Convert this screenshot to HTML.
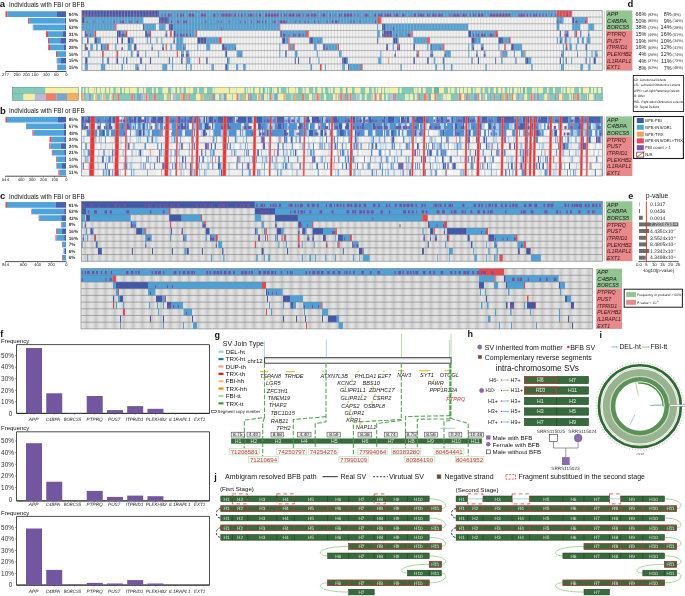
<!DOCTYPE html>
<html><head><meta charset="utf-8"><title>Figure</title>
<style>
html,body{margin:0;padding:0;background:#fff;}
body{width:685px;height:596px;overflow:hidden;}
svg{display:block;font-family:"Liberation Sans",sans-serif;will-change:transform;}
text{font-family:"Liberation Sans",sans-serif;}
.b{font-weight:bold;}
.i{font-style:italic;}
.t{stroke:currentColor;stroke-width:0.1;}
.g{text-rendering:geometricPrecision;}
</style></head><body>
<svg width="685" height="596" viewBox="0 0 685 596"><text x="-0.3" y="7.32" font-size="9.5" class="b" fill="#141414">a</text><text x="9" y="7.27" font-size="6.3" fill="#141414">Individuals with FBI or BFB</text><rect x="5.5" y="11.27" width="2.1" height="5.72" fill="#e84a50"/><rect x="7.6" y="11.27" width="49.4" height="5.72" fill="#50a3da"/><rect x="57" y="11.27" width="9" height="5.72" fill="#4662b0"/><text x="68.8" y="15.78" font-size="4.6" class="b g" fill="#3a3a3a">94%</text><rect x="28" y="17.92" width="1.2" height="5.72" fill="#e84a50"/><rect x="29.2" y="17.92" width="35.5" height="5.72" fill="#50a3da"/><rect x="64.7" y="17.92" width="1.3" height="5.72" fill="#4662b0"/><text x="68.8" y="22.43" font-size="4.6" class="b g" fill="#3a3a3a">59%</text><rect x="32.8" y="24.57" width="0.6" height="5.72" fill="#e84a50"/><rect x="33.4" y="24.57" width="31.5" height="5.72" fill="#50a3da"/><rect x="64.9" y="24.57" width="1.1" height="5.72" fill="#4662b0"/><text x="68.8" y="29.08" font-size="4.6" class="b g" fill="#3a3a3a">52%</text><rect x="46" y="31.22" width="2" height="5.72" fill="#e84a50"/><rect x="48" y="31.22" width="15" height="5.72" fill="#50a3da"/><rect x="63" y="31.22" width="3" height="5.72" fill="#4662b0"/><text x="68.8" y="35.73" font-size="4.6" class="b g" fill="#3a3a3a">31%</text><rect x="48" y="37.87" width="1" height="5.72" fill="#e84a50"/><rect x="49" y="37.87" width="11.3" height="5.72" fill="#50a3da"/><rect x="60.3" y="37.87" width="5.7" height="5.72" fill="#4662b0"/><text x="68.8" y="42.38" font-size="4.6" class="b g" fill="#3a3a3a">29%</text><rect x="48.2" y="44.52" width="1.8" height="5.72" fill="#e84a50"/><rect x="50" y="44.52" width="13.5" height="5.72" fill="#50a3da"/><rect x="63.5" y="44.52" width="2.5" height="5.72" fill="#4662b0"/><text x="68.8" y="49.03" font-size="4.6" class="b g" fill="#3a3a3a">28%</text><rect x="56" y="51.17" width="1" height="5.72" fill="#e84a50"/><rect x="57" y="51.17" width="9" height="5.72" fill="#50a3da"/><text x="68.8" y="55.68" font-size="4.6" class="b g" fill="#3a3a3a">16%</text><rect x="56.7" y="57.82" width="0.5" height="5.72" fill="#e84a50"/><rect x="57.2" y="57.82" width="3.8" height="5.72" fill="#50a3da"/><rect x="61" y="57.82" width="5" height="5.72" fill="#4662b0"/><text x="68.8" y="62.33" font-size="4.6" class="b g" fill="#3a3a3a">15%</text><rect x="57.2" y="64.47" width="0.6" height="5.72" fill="#e84a50"/><rect x="57.8" y="64.47" width="8.2" height="5.72" fill="#50a3da"/><text x="68.8" y="68.98" font-size="4.6" class="b g" fill="#3a3a3a">15%</text><line x1="5.5" y1="71.5" x2="66.2" y2="71.5" stroke="#222" stroke-width="0.8"/><line x1="5.5" y1="71.5" x2="5.5" y2="72.8" stroke="#222" stroke-width="0.5"/><text x="5.5" y="76.38" font-size="4.1" text-anchor="middle" class="g" fill="#141414">277</text><line x1="17.2" y1="71.5" x2="17.2" y2="72.8" stroke="#222" stroke-width="0.5"/><text x="17.2" y="76.38" font-size="4.1" text-anchor="middle" class="g" fill="#141414">250</text><line x1="26.3" y1="71.5" x2="26.3" y2="72.8" stroke="#222" stroke-width="0.5"/><text x="26.3" y="76.38" font-size="4.1" text-anchor="middle" class="g" fill="#141414">200</text><line x1="35" y1="71.5" x2="35" y2="72.8" stroke="#222" stroke-width="0.5"/><text x="35" y="76.38" font-size="4.1" text-anchor="middle" class="g" fill="#141414">150</text><line x1="46.4" y1="71.5" x2="46.4" y2="72.8" stroke="#222" stroke-width="0.5"/><text x="46.4" y="76.38" font-size="4.1" text-anchor="middle" class="g" fill="#141414">100</text><line x1="56.2" y1="71.5" x2="56.2" y2="72.8" stroke="#222" stroke-width="0.5"/><text x="56.2" y="76.38" font-size="4.1" text-anchor="middle" class="g" fill="#141414">50</text><line x1="66.4" y1="71.5" x2="66.4" y2="72.8" stroke="#222" stroke-width="0.5"/><text x="66.4" y="76.38" font-size="4.1" text-anchor="middle" class="g" fill="#141414">0</text><rect x="81.9" y="10.4" width="520.3" height="60.21" fill="#f1f1f1"/><path fill="#4259a9" d="M81.9 10.4h77.2v6.69h-77.2zM81.9 17.09h2.9v6.69h-2.9zM159.1 17.09h9.7v6.69h-9.7zM572.2 17.09h2.1v6.69h-2.1zM143 23.78h1.6v6.69h-1.6zM168.8 23.78h4.2v6.69h-4.2zM382 23.78h3.7v6.69h-3.7zM84.8 30.47h1.6v6.69h-1.6zM117 30.47h3.8v6.69h-3.8zM145 30.47h2.3v6.69h-2.3zM173.6 30.47h2.2v6.69h-2.2zM280.3 30.47h1.6v6.69h-1.6zM383.6 30.47h8.6v6.69h-8.6zM468.2 30.47h3.2v6.69h-3.2zM559.8 30.47h1.1v6.69h-1.1zM564.7 30.47h1v6.69h-1zM567.2 30.47h1.2v6.69h-1.2zM580.2 30.47h1.1v6.69h-1.1zM87 37.16h1.6v6.69h-1.6zM94.5 37.16h3.2v6.69h-3.2zM117 37.16h1v6.69h-1zM121.4 37.16h1.6v6.69h-1.6zM127.8 37.16h2.7v6.69h-2.7zM173.6 37.16h1.1v6.69h-1.1zM197.2 37.16h8.8v6.69h-8.8zM281.9 37.16h3.2v6.69h-3.2zM309.3 37.16h4.3v6.69h-4.3zM377.1 37.16h1.1v6.69h-1.1zM393.2 37.16h3.9v6.69h-3.9zM471.4 37.16h4.3v6.69h-4.3zM498.3 37.16h4.8v6.69h-4.8zM564.7 37.16h1.6v6.69h-1.6zM586.7 37.16h1v6.69h-1zM84.8 43.85h1.6v6.69h-1.6zM101 43.85h1v6.69h-1zM134.2 43.85h2.2v6.69h-2.2zM183.3 43.85h1.1v6.69h-1.1zM222.1 43.85h2.7v6.69h-2.7zM323.2 43.85h1.7v6.69h-1.7zM386.2 43.85h1.7v6.69h-1.7zM398.8 43.85h1v6.69h-1zM413.3 43.85h1.6v6.69h-1.6zM430.4 43.85h1.7v6.69h-1.7zM511.2 43.85h2.7v6.69h-2.7zM585.6 43.85h1.6v6.69h-1.6zM225.3 50.54h1.7v6.69h-1.7zM285.1 50.54h1.6v6.69h-1.6zM85.2 57.23h2.3v6.69h-2.3zM107.4 57.23h1.4v6.69h-1.4zM116.5 57.23h1.5v6.69h-1.5zM126.2 57.23h1.1v6.69h-1.1zM140.2 57.23h1.6v6.69h-1.6zM150 57.23h1v6.69h-1zM168.8 57.23h1.1v6.69h-1.1zM181.1 57.23h1.6v6.69h-1.6zM186.5 57.23h1.1v6.69h-1.1zM206 57.23h1.6v6.69h-1.6zM227 57.23h1.2v6.69h-1.2zM294.8 57.23h1.1v6.69h-1.1zM298 57.23h1.1v6.69h-1.1zM309.3 57.23h1.1v6.69h-1.1zM342.2 57.23h4.8v6.69h-4.8zM413.3 57.23h1.6v6.69h-1.6zM427.2 57.23h1.6v6.69h-1.6zM442.8 57.23h1.6v6.69h-1.6zM471.4 57.23h1.1v6.69h-1.1zM477.9 57.23h1.1v6.69h-1.1zM495 57.23h1.1v6.69h-1.1zM515.5 57.23h1v6.69h-1zM525.3 57.23h2.7v6.69h-2.7zM559.8 57.23h1.1v6.69h-1.1zM565.7 57.23h1.1v6.69h-1.1zM585.6 57.23h1.1v6.69h-1.1zM593.6 57.23h2.2v6.69h-2.2zM225.3 63.92h1.7v6.69h-1.7zM348.1 63.92h1.6v6.69h-1.6z"/><path fill="#4ea1d7" d="M159.1 10.4h397.5v6.69h-397.5zM84.8 17.09h58.6v6.69h-58.6zM168.8 17.09h208.3v6.69h-208.3zM556.6 17.09h7v6.69h-7zM574.3 17.09h11.8v6.69h-11.8zM81.9 23.78h33v6.69h-33zM144.6 23.78h11.3v6.69h-11.3zM159.1 23.78h6.5v6.69h-6.5zM173 23.78h106.2v6.69h-106.2zM377.1 23.78h1.1v6.69h-1.1zM385.7 23.78h82.5v6.69h-82.5zM556.6 23.78h2.7v6.69h-2.7zM572.2 23.78h8v6.69h-8zM588.3 23.78h5.9v6.69h-5.9zM86.4 30.47h8.1v6.69h-8.1zM120.8 30.47h4.8v6.69h-4.8zM147.3 30.47h2.7v6.69h-2.7zM165.6 30.47h1.6v6.69h-1.6zM175.8 30.47h19.8v6.69h-19.8zM281.9 30.47h24.1v6.69h-24.1zM377.1 30.47h2.7v6.69h-2.7zM382 30.47h1.6v6.69h-1.6zM392.2 30.47h19.4v6.69h-19.4zM471.4 30.47h23.6v6.69h-23.6zM565.7 30.47h1.5v6.69h-1.5zM574.2 30.47h1.2v6.69h-1.2zM588.3 30.47h1v6.69h-1zM81.9 37.16h0.8v6.69h-0.8zM97.7 37.16h3.3v6.69h-3.3zM130.5 37.16h3.2v6.69h-3.2zM146.8 37.16h1v6.69h-1zM150 37.16h1v6.69h-1zM156.4 37.16h1.1v6.69h-1.1zM161.3 37.16h1v6.69h-1zM176.3 37.16h7v6.69h-7zM206 37.16h12.9v6.69h-12.9zM285.1 37.16h3.2v6.69h-3.2zM313.6 37.16h9.1v6.69h-9.1zM397.1 37.16h1.7v6.69h-1.7zM413.3 37.16h13.9v6.69h-13.9zM475.7 37.16h4.9v6.69h-4.9zM503.1 37.16h5.9v6.69h-5.9zM557 37.16h1v6.69h-1zM559.8 37.16h2.7v6.69h-2.7zM566.3 37.16h1v6.69h-1zM569.5 37.16h1v6.69h-1zM577 37.16h2.1v6.69h-2.1zM581.8 37.16h2.2v6.69h-2.2zM587.7 37.16h2.7v6.69h-2.7zM90.2 43.85h2.7v6.69h-2.7zM96.1 43.85h1.6v6.69h-1.6zM102 43.85h4.9v6.69h-4.9zM114.9 43.85h1.6v6.69h-1.6zM127.8 43.85h3.8v6.69h-3.8zM151.6 43.85h1.1v6.69h-1.1zM162.3 43.85h1.6v6.69h-1.6zM170.4 43.85h1.4v6.69h-1.4zM175.8 43.85h6.9v6.69h-6.9zM184.4 43.85h1.6v6.69h-1.6zM197.2 43.85h1.1v6.69h-1.1zM206 43.85h4.3v6.69h-4.3zM224.8 43.85h11.2v6.69h-11.2zM279.2 43.85h1.1v6.69h-1.1zM289.6 43.85h3.6v6.69h-3.6zM314.1 43.85h2.7v6.69h-2.7zM324.9 43.85h12.5v6.69h-12.5zM392.7 43.85h1.1v6.69h-1.1zM427.2 43.85h1.1v6.69h-1.1zM432.1 43.85h10.7v6.69h-10.7zM468.2 43.85h1.1v6.69h-1.1zM471.4 43.85h2.6v6.69h-2.6zM481.1 43.85h2.7v6.69h-2.7zM498.3 43.85h1.1v6.69h-1.1zM513.9 43.85h8.1v6.69h-8.1zM563 43.85h1v6.69h-1zM569.5 43.85h2.5v6.69h-2.5zM575.8 43.85h1.1v6.69h-1.1zM88 50.54h1.7v6.69h-1.7zM131 50.54h1.6v6.69h-1.6zM136.9 50.54h2.1v6.69h-2.1zM145.1 50.54h1.1v6.69h-1.1zM158 50.54h1.1v6.69h-1.1zM181.1 50.54h2.7v6.69h-2.7zM186 50.54h3.2v6.69h-3.2zM236.6 50.54h5.9v6.69h-5.9zM279.2 50.54h1.1v6.69h-1.1zM294.8 50.54h2.7v6.69h-2.7zM316.8 50.54h1.1v6.69h-1.1zM339 50.54h2.7v6.69h-2.7zM380.3 50.54h1.1v6.69h-1.1zM395 50.54h1v6.69h-1zM416.5 50.54h1.1v6.69h-1.1zM430.4 50.54h2.7v6.69h-2.7zM444.4 50.54h6.5v6.69h-6.5zM468.2 50.54h1.1v6.69h-1.1zM476.3 50.54h1.6v6.69h-1.6zM483.8 50.54h1.6v6.69h-1.6zM500.4 50.54h1.1v6.69h-1.1zM502.6 50.54h4.8v6.69h-4.8zM513.9 50.54h1.1v6.69h-1.1zM521 50.54h3.8v6.69h-3.8zM561.3 50.54h2.7v6.69h-2.7zM577 50.54h1v6.69h-1zM586.1 50.54h1.1v6.69h-1.1zM591.5 50.54h1.1v6.69h-1.1zM594.7 50.54h2.7v6.69h-2.7zM102 57.23h1.6v6.69h-1.6zM123 57.23h1v6.69h-1zM172 57.23h1v6.69h-1zM187.6 57.23h2.7v6.69h-2.7zM228.2 57.23h1.4v6.69h-1.4zM318.4 57.23h1.1v6.69h-1.1zM347 57.23h1.1v6.69h-1.1zM378.2 57.23h3.2v6.69h-3.2zM433.7 57.23h1.6v6.69h-1.6zM501 57.23h1.6v6.69h-1.6zM528 57.23h3.2v6.69h-3.2zM562.9 57.23h1.1v6.69h-1.1zM571.1 57.23h1.1v6.69h-1.1zM589.3 57.23h1.1v6.69h-1.1zM84.8 63.92h3.2v6.69h-3.2zM101 63.92h4.2v6.69h-4.2zM121.4 63.92h1.6v6.69h-1.6zM135.3 63.92h3.2v6.69h-3.2zM145.1 63.92h1.1v6.69h-1.1zM162.3 63.92h4.9v6.69h-4.9zM172 63.92h1v6.69h-1zM186 63.92h1v6.69h-1zM190.3 63.92h1.6v6.69h-1.6zM211.4 63.92h2.6v6.69h-2.6zM227 63.92h1.6v6.69h-1.6zM236 63.92h2.2v6.69h-2.2zM243 63.92h2.7v6.69h-2.7zM310.4 63.92h1.6v6.69h-1.6zM324.9 63.92h1.1v6.69h-1.1zM342.2 63.92h2.7v6.69h-2.7zM349.7 63.92h11.3v6.69h-11.3zM400.4 63.92h1.6v6.69h-1.6zM435.3 63.92h1.6v6.69h-1.6zM443.3 63.92h1.7v6.69h-1.7zM450.9 63.92h1.6v6.69h-1.6zM485.4 63.92h1.6v6.69h-1.6zM531.2 63.92h1.6v6.69h-1.6zM560.9 63.92h3.1v6.69h-3.1zM580.2 63.92h2.7v6.69h-2.7zM588.3 63.92h2.1v6.69h-2.1z"/><path fill="#e8484b" d="M556.6 10.4h15.6v6.69h-15.6zM377.1 17.09h4.3v6.69h-4.3zM586.1 17.09h1.6v6.69h-1.6zM114.9 23.78h1.6v6.69h-1.6zM279.2 23.78h1.1v6.69h-1.1zM94.5 30.47h1.6v6.69h-1.6zM125.6 30.47h1.7v6.69h-1.7zM150 30.47h1v6.69h-1zM169.9 30.47h1.9v6.69h-1.9zM195.6 30.47h1.3v6.69h-1.3zM306 30.47h2.7v6.69h-2.7zM411.6 30.47h1.1v6.69h-1.1zM495 30.47h2.7v6.69h-2.7zM575.4 30.47h1.6v6.69h-1.6zM218.9 37.16h2.7v6.69h-2.7zM288.3 37.16h1.3v6.69h-1.3zM427.2 37.16h2.7v6.69h-2.7zM509 37.16h1.6v6.69h-1.6zM106.9 43.85h1.9v6.69h-1.9zM165.6 43.85h1.2v6.69h-1.2zM288.3 43.85h1.3v6.69h-1.3zM293.2 43.85h1.6v6.69h-1.6zM337.4 43.85h1.6v6.69h-1.6zM397.1 43.85h1.7v6.69h-1.7zM442.8 43.85h1.6v6.69h-1.6zM504.2 43.85h1.6v6.69h-1.6zM565.7 43.85h1.6v6.69h-1.6zM102 50.54h1.8v6.69h-1.8zM116.5 50.54h1.5v6.69h-1.5zM176.8 50.54h1.1v6.69h-1.1zM417.6 50.54h1.2v6.69h-1.2zM501.5 50.54h1.1v6.69h-1.1zM198.9 57.23h1v6.69h-1zM320 63.92h1.6v6.69h-1.6zM361 63.92h1.6v6.69h-1.6z"/><path fill="#f0a050" d="M524.8 50.54h1v6.69h-1zM387.9 57.23h1v6.69h-1z"/><path fill="#7a4f9f" d="M82.1 13.75h5.9v2.88h-5.9zM90.2 13.75h1v2.88h-1zM93.4 13.75h2.7v2.88h-2.7zM109 13.75h2.7v2.88h-2.7zM115.4 13.75h2.2v2.88h-2.2zM120.3 13.75h1v2.88h-1zM123.5 13.75h1v2.88h-1zM126.2 13.75h1v2.88h-1zM132.6 13.75h3.8v2.88h-3.8zM139 13.75h1v2.88h-1zM142.3 13.75h1v2.88h-1zM147.3 13.75h2.1v2.88h-2.1zM153.2 13.75h2.7v2.88h-2.7zM161.3 13.75h1v2.88h-1zM164.5 13.75h1.1v2.88h-1.1zM167.7 13.75h3.8v2.88h-3.8zM176.8 13.75h1.1v2.88h-1.1zM180 13.75h3.8v2.88h-3.8zM188.1 13.75h6.5v2.88h-6.5zM200.5 13.75h5.3v2.88h-5.3zM213 13.75h2.7v2.88h-2.7zM217.8 13.75h1.1v2.88h-1.1zM221 13.75h10.8v2.88h-10.8zM233.4 13.75h2.6v2.88h-2.6zM238.2 13.75h1.1v2.88h-1.1zM240.9 13.75h1.6v2.88h-1.6zM244.7 13.75h1v2.88h-1zM247.9 13.75h5.4v2.88h-5.4zM255.4 13.75h1.1v2.88h-1.1zM258.6 13.75h2.7v2.88h-2.7zM265.1 13.75h5.9v2.88h-5.9zM271 13.75h7.7v2.88h-7.7zM280.8 13.75h1.1v2.88h-1.1zM284 13.75h2.7v2.88h-2.7zM288.3 13.75h6.5v2.88h-6.5zM296.4 13.75h4.3v2.88h-4.3zM302.8 13.75h1.1v2.88h-1.1zM306 13.75h3.3v2.88h-3.3zM310.9 13.75h5.9v2.88h-5.9zM321.6 13.75h4.3v2.88h-4.3zM329.7 13.75h1.1v2.88h-1.1zM334.1 13.75h1.1v2.88h-1.1zM339 13.75h2.7v2.88h-2.7zM343.8 13.75h8.6v2.88h-8.6zM354.6 13.75h1v2.88h-1zM357.8 13.75h1.1v2.88h-1.1zM364.2 13.75h4.3v2.88h-4.3zM373.9 13.75h2.1v2.88h-2.1zM378.2 13.75h4.3v2.88h-4.3zM384.6 13.75h6.5v2.88h-6.5zM394.3 13.75h4.5v2.88h-4.5zM402 13.75h3.2v2.88h-3.2zM410 13.75h1.1v2.88h-1.1zM413.3 13.75h2.7v2.88h-2.7zM418.1 13.75h5.9v2.88h-5.9zM427.2 13.75h2.7v2.88h-2.7zM432.1 13.75h4.3v2.88h-4.3zM438 13.75h4.8v2.88h-4.8zM449.2 13.75h1.7v2.88h-1.7zM452.5 13.75h7.6v2.88h-7.6zM461.8 13.75h4.8v2.88h-4.8zM469.8 13.75h1.1v2.88h-1.1zM473 13.75h2.7v2.88h-2.7zM477.9 13.75h5.9v2.88h-5.9zM489.1 13.75h21.5v2.88h-21.5zM518.7 13.75h6.1v2.88h-6.1zM526.4 13.75h1.6v2.88h-1.6zM530.1 13.75h1.1v2.88h-1.1zM533.4 13.75h3.7v2.88h-3.7zM539.3 13.75h1v2.88h-1zM542.5 13.75h1.1v2.88h-1.1zM545.7 13.75h1.1v2.88h-1.1zM550.5 13.75h1.1v2.88h-1.1zM555.4 13.75h1.2v2.88h-1.2zM559.3 13.75h1.1v2.88h-1.1zM566.3 13.75h2.1v2.88h-2.1zM87 20.43h1v2.88h-1zM93.4 20.43h1.1v2.88h-1.1zM103 20.43h1v2.88h-1zM113.8 20.43h1.1v2.88h-1.1zM120.3 20.43h3.7v2.88h-3.7zM129.4 20.43h2.2v2.88h-2.2zM135.9 20.43h2.1v2.88h-2.1zM160.2 20.43h6.4v2.88h-6.4zM170.9 20.43h1.1v2.88h-1.1zM177.4 20.43h2.1v2.88h-2.1zM183.3 20.43h3.7v2.88h-3.7zM205.3 20.43h1.1v2.88h-1.1zM217.8 20.43h1.1v2.88h-1.1zM221 20.43h1.1v2.88h-1.1zM228.6 20.43h1v2.88h-1zM239.8 20.43h1.1v2.88h-1.1zM244.7 20.43h1v2.88h-1zM251.1 20.43h1.1v2.88h-1.1zM257 20.43h2.7v2.88h-2.7zM261.9 20.43h1.1v2.88h-1.1zM265.1 20.43h1.1v2.88h-1.1zM272.8 20.43h2.6v2.88h-2.6zM279.2 20.43h7.5v2.88h-7.5zM294.8 20.43h1.1v2.88h-1.1zM299.6 20.43h1.1v2.88h-1.1zM304.4 20.43h1.1v2.88h-1.1zM307.7 20.43h1v2.88h-1zM314.1 20.43h1.1v2.88h-1.1zM318.4 20.43h1.1v2.88h-1.1zM326.5 20.43h1v2.88h-1zM331.3 20.43h1.8v2.88h-1.8zM334.7 20.43h3.7v2.88h-3.7zM350.3 20.43h1v2.88h-1zM353.5 20.43h1.1v2.88h-1.1zM359.4 20.43h1.1v2.88h-1.1zM375 20.43h1v2.88h-1zM556.6 20.43h1.1v2.88h-1.1zM559.3 20.43h1.1v2.88h-1.1zM575.4 20.43h2.7v2.88h-2.7zM585 20.43h1.1v2.88h-1.1zM221 27.12h1.1v2.88h-1.1zM392.7 27.12h1.1v2.88h-1.1zM86 33.81h2v2.88h-2zM90 33.81h1v2.88h-1zM120.8 33.81h4.8v2.88h-4.8zM147.3 33.81h2.7v2.88h-2.7zM165.6 33.81h1.6v2.88h-1.6zM176.8 33.81h1.1v2.88h-1.1zM180 33.81h2.7v2.88h-2.7zM183.3 33.81h1.1v2.88h-1.1zM186 33.81h1.6v2.88h-1.6zM190 33.81h1v2.88h-1zM283 33.81h3v2.88h-3zM288.3 33.81h1.1v2.88h-1.1zM293.2 33.81h2.6v2.88h-2.6zM298 33.81h2.7v2.88h-2.7zM302.8 33.81h1.1v2.88h-1.1zM382 33.81h10.2v2.88h-10.2zM396 33.81h1v2.88h-1zM401 33.81h1v2.88h-1zM406.8 33.81h4.2v2.88h-4.2zM473 33.81h1v2.88h-1zM476.3 33.81h2.7v2.88h-2.7zM481.1 33.81h4.3v2.88h-4.3zM489.1 33.81h4.3v2.88h-4.3zM496.7 33.81h1v2.88h-1zM559.8 33.81h1.1v2.88h-1.1zM564.7 33.81h1v2.88h-1zM565.7 33.81h2.7v2.88h-2.7zM588.3 33.81h1v2.88h-1zM173.6 40.51h1.1v2.88h-1.1zM201 40.51h2v2.88h-2zM318.4 40.51h1.1v2.88h-1.1zM559.8 40.51h1.2v2.88h-1.2zM85.4 47.2h2.6v2.88h-2.6zM121.4 47.2h1.6v2.88h-1.6zM134.2 47.2h2.2v2.88h-2.2zM151.6 47.2h1.1v2.88h-1.1zM162.3 47.2h1.6v2.88h-1.6zM183.3 47.2h1.1v2.88h-1.1zM224 47.2h2.4v2.88h-2.4zM235 47.2h1v2.88h-1zM326.5 47.2h1v2.88h-1zM386.2 47.2h1.7v2.88h-1.7zM397 47.2h2.8v2.88h-2.8zM440 47.2h1v2.88h-1zM473 47.2h1v2.88h-1zM481.1 47.2h2.7v2.88h-2.7zM511.2 47.2h2.7v2.88h-2.7zM565.7 47.2h1.6v2.88h-1.6zM136.9 53.88h2.1v2.88h-2.1zM181.1 53.88h2.7v2.88h-2.7zM186 53.88h3.2v2.88h-3.2zM239.8 53.88h1.1v2.88h-1.1zM394.3 53.88h1.7v2.88h-1.7zM416.5 53.88h1.5v2.88h-1.5zM430.4 53.88h2.7v2.88h-2.7zM444.4 53.88h1.1v2.88h-1.1zM476.3 53.88h1.6v2.88h-1.6zM483.8 53.88h1.6v2.88h-1.6zM561.3 53.88h1.6v2.88h-1.6zM577 53.88h1v2.88h-1zM596.3 53.88h1.1v2.88h-1.1zM136.9 67.27h1.6v2.88h-1.6z"/><path d="M84.94 10.4V70.61M87.99 10.4V70.61M91.03 10.4V70.61M94.07 10.4V70.61M97.11 10.4V70.61M100.16 10.4V70.61M103.2 10.4V70.61M106.24 10.4V70.61M109.28 10.4V70.61M112.33 10.4V70.61M115.37 10.4V70.61M118.41 10.4V70.61M121.45 10.4V70.61M124.5 10.4V70.61M127.54 10.4V70.61M130.58 10.4V70.61M133.63 10.4V70.61M136.67 10.4V70.61M139.71 10.4V70.61M142.75 10.4V70.61M145.8 10.4V70.61M148.84 10.4V70.61M151.88 10.4V70.61M154.92 10.4V70.61M157.97 10.4V70.61M161.01 10.4V70.61M164.05 10.4V70.61M167.1 10.4V70.61M170.14 10.4V70.61M173.18 10.4V70.61M176.22 10.4V70.61M179.27 10.4V70.61M182.31 10.4V70.61M185.35 10.4V70.61M188.39 10.4V70.61M191.44 10.4V70.61M194.48 10.4V70.61M197.52 10.4V70.61M200.56 10.4V70.61M203.61 10.4V70.61M206.65 10.4V70.61M209.69 10.4V70.61M212.74 10.4V70.61M215.78 10.4V70.61M218.82 10.4V70.61M221.86 10.4V70.61M224.91 10.4V70.61M227.95 10.4V70.61M230.99 10.4V70.61M234.03 10.4V70.61M237.08 10.4V70.61M240.12 10.4V70.61M243.16 10.4V70.61M246.21 10.4V70.61M249.25 10.4V70.61M252.29 10.4V70.61M255.33 10.4V70.61M258.38 10.4V70.61M261.42 10.4V70.61M264.46 10.4V70.61M267.5 10.4V70.61M270.55 10.4V70.61M273.59 10.4V70.61M276.63 10.4V70.61M279.67 10.4V70.61M282.72 10.4V70.61M285.76 10.4V70.61M288.8 10.4V70.61M291.85 10.4V70.61M294.89 10.4V70.61M297.93 10.4V70.61M300.97 10.4V70.61M304.02 10.4V70.61M307.06 10.4V70.61M310.1 10.4V70.61M313.14 10.4V70.61M316.19 10.4V70.61M319.23 10.4V70.61M322.27 10.4V70.61M325.32 10.4V70.61M328.36 10.4V70.61M331.4 10.4V70.61M334.44 10.4V70.61M337.49 10.4V70.61M340.53 10.4V70.61M343.57 10.4V70.61M346.61 10.4V70.61M349.66 10.4V70.61M352.7 10.4V70.61M355.74 10.4V70.61M358.78 10.4V70.61M361.83 10.4V70.61M364.87 10.4V70.61M367.91 10.4V70.61M370.96 10.4V70.61M374 10.4V70.61M377.04 10.4V70.61M380.08 10.4V70.61M383.13 10.4V70.61M386.17 10.4V70.61M389.21 10.4V70.61M392.25 10.4V70.61M395.3 10.4V70.61M398.34 10.4V70.61M401.38 10.4V70.61M404.43 10.4V70.61M407.47 10.4V70.61M410.51 10.4V70.61M413.55 10.4V70.61M416.6 10.4V70.61M419.64 10.4V70.61M422.68 10.4V70.61M425.72 10.4V70.61M428.77 10.4V70.61M431.81 10.4V70.61M434.85 10.4V70.61M437.89 10.4V70.61M440.94 10.4V70.61M443.98 10.4V70.61M447.02 10.4V70.61M450.07 10.4V70.61M453.11 10.4V70.61M456.15 10.4V70.61M459.19 10.4V70.61M462.24 10.4V70.61M465.28 10.4V70.61M468.32 10.4V70.61M471.36 10.4V70.61M474.41 10.4V70.61M477.45 10.4V70.61M480.49 10.4V70.61M483.54 10.4V70.61M486.58 10.4V70.61M489.62 10.4V70.61M492.66 10.4V70.61M495.71 10.4V70.61M498.75 10.4V70.61M501.79 10.4V70.61M504.83 10.4V70.61M507.88 10.4V70.61M510.92 10.4V70.61M513.96 10.4V70.61M517 10.4V70.61M520.05 10.4V70.61M523.09 10.4V70.61M526.13 10.4V70.61M529.18 10.4V70.61M532.22 10.4V70.61M535.26 10.4V70.61M538.3 10.4V70.61M541.35 10.4V70.61M544.39 10.4V70.61M547.43 10.4V70.61M550.47 10.4V70.61M553.52 10.4V70.61M556.56 10.4V70.61M559.6 10.4V70.61M562.65 10.4V70.61M565.69 10.4V70.61M568.73 10.4V70.61M571.77 10.4V70.61M574.82 10.4V70.61M577.86 10.4V70.61M580.9 10.4V70.61M583.94 10.4V70.61M586.99 10.4V70.61M590.03 10.4V70.61M593.07 10.4V70.61M596.11 10.4V70.61M599.16 10.4V70.61" stroke="#bdbdbd" stroke-width="0.55" opacity="0.75"/><path d="M81.9 17.09H602.2M81.9 23.78H602.2M81.9 30.47H602.2M81.9 37.16H602.2M81.9 43.85H602.2M81.9 50.54H602.2M81.9 57.23H602.2M81.9 63.92H602.2" stroke="#8e8e8e" stroke-width="0.6"/><rect x="81.9" y="10.4" width="520.3" height="60.21" fill="none" stroke="#8a8a8a" stroke-width="0.7"/><line x1="604.3" y1="10.4" x2="604.3" y2="70.61" stroke="#cfcfcf" stroke-width="1.2"/><rect x="606" y="10.4" width="26.4" height="20.07" fill="#93c593"/><rect x="606" y="30.47" width="26.4" height="40.14" fill="#e8898c"/><text x="607.1" y="15.85" font-size="5.85" class="i" fill="#151515" textLength="11.2" lengthAdjust="spacingAndGlyphs">APP</text><text x="607.1" y="22.54" font-size="5.85" class="i" fill="#151515" textLength="19.9" lengthAdjust="spacingAndGlyphs">C4BPA</text><text x="607.1" y="29.23" font-size="5.85" class="i" fill="#151515" textLength="21.9" lengthAdjust="spacingAndGlyphs">BORCS5</text><text x="607.1" y="35.92" font-size="5.85" class="i" fill="#3a1215" textLength="18.8" lengthAdjust="spacingAndGlyphs">PTPRQ</text><text x="607.1" y="42.61" font-size="5.85" class="i" fill="#3a1215" textLength="14.2" lengthAdjust="spacingAndGlyphs">PUS7</text><text x="607.1" y="49.3" font-size="5.85" class="i" fill="#3a1215" textLength="20.3" lengthAdjust="spacingAndGlyphs">ITPRID1</text><text x="607.1" y="55.99" font-size="5.85" class="i" fill="#3a1215" textLength="24.5" lengthAdjust="spacingAndGlyphs">PLEKHB2</text><text x="607.1" y="62.68" font-size="5.85" class="i" fill="#3a1215" textLength="24.2" lengthAdjust="spacingAndGlyphs">IL1RAPL1</text><text x="607.1" y="69.37" font-size="5.85" class="i" fill="#3a1215" textLength="13.1" lengthAdjust="spacingAndGlyphs">EXT1</text><text x="627.6" y="7.02" font-size="9.5" class="b" fill="#141414">d</text><text x="646.5" y="16.03" font-size="5.5" text-anchor="end" fill="#222">66%</text><text x="647.7" y="15.65" font-size="3.9" class="g" fill="#333">(92%)</text><text x="671.6" y="16.03" font-size="5.5" text-anchor="end" fill="#222">8%</text><text x="672.6" y="15.65" font-size="3.9" class="g" fill="#333">(8%)</text><text x="646.5" y="22.71" font-size="5.5" text-anchor="end" fill="#222">50%</text><text x="647.7" y="22.34" font-size="3.9" class="g" fill="#333">(85%)</text><text x="671.6" y="22.71" font-size="5.5" text-anchor="end" fill="#222">9%</text><text x="672.6" y="22.34" font-size="3.9" class="g" fill="#333">(16%)</text><text x="646.5" y="29.41" font-size="5.5" text-anchor="end" fill="#222">38%</text><text x="647.7" y="29.03" font-size="3.9" class="g" fill="#333">(72%)</text><text x="671.6" y="29.41" font-size="5.5" text-anchor="end" fill="#222">14%</text><text x="672.6" y="29.03" font-size="3.9" class="g" fill="#333">(28%)</text><text x="646.5" y="36.09" font-size="5.5" text-anchor="end" fill="#222">15%</text><text x="647.7" y="35.72" font-size="3.9" class="g" fill="#333">(49%)</text><text x="671.6" y="36.09" font-size="5.5" text-anchor="end" fill="#222">16%</text><text x="672.6" y="35.72" font-size="3.9" class="g" fill="#333">(51%)</text><text x="646.5" y="42.78" font-size="5.5" text-anchor="end" fill="#222">19%</text><text x="647.7" y="42.41" font-size="3.9" class="g" fill="#333">(66%)</text><text x="671.6" y="42.78" font-size="5.5" text-anchor="end" fill="#222">10%</text><text x="672.6" y="42.41" font-size="3.9" class="g" fill="#333">(34%)</text><text x="646.5" y="49.47" font-size="5.5" text-anchor="end" fill="#222">16%</text><text x="647.7" y="49.1" font-size="3.9" class="g" fill="#333">(59%)</text><text x="671.6" y="49.47" font-size="5.5" text-anchor="end" fill="#222">12%</text><text x="672.6" y="49.1" font-size="3.9" class="g" fill="#333">(41%)</text><text x="646.5" y="56.16" font-size="5.5" text-anchor="end" fill="#222">4%</text><text x="647.7" y="55.79" font-size="3.9" class="g" fill="#333">(26%)</text><text x="671.6" y="56.16" font-size="5.5" text-anchor="end" fill="#222">12%</text><text x="672.6" y="55.79" font-size="3.9" class="g" fill="#333">(74%)</text><text x="646.5" y="62.85" font-size="5.5" text-anchor="end" fill="#222">4%</text><text x="647.7" y="62.48" font-size="3.9" class="g" fill="#333">(27%)</text><text x="671.6" y="62.85" font-size="5.5" text-anchor="end" fill="#222">11%</text><text x="672.6" y="62.48" font-size="3.9" class="g" fill="#333">(73%)</text><text x="646.5" y="69.55" font-size="5.5" text-anchor="end" fill="#222">8%</text><text x="647.7" y="69.17" font-size="3.9" class="g" fill="#333">(52%)</text><text x="671.6" y="69.55" font-size="5.5" text-anchor="end" fill="#222">7%</text><text x="672.6" y="69.17" font-size="3.9" class="g" fill="#333">(48%)</text><rect x="12.3" y="87.2" width="33.2" height="6.4" fill="#80cbbb"/><rect x="45.5" y="87.2" width="33" height="6.4" fill="#f3f0a6"/><rect x="12.3" y="93.6" width="11.3" height="6.8" fill="#80cbbb"/><rect x="23.6" y="93.6" width="11.1" height="6.8" fill="#f3f0a6"/><rect x="34.7" y="93.6" width="10.8" height="6.8" fill="#bcb8d8"/><rect x="45.5" y="93.6" width="10.9" height="6.8" fill="#f07c6e"/><rect x="56.4" y="93.6" width="10.6" height="6.8" fill="#74a8d2"/><rect x="67" y="93.6" width="11.5" height="6.8" fill="#f7ad62"/><rect x="12.3" y="87.2" width="66.2" height="13.2" fill="none" stroke="#777" stroke-width="0.5"/><line x1="12.3" y1="93.6" x2="78.5" y2="93.6" stroke="#777" stroke-width="0.4"/><path fill="#7fcab9" d="M81.4 87.2h1.5v6.4h-1.5zM83.8 87.2h2v6.4h-2zM93.9 87.2h0.9v6.4h-0.9zM96 87.2h1.2v6.4h-1.2zM100.1 87.2h1.2v6.4h-1.2zM104.5 87.2h2v6.4h-2zM109 87.2h1.5v6.4h-1.5zM113.2 87.2h1.2v6.4h-1.2zM114.4 87.2h1.5v6.4h-1.5zM117.4 87.2h0.9v6.4h-0.9zM119.8 87.2h1.5v6.4h-1.5zM121.3 87.2h0.9v6.4h-0.9zM123.7 87.2h1.5v6.4h-1.5zM129.1 87.2h0.9v6.4h-0.9zM136.5 87.2h2.5v6.4h-2.5zM140.5 87.2h0.9v6.4h-0.9zM142.9 87.2h1.2v6.4h-1.2zM145.6 87.2h1.5v6.4h-1.5zM147.1 87.2h1.2v6.4h-1.2zM148.3 87.2h1.5v6.4h-1.5zM149.8 87.2h2.5v6.4h-2.5zM153.5 87.2h1.2v6.4h-1.2zM154.7 87.2h1.5v6.4h-1.5zM157.7 87.2h1.5v6.4h-1.5zM159.2 87.2h1.5v6.4h-1.5zM160.7 87.2h2v6.4h-2zM167.7 87.2h1.5v6.4h-1.5zM170.7 87.2h0.9v6.4h-0.9zM172.5 87.2h0.9v6.4h-0.9zM179.3 87.2h1.5v6.4h-1.5zM180.8 87.2h0.9v6.4h-0.9zM183.2 87.2h1.5v6.4h-1.5zM184.7 87.2h1.5v6.4h-1.5zM188.7 87.2h0.9v6.4h-0.9zM193.1 87.2h2v6.4h-2zM195.1 87.2h0.9v6.4h-0.9zM196 87.2h1.5v6.4h-1.5zM198.7 87.2h2v6.4h-2zM200.7 87.2h1.2v6.4h-1.2zM201.9 87.2h2.5v6.4h-2.5zM206.8 87.2h1.5v6.4h-1.5zM208.3 87.2h2v6.4h-2zM210.3 87.2h2.5v6.4h-2.5zM214.3 87.2h0.9v6.4h-0.9zM228.7 87.2h1.5v6.4h-1.5zM236.3 87.2h0.9v6.4h-0.9zM244.2 87.2h1.2v6.4h-1.2zM245.4 87.2h0.9v6.4h-0.9zM247.2 87.2h1.2v6.4h-1.2zM249.6 87.2h1.2v6.4h-1.2zM252.8 87.2h2v6.4h-2zM258.8 87.2h2v6.4h-2zM264 87.2h1.5v6.4h-1.5zM266.7 87.2h1.5v6.4h-1.5zM269.1 87.2h2v6.4h-2zM273.2 87.2h0.9v6.4h-0.9zM277 87.2h2v6.4h-2zM280.5 87.2h1.5v6.4h-1.5zM282 87.2h2v6.4h-2zM284 87.2h1.5v6.4h-1.5zM285.5 87.2h1.2v6.4h-1.2zM287.6 87.2h1.5v6.4h-1.5zM295.2 87.2h1.2v6.4h-1.2zM297.9 87.2h0.9v6.4h-0.9zM298.8 87.2h2.5v6.4h-2.5zM301.3 87.2h1.5v6.4h-1.5zM304.3 87.2h1.5v6.4h-1.5zM308.8 87.2h1.5v6.4h-1.5zM310.3 87.2h2v6.4h-2zM312.3 87.2h1.2v6.4h-1.2zM315 87.2h1.2v6.4h-1.2zM316.2 87.2h1.5v6.4h-1.5zM321.2 87.2h2v6.4h-2zM324.7 87.2h2.5v6.4h-2.5zM327.2 87.2h1.5v6.4h-1.5zM330.2 87.2h1.2v6.4h-1.2zM332.9 87.2h2v6.4h-2zM339.8 87.2h1.5v6.4h-1.5zM341.3 87.2h1.5v6.4h-1.5zM351.9 87.2h2v6.4h-2zM353.9 87.2h0.9v6.4h-0.9zM360.3 87.2h1.2v6.4h-1.2zM361.5 87.2h2.5v6.4h-2.5zM364 87.2h1.5v6.4h-1.5zM368.9 87.2h1.5v6.4h-1.5zM370.4 87.2h1.5v6.4h-1.5zM373.4 87.2h2.5v6.4h-2.5zM377.1 87.2h0.9v6.4h-0.9zM380.9 87.2h1.5v6.4h-1.5zM383.9 87.2h1.5v6.4h-1.5zM386.6 87.2h0.9v6.4h-0.9zM388.7 87.2h0.9v6.4h-0.9zM397.8 87.2h2v6.4h-2zM401.3 87.2h2.5v6.4h-2.5zM403.8 87.2h2.5v6.4h-2.5zM406.3 87.2h2.5v6.4h-2.5zM408.8 87.2h2v6.4h-2zM410.8 87.2h0.9v6.4h-0.9zM411.7 87.2h2.5v6.4h-2.5zM415.4 87.2h0.9v6.4h-0.9zM417.2 87.2h1.5v6.4h-1.5zM422.4 87.2h0.9v6.4h-0.9zM425.3 87.2h2v6.4h-2zM427.3 87.2h1.5v6.4h-1.5zM428.8 87.2h1.2v6.4h-1.2zM430 87.2h2.5v6.4h-2.5zM445.4 87.2h1.5v6.4h-1.5zM446.9 87.2h1.2v6.4h-1.2zM450.1 87.2h1.5v6.4h-1.5zM455.4 87.2h2v6.4h-2zM458.9 87.2h1.2v6.4h-1.2zM462.6 87.2h1.5v6.4h-1.5zM467 87.2h1.2v6.4h-1.2zM470.6 87.2h2.5v6.4h-2.5zM474.3 87.2h1.5v6.4h-1.5zM480.3 87.2h2.5v6.4h-2.5zM484.3 87.2h2v6.4h-2zM486.3 87.2h1.5v6.4h-1.5zM487.8 87.2h0.9v6.4h-0.9zM489.9 87.2h1.5v6.4h-1.5zM491.4 87.2h1.5v6.4h-1.5zM492.9 87.2h0.9v6.4h-0.9zM495.8 87.2h2.5v6.4h-2.5zM501 87.2h1.5v6.4h-1.5zM504.5 87.2h1.5v6.4h-1.5zM506 87.2h1.5v6.4h-1.5zM509 87.2h1.2v6.4h-1.2zM511.7 87.2h2.5v6.4h-2.5zM517.2 87.2h1.5v6.4h-1.5zM519.9 87.2h1.5v6.4h-1.5zM526.4 87.2h2.5v6.4h-2.5zM528.9 87.2h1.5v6.4h-1.5zM530.4 87.2h2v6.4h-2zM534.4 87.2h1.2v6.4h-1.2zM537.1 87.2h1.5v6.4h-1.5zM542.5 87.2h1.5v6.4h-1.5zM544 87.2h2v6.4h-2zM546 87.2h1.2v6.4h-1.2zM548.4 87.2h2.5v6.4h-2.5zM550.9 87.2h2.5v6.4h-2.5zM554.9 87.2h0.9v6.4h-0.9zM555.8 87.2h2v6.4h-2zM557.8 87.2h1.5v6.4h-1.5zM559.3 87.2h2v6.4h-2zM562.2 87.2h1.5v6.4h-1.5zM565.2 87.2h2v6.4h-2zM570.2 87.2h1.2v6.4h-1.2zM574.1 87.2h1.5v6.4h-1.5zM575.6 87.2h2.5v6.4h-2.5zM578.1 87.2h1.2v6.4h-1.2zM580.5 87.2h2.5v6.4h-2.5zM588.9 87.2h0.9v6.4h-0.9zM589.8 87.2h1.5v6.4h-1.5zM592.8 87.2h1.5v6.4h-1.5zM596.3 87.2h1.2v6.4h-1.2zM597.5 87.2h0.9v6.4h-0.9zM600.8 87.2h1.2v6.4h-1.2zM83.9 93.6h2.5v6.8h-2.5zM87.3 93.6h1.5v6.8h-1.5zM91.3 93.6h2.5v6.8h-2.5zM96.8 93.6h1.5v6.8h-1.5zM98.3 93.6h0.9v6.8h-0.9zM99.2 93.6h1.5v6.8h-1.5zM103.1 93.6h1.2v6.8h-1.2zM105.8 93.6h1.5v6.8h-1.5zM107.3 93.6h2.5v6.8h-2.5zM111.3 93.6h1.5v6.8h-1.5zM114.3 93.6h1.5v6.8h-1.5zM115.8 93.6h1.5v6.8h-1.5zM119.8 93.6h0.9v6.8h-0.9zM120.7 93.6h1.5v6.8h-1.5zM122.2 93.6h0.9v6.8h-0.9zM123.1 93.6h2.5v6.8h-2.5zM125.6 93.6h2v6.8h-2zM127.6 93.6h1.5v6.8h-1.5zM129.1 93.6h2v6.8h-2zM135.1 93.6h1.5v6.8h-1.5zM141.1 93.6h0.9v6.8h-0.9zM142 93.6h1.2v6.8h-1.2zM149.9 93.6h1.2v6.8h-1.2zM151.1 93.6h2.5v6.8h-2.5zM156.1 93.6h2v6.8h-2zM158.1 93.6h1.5v6.8h-1.5zM159.6 93.6h2v6.8h-2zM161.6 93.6h1.2v6.8h-1.2zM162.8 93.6h1.2v6.8h-1.2zM166.4 93.6h1.5v6.8h-1.5zM169.4 93.6h0.9v6.8h-0.9zM170.3 93.6h0.9v6.8h-0.9zM175.2 93.6h1.2v6.8h-1.2zM176.4 93.6h1.5v6.8h-1.5zM177.9 93.6h2.5v6.8h-2.5zM184.9 93.6h1.5v6.8h-1.5zM186.4 93.6h2v6.8h-2zM189.9 93.6h1.2v6.8h-1.2zM191.1 93.6h1.2v6.8h-1.2zM192.3 93.6h1.2v6.8h-1.2zM193.5 93.6h2v6.8h-2zM195.5 93.6h0.9v6.8h-0.9zM199.7 93.6h0.9v6.8h-0.9zM203.3 93.6h1.5v6.8h-1.5zM204.8 93.6h1.5v6.8h-1.5zM206.3 93.6h0.9v6.8h-0.9zM207.2 93.6h2v6.8h-2zM209.2 93.6h0.9v6.8h-0.9zM210.1 93.6h1.2v6.8h-1.2zM218.7 93.6h1.2v6.8h-1.2zM219.9 93.6h1.5v6.8h-1.5zM229.6 93.6h0.9v6.8h-0.9zM232 93.6h0.9v6.8h-0.9zM239.5 93.6h2.5v6.8h-2.5zM242 93.6h0.9v6.8h-0.9zM244.9 93.6h1.5v6.8h-1.5zM252.1 93.6h1.5v6.8h-1.5zM253.6 93.6h0.9v6.8h-0.9zM254.5 93.6h1.5v6.8h-1.5zM256 93.6h1.2v6.8h-1.2zM260.6 93.6h1.5v6.8h-1.5zM266.6 93.6h1.2v6.8h-1.2zM269 93.6h0.9v6.8h-0.9zM271.4 93.6h1.2v6.8h-1.2zM273.5 93.6h1.5v6.8h-1.5zM277 93.6h1.5v6.8h-1.5zM285.4 93.6h1.5v6.8h-1.5zM286.9 93.6h1.2v6.8h-1.2zM288.1 93.6h2v6.8h-2zM290.1 93.6h1.5v6.8h-1.5zM292.8 93.6h1.2v6.8h-1.2zM296 93.6h2.5v6.8h-2.5zM298.5 93.6h1.5v6.8h-1.5zM300 93.6h2v6.8h-2zM304.5 93.6h2.5v6.8h-2.5zM307 93.6h2v6.8h-2zM312 93.6h1.2v6.8h-1.2zM315.2 93.6h1.5v6.8h-1.5zM320.2 93.6h1.5v6.8h-1.5zM321.7 93.6h0.9v6.8h-0.9zM322.6 93.6h1.5v6.8h-1.5zM325.6 93.6h2.5v6.8h-2.5zM328.1 93.6h2.5v6.8h-2.5zM330.6 93.6h2.5v6.8h-2.5zM338 93.6h1.2v6.8h-1.2zM342.6 93.6h0.9v6.8h-0.9zM343.5 93.6h1.5v6.8h-1.5zM351.6 93.6h1.2v6.8h-1.2zM352.8 93.6h2v6.8h-2zM354.8 93.6h1.5v6.8h-1.5zM358.3 93.6h1.5v6.8h-1.5zM361.3 93.6h1.2v6.8h-1.2zM362.5 93.6h0.9v6.8h-0.9zM363.4 93.6h1.5v6.8h-1.5zM366.4 93.6h1.5v6.8h-1.5zM367.9 93.6h1.5v6.8h-1.5zM369.4 93.6h2v6.8h-2zM376.4 93.6h0.9v6.8h-0.9zM380.8 93.6h1.5v6.8h-1.5zM383.8 93.6h1.5v6.8h-1.5zM385.3 93.6h0.9v6.8h-0.9zM387.4 93.6h0.9v6.8h-0.9zM388.3 93.6h2v6.8h-2zM396.3 93.6h2.5v6.8h-2.5zM398.8 93.6h1.2v6.8h-1.2zM400 93.6h2.5v6.8h-2.5zM402.5 93.6h2v6.8h-2zM404.5 93.6h0.9v6.8h-0.9zM406.6 93.6h0.9v6.8h-0.9zM408.4 93.6h1.5v6.8h-1.5zM412.9 93.6h2v6.8h-2zM416.4 93.6h1.5v6.8h-1.5zM420 93.6h1.5v6.8h-1.5zM421.5 93.6h2.5v6.8h-2.5zM428 93.6h0.9v6.8h-0.9zM436.4 93.6h1.2v6.8h-1.2zM437.6 93.6h0.9v6.8h-0.9zM438.5 93.6h2v6.8h-2zM440.5 93.6h1.2v6.8h-1.2zM442.6 93.6h0.9v6.8h-0.9zM445.5 93.6h1.2v6.8h-1.2zM450.4 93.6h2.5v6.8h-2.5zM452.9 93.6h2v6.8h-2zM454.9 93.6h1.5v6.8h-1.5zM456.4 93.6h2.5v6.8h-2.5zM468.8 93.6h1.5v6.8h-1.5zM470.3 93.6h0.9v6.8h-0.9zM471.2 93.6h2.5v6.8h-2.5zM480.7 93.6h2.5v6.8h-2.5zM486.7 93.6h1.2v6.8h-1.2zM487.9 93.6h2v6.8h-2zM491.4 93.6h2.5v6.8h-2.5zM495.1 93.6h1.5v6.8h-1.5zM496.6 93.6h1.5v6.8h-1.5zM498.1 93.6h1.2v6.8h-1.2zM504.3 93.6h2v6.8h-2zM508.3 93.6h0.9v6.8h-0.9zM509.2 93.6h2.5v6.8h-2.5zM515.6 93.6h1.2v6.8h-1.2zM516.8 93.6h0.9v6.8h-0.9zM521.2 93.6h2.5v6.8h-2.5zM523.7 93.6h0.9v6.8h-0.9zM527.1 93.6h2.5v6.8h-2.5zM529.6 93.6h0.9v6.8h-0.9zM539.1 93.6h0.9v6.8h-0.9zM540 93.6h1.2v6.8h-1.2zM542.1 93.6h2.5v6.8h-2.5zM547.1 93.6h1.5v6.8h-1.5zM549.5 93.6h2.5v6.8h-2.5zM552 93.6h1.5v6.8h-1.5zM553.5 93.6h1.5v6.8h-1.5zM563.3 93.6h0.9v6.8h-0.9zM564.2 93.6h0.9v6.8h-0.9zM565.1 93.6h2.5v6.8h-2.5zM567.6 93.6h2v6.8h-2zM570.5 93.6h1.5v6.8h-1.5zM574.4 93.6h0.9v6.8h-0.9zM575.3 93.6h1.5v6.8h-1.5zM580.5 93.6h2v6.8h-2zM582.5 93.6h2v6.8h-2zM584.5 93.6h1.2v6.8h-1.2zM593.3 93.6h1.5v6.8h-1.5zM596.3 93.6h2.5v6.8h-2.5zM598.8 93.6h2.5v6.8h-2.5zM601.3 93.6h1.2v6.8h-1.2z"/><path fill="#f3f0a6" d="M82.9 87.2h0.9v6.4h-0.9zM85.8 87.2h2v6.4h-2zM88.7 87.2h0.9v6.4h-0.9zM89.6 87.2h0.9v6.4h-0.9zM90.5 87.2h0.9v6.4h-0.9zM91.4 87.2h2.5v6.4h-2.5zM94.8 87.2h1.2v6.4h-1.2zM97.2 87.2h0.9v6.4h-0.9zM98.1 87.2h2v6.4h-2zM101.3 87.2h1.2v6.4h-1.2zM102.5 87.2h2v6.4h-2zM106.5 87.2h2.5v6.4h-2.5zM110.5 87.2h1.5v6.4h-1.5zM112 87.2h1.2v6.4h-1.2zM115.9 87.2h1.5v6.4h-1.5zM118.3 87.2h1.5v6.4h-1.5zM122.2 87.2h1.5v6.4h-1.5zM125.2 87.2h1.5v6.4h-1.5zM126.7 87.2h0.9v6.4h-0.9zM127.6 87.2h1.5v6.4h-1.5zM130 87.2h2.5v6.4h-2.5zM132.5 87.2h2.5v6.4h-2.5zM135 87.2h1.5v6.4h-1.5zM139 87.2h1.5v6.4h-1.5zM141.4 87.2h1.5v6.4h-1.5zM144.1 87.2h1.5v6.4h-1.5zM152.3 87.2h1.2v6.4h-1.2zM156.2 87.2h1.5v6.4h-1.5zM162.7 87.2h2.5v6.4h-2.5zM165.2 87.2h2.5v6.4h-2.5zM171.6 87.2h0.9v6.4h-0.9zM173.4 87.2h2v6.4h-2zM176.9 87.2h1.2v6.4h-1.2zM178.1 87.2h1.2v6.4h-1.2zM181.7 87.2h1.5v6.4h-1.5zM186.2 87.2h2.5v6.4h-2.5zM189.6 87.2h1.5v6.4h-1.5zM191.1 87.2h2v6.4h-2zM197.5 87.2h1.2v6.4h-1.2zM204.4 87.2h1.5v6.4h-1.5zM205.9 87.2h0.9v6.4h-0.9zM212.8 87.2h1.5v6.4h-1.5zM215.2 87.2h1.2v6.4h-1.2zM216.4 87.2h2v6.4h-2zM218.4 87.2h1.5v6.4h-1.5zM219.9 87.2h1.5v6.4h-1.5zM221.4 87.2h0.9v6.4h-0.9zM222.3 87.2h0.9v6.4h-0.9zM223.2 87.2h2.5v6.4h-2.5zM225.7 87.2h1.5v6.4h-1.5zM227.2 87.2h1.5v6.4h-1.5zM230.2 87.2h2.5v6.4h-2.5zM232.7 87.2h1.5v6.4h-1.5zM234.2 87.2h0.9v6.4h-0.9zM235.1 87.2h1.2v6.4h-1.2zM237.2 87.2h2.5v6.4h-2.5zM239.7 87.2h2v6.4h-2zM241.7 87.2h2.5v6.4h-2.5zM246.3 87.2h0.9v6.4h-0.9zM248.4 87.2h1.2v6.4h-1.2zM250.8 87.2h2v6.4h-2zM254.8 87.2h2.5v6.4h-2.5zM257.3 87.2h1.5v6.4h-1.5zM260.8 87.2h2v6.4h-2zM265.5 87.2h1.2v6.4h-1.2zM268.2 87.2h0.9v6.4h-0.9zM272 87.2h1.2v6.4h-1.2zM274.1 87.2h0.9v6.4h-0.9zM275 87.2h2v6.4h-2zM279 87.2h1.5v6.4h-1.5zM286.7 87.2h0.9v6.4h-0.9zM289.1 87.2h0.9v6.4h-0.9zM290 87.2h1.5v6.4h-1.5zM291.5 87.2h1.2v6.4h-1.2zM292.7 87.2h2.5v6.4h-2.5zM296.4 87.2h1.5v6.4h-1.5zM302.8 87.2h1.5v6.4h-1.5zM305.8 87.2h1.5v6.4h-1.5zM307.3 87.2h1.5v6.4h-1.5zM313.5 87.2h1.5v6.4h-1.5zM317.7 87.2h1.5v6.4h-1.5zM319.2 87.2h2v6.4h-2zM323.2 87.2h1.5v6.4h-1.5zM328.7 87.2h1.5v6.4h-1.5zM331.4 87.2h1.5v6.4h-1.5zM334.9 87.2h2v6.4h-2zM336.9 87.2h2v6.4h-2zM338.9 87.2h0.9v6.4h-0.9zM342.8 87.2h1.2v6.4h-1.2zM344 87.2h2v6.4h-2zM347.5 87.2h1.5v6.4h-1.5zM349 87.2h0.9v6.4h-0.9zM349.9 87.2h2v6.4h-2zM354.8 87.2h2.5v6.4h-2.5zM357.3 87.2h1.5v6.4h-1.5zM358.8 87.2h1.5v6.4h-1.5zM365.5 87.2h0.9v6.4h-0.9zM366.4 87.2h2.5v6.4h-2.5zM371.9 87.2h1.5v6.4h-1.5zM375.9 87.2h1.2v6.4h-1.2zM378 87.2h2v6.4h-2zM380 87.2h0.9v6.4h-0.9zM382.4 87.2h1.5v6.4h-1.5zM385.4 87.2h1.2v6.4h-1.2zM387.5 87.2h1.2v6.4h-1.2zM389.6 87.2h2.5v6.4h-2.5zM392.1 87.2h2v6.4h-2zM394.1 87.2h1.2v6.4h-1.2zM395.3 87.2h2.5v6.4h-2.5zM399.8 87.2h1.5v6.4h-1.5zM414.2 87.2h1.2v6.4h-1.2zM416.3 87.2h0.9v6.4h-0.9zM418.7 87.2h2.5v6.4h-2.5zM423.3 87.2h2v6.4h-2zM432.5 87.2h1.5v6.4h-1.5zM439 87.2h1.2v6.4h-1.2zM440.2 87.2h2.5v6.4h-2.5zM442.7 87.2h1.5v6.4h-1.5zM448.1 87.2h2v6.4h-2zM451.6 87.2h2v6.4h-2zM453.6 87.2h0.9v6.4h-0.9zM457.4 87.2h1.5v6.4h-1.5zM460.1 87.2h2.5v6.4h-2.5zM464.1 87.2h2v6.4h-2zM466.1 87.2h0.9v6.4h-0.9zM468.2 87.2h1.5v6.4h-1.5zM469.7 87.2h0.9v6.4h-0.9zM473.1 87.2h1.2v6.4h-1.2zM475.8 87.2h0.9v6.4h-0.9zM476.7 87.2h1.5v6.4h-1.5zM478.2 87.2h0.9v6.4h-0.9zM479.1 87.2h1.2v6.4h-1.2zM482.8 87.2h1.5v6.4h-1.5zM488.7 87.2h1.2v6.4h-1.2zM493.8 87.2h2v6.4h-2zM498.3 87.2h1.5v6.4h-1.5zM499.8 87.2h1.2v6.4h-1.2zM502.5 87.2h2v6.4h-2zM507.5 87.2h1.5v6.4h-1.5zM510.2 87.2h1.5v6.4h-1.5zM514.2 87.2h1.5v6.4h-1.5zM515.7 87.2h1.5v6.4h-1.5zM518.7 87.2h1.2v6.4h-1.2zM521.4 87.2h1.5v6.4h-1.5zM524.9 87.2h1.5v6.4h-1.5zM532.4 87.2h2v6.4h-2zM535.6 87.2h1.5v6.4h-1.5zM538.6 87.2h0.9v6.4h-0.9zM539.5 87.2h1.5v6.4h-1.5zM541 87.2h1.5v6.4h-1.5zM547.2 87.2h1.2v6.4h-1.2zM553.4 87.2h1.5v6.4h-1.5zM561.3 87.2h0.9v6.4h-0.9zM563.7 87.2h1.5v6.4h-1.5zM567.2 87.2h1.5v6.4h-1.5zM568.7 87.2h1.5v6.4h-1.5zM571.4 87.2h1.2v6.4h-1.2zM572.6 87.2h1.5v6.4h-1.5zM579.3 87.2h1.2v6.4h-1.2zM583 87.2h2.5v6.4h-2.5zM585.5 87.2h0.9v6.4h-0.9zM586.4 87.2h2.5v6.4h-2.5zM591.3 87.2h1.5v6.4h-1.5zM594.3 87.2h2v6.4h-2zM598.4 87.2h1.5v6.4h-1.5zM599.9 87.2h0.9v6.4h-0.9zM602 87.2h0.5v6.4h-0.5zM93.8 93.6h1.5v6.8h-1.5zM102.2 93.6h0.9v6.8h-0.9zM109.8 93.6h1.5v6.8h-1.5zM164 93.6h0.9v6.8h-0.9zM164.9 93.6h1.5v6.8h-1.5zM171.2 93.6h1.5v6.8h-1.5zM196.4 93.6h1.2v6.8h-1.2zM197.6 93.6h1.2v6.8h-1.2zM198.8 93.6h0.9v6.8h-0.9zM215.3 93.6h0.9v6.8h-0.9zM216.2 93.6h2.5v6.8h-2.5zM222.6 93.6h0.9v6.8h-0.9zM226.9 93.6h1.5v6.8h-1.5zM228.4 93.6h1.2v6.8h-1.2zM230.5 93.6h1.5v6.8h-1.5zM232.9 93.6h1.5v6.8h-1.5zM234.4 93.6h1.2v6.8h-1.2zM235.6 93.6h0.9v6.8h-0.9zM246.4 93.6h1.5v6.8h-1.5zM257.2 93.6h0.9v6.8h-0.9zM264.1 93.6h2.5v6.8h-2.5zM267.8 93.6h1.2v6.8h-1.2zM278.5 93.6h2.5v6.8h-2.5zM281 93.6h1.2v6.8h-1.2zM282.2 93.6h1.2v6.8h-1.2zM309 93.6h1.5v6.8h-1.5zM310.5 93.6h1.5v6.8h-1.5zM324.1 93.6h1.5v6.8h-1.5zM333.1 93.6h2.5v6.8h-2.5zM336.5 93.6h1.5v6.8h-1.5zM359.8 93.6h1.5v6.8h-1.5zM364.9 93.6h1.5v6.8h-1.5zM372.9 93.6h1.5v6.8h-1.5zM377.3 93.6h2v6.8h-2zM382.3 93.6h1.5v6.8h-1.5zM386.2 93.6h1.2v6.8h-1.2zM405.4 93.6h1.2v6.8h-1.2zM407.5 93.6h0.9v6.8h-0.9zM409.9 93.6h1.5v6.8h-1.5zM411.4 93.6h1.5v6.8h-1.5zM414.9 93.6h1.5v6.8h-1.5zM430.9 93.6h2v6.8h-2zM432.9 93.6h1.5v6.8h-1.5zM443.5 93.6h2v6.8h-2zM446.7 93.6h1.2v6.8h-1.2zM447.9 93.6h2.5v6.8h-2.5zM461.4 93.6h2.5v6.8h-2.5zM479.2 93.6h1.5v6.8h-1.5zM485.2 93.6h1.5v6.8h-1.5zM513.2 93.6h1.5v6.8h-1.5zM514.7 93.6h0.9v6.8h-0.9zM524.6 93.6h2.5v6.8h-2.5zM544.6 93.6h2.5v6.8h-2.5zM558.9 93.6h2v6.8h-2zM560.9 93.6h1.5v6.8h-1.5zM569.6 93.6h0.9v6.8h-0.9zM572 93.6h0.9v6.8h-0.9zM586.9 93.6h1.2v6.8h-1.2zM589 93.6h0.9v6.8h-0.9zM589.9 93.6h2.5v6.8h-2.5zM592.4 93.6h0.9v6.8h-0.9z"/><path fill="#68b4a6" d="M87.8 87.2h0.9v6.4h-0.9zM169.2 87.2h1.5v6.4h-1.5zM175.4 87.2h1.5v6.4h-1.5zM262.8 87.2h1.2v6.4h-1.2zM271.1 87.2h0.9v6.4h-0.9zM346 87.2h1.5v6.4h-1.5zM421.2 87.2h1.2v6.4h-1.2zM434 87.2h2.5v6.4h-2.5zM436.5 87.2h2.5v6.4h-2.5zM444.2 87.2h1.2v6.4h-1.2zM454.5 87.2h0.9v6.4h-0.9zM522.9 87.2h2v6.4h-2z"/><path fill="#f6ab60" d="M81.4 93.6h2.5v6.8h-2.5zM95.3 93.6h1.5v6.8h-1.5zM104.3 93.6h1.5v6.8h-1.5zM147.2 93.6h1.5v6.8h-1.5zM167.9 93.6h1.5v6.8h-1.5zM180.4 93.6h2v6.8h-2zM200.6 93.6h1.5v6.8h-1.5zM202.1 93.6h1.2v6.8h-1.2zM226 93.6h0.9v6.8h-0.9zM242.9 93.6h2v6.8h-2zM258.1 93.6h2.5v6.8h-2.5zM283.4 93.6h2v6.8h-2zM294 93.6h2v6.8h-2zM318.7 93.6h1.5v6.8h-1.5zM348.7 93.6h0.9v6.8h-0.9zM426.5 93.6h1.5v6.8h-1.5zM463.9 93.6h1.5v6.8h-1.5zM501.8 93.6h2.5v6.8h-2.5zM532.5 93.6h1.2v6.8h-1.2zM535.7 93.6h0.9v6.8h-0.9z"/><path fill="#74a8d2" d="M86.4 93.6h0.9v6.8h-0.9zM88.8 93.6h2.5v6.8h-2.5zM133.6 93.6h1.5v6.8h-1.5zM136.6 93.6h2v6.8h-2zM138.6 93.6h2.5v6.8h-2.5zM148.7 93.6h1.2v6.8h-1.2zM212.8 93.6h2.5v6.8h-2.5zM223.5 93.6h2.5v6.8h-2.5zM249.4 93.6h1.2v6.8h-1.2zM250.6 93.6h1.5v6.8h-1.5zM262.1 93.6h2v6.8h-2zM275 93.6h2v6.8h-2zM346.2 93.6h2.5v6.8h-2.5zM392.8 93.6h2v6.8h-2zM417.9 93.6h0.9v6.8h-0.9zM428.9 93.6h2v6.8h-2zM441.7 93.6h0.9v6.8h-0.9zM465.4 93.6h2.5v6.8h-2.5zM473.7 93.6h1.5v6.8h-1.5zM475.2 93.6h2.5v6.8h-2.5zM489.9 93.6h1.5v6.8h-1.5zM499.3 93.6h2.5v6.8h-2.5zM517.7 93.6h2v6.8h-2zM533.7 93.6h2v6.8h-2zM536.6 93.6h2.5v6.8h-2.5zM541.2 93.6h0.9v6.8h-0.9zM555 93.6h1.5v6.8h-1.5zM557.4 93.6h1.5v6.8h-1.5zM585.7 93.6h1.2v6.8h-1.2zM588.1 93.6h0.9v6.8h-0.9zM594.8 93.6h1.5v6.8h-1.5zM602.5 93.6h0v6.8h-0z"/><path fill="#bcb8d8" d="M100.7 93.6h1.5v6.8h-1.5zM143.2 93.6h2.5v6.8h-2.5zM172.7 93.6h2.5v6.8h-2.5zM221.4 93.6h1.2v6.8h-1.2zM238 93.6h1.5v6.8h-1.5zM272.6 93.6h0.9v6.8h-0.9zM291.6 93.6h1.2v6.8h-1.2zM313.2 93.6h2v6.8h-2zM339.2 93.6h0.9v6.8h-0.9zM356.3 93.6h2v6.8h-2zM371.4 93.6h1.5v6.8h-1.5zM390.3 93.6h2.5v6.8h-2.5zM483.2 93.6h2v6.8h-2zM519.7 93.6h1.5v6.8h-1.5zM579.3 93.6h1.2v6.8h-1.2z"/><path fill="#ef7a6c" d="M112.8 93.6h1.5v6.8h-1.5zM117.3 93.6h2.5v6.8h-2.5zM131.1 93.6h2.5v6.8h-2.5zM145.7 93.6h1.5v6.8h-1.5zM153.6 93.6h2.5v6.8h-2.5zM182.4 93.6h2.5v6.8h-2.5zM188.4 93.6h1.5v6.8h-1.5zM211.3 93.6h1.5v6.8h-1.5zM236.5 93.6h1.5v6.8h-1.5zM247.9 93.6h1.5v6.8h-1.5zM269.9 93.6h1.5v6.8h-1.5zM302 93.6h2.5v6.8h-2.5zM316.7 93.6h2v6.8h-2zM335.6 93.6h0.9v6.8h-0.9zM340.1 93.6h2.5v6.8h-2.5zM345 93.6h1.2v6.8h-1.2zM349.6 93.6h2v6.8h-2zM374.4 93.6h2v6.8h-2zM379.3 93.6h1.5v6.8h-1.5zM394.8 93.6h1.5v6.8h-1.5zM418.8 93.6h1.2v6.8h-1.2zM424 93.6h2.5v6.8h-2.5zM434.4 93.6h2v6.8h-2zM458.9 93.6h2.5v6.8h-2.5zM467.9 93.6h0.9v6.8h-0.9zM477.7 93.6h1.5v6.8h-1.5zM493.9 93.6h1.2v6.8h-1.2zM506.3 93.6h2v6.8h-2zM511.7 93.6h1.5v6.8h-1.5zM530.5 93.6h2v6.8h-2zM548.6 93.6h0.9v6.8h-0.9zM556.5 93.6h0.9v6.8h-0.9zM562.4 93.6h0.9v6.8h-0.9zM572.9 93.6h1.5v6.8h-1.5zM576.8 93.6h2.5v6.8h-2.5z"/><rect x="81.4" y="87.2" width="521.1" height="13.2" fill="none" stroke="#888" stroke-width="0.5"/><line x1="81.4" y1="93.6" x2="602.5" y2="93.6" stroke="#888" stroke-width="0.4"/><rect x="633.3" y="75.5" width="50.3" height="36" fill="#fff" stroke="#1a1a1a" stroke-width="0.9"/><text x="633.9" y="80.82" font-size="3.4" class="g" fill="#141414" textLength="32.2" lengthAdjust="spacingAndGlyphs">CD: Conotruncal Defects</text><text x="633.9" y="86.27" font-size="3.4" class="g" fill="#141414" textLength="46.3" lengthAdjust="spacingAndGlyphs">LSL: Left-sided Obstructive Lesions</text><text x="633.9" y="91.72" font-size="3.4" class="g" fill="#141414" textLength="45.5" lengthAdjust="spacingAndGlyphs">LRPD: Left-right Patterning Defects</text><text x="633.9" y="97.17" font-size="3.4" class="g" fill="#141414" textLength="11" lengthAdjust="spacingAndGlyphs">O: Other</text><text x="633.9" y="102.62" font-size="3.4" class="g" fill="#141414" textLength="49.1" lengthAdjust="spacingAndGlyphs">ROL: Right-sided Obstructive Lesions</text><text x="633.9" y="108.07" font-size="3.4" class="g" fill="#141414" textLength="25" lengthAdjust="spacingAndGlyphs">SD: Septal Defects</text><text x="0" y="113.62" font-size="9.5" class="b" fill="#141414">b</text><text x="9" y="112.87" font-size="6.3" fill="#141414">Individuals with FBI or BFB</text><rect x="5.5" y="116.86" width="1.5" height="5.68" fill="#e84a50"/><rect x="7" y="116.86" width="51" height="5.68" fill="#50a3da"/><rect x="58" y="116.86" width="8" height="5.68" fill="#4662b0"/><text x="68.8" y="121.36" font-size="4.6" class="b g" fill="#3a3a3a">85%</text><rect x="26" y="123.46" width="0.1" height="5.68" fill="#e84a50"/><rect x="26.1" y="123.46" width="37.4" height="5.68" fill="#50a3da"/><rect x="63.5" y="123.46" width="2.5" height="5.68" fill="#4662b0"/><text x="68.8" y="127.96" font-size="4.6" class="b g" fill="#3a3a3a">57%</text><rect x="32.4" y="130.06" width="1.2" height="5.68" fill="#e84a50"/><rect x="33.6" y="130.06" width="30.4" height="5.68" fill="#50a3da"/><rect x="64" y="130.06" width="2" height="5.68" fill="#4662b0"/><text x="68.8" y="134.56" font-size="4.6" class="b g" fill="#3a3a3a">48%</text><rect x="49.6" y="136.66" width="2.2" height="5.68" fill="#e84a50"/><rect x="51.8" y="136.66" width="12.4" height="5.68" fill="#50a3da"/><rect x="64.2" y="136.66" width="1.8" height="5.68" fill="#4662b0"/><text x="68.8" y="141.16" font-size="4.6" class="b g" fill="#3a3a3a">24%</text><rect x="49.2" y="143.26" width="1.2" height="5.68" fill="#e84a50"/><rect x="50.4" y="143.26" width="10.2" height="5.68" fill="#50a3da"/><rect x="60.6" y="143.26" width="5.4" height="5.68" fill="#4662b0"/><text x="68.8" y="147.76" font-size="4.6" class="b g" fill="#3a3a3a">24%</text><rect x="51.8" y="149.86" width="1" height="5.68" fill="#e84a50"/><rect x="52.8" y="149.86" width="11.4" height="5.68" fill="#50a3da"/><rect x="64.2" y="149.86" width="1.8" height="5.68" fill="#4662b0"/><text x="68.8" y="154.36" font-size="4.6" class="b g" fill="#3a3a3a">21%</text><rect x="56.2" y="156.46" width="0.8" height="5.68" fill="#e84a50"/><rect x="57" y="156.46" width="8" height="5.68" fill="#50a3da"/><rect x="65" y="156.46" width="1" height="5.68" fill="#4662b0"/><text x="68.8" y="160.96" font-size="4.6" class="b g" fill="#3a3a3a">14%</text><rect x="56.2" y="163.06" width="0.5" height="5.68" fill="#e84a50"/><rect x="56.7" y="163.06" width="5.3" height="5.68" fill="#50a3da"/><rect x="62" y="163.06" width="4" height="5.68" fill="#4662b0"/><text x="68.8" y="167.56" font-size="4.6" class="b g" fill="#3a3a3a">15%</text><rect x="58.4" y="169.66" width="1.2" height="5.68" fill="#e84a50"/><rect x="59.6" y="169.66" width="6.4" height="5.68" fill="#50a3da"/><text x="68.8" y="174.16" font-size="4.6" class="b g" fill="#3a3a3a">11%</text><line x1="5.5" y1="176.2" x2="66.2" y2="176.2" stroke="#222" stroke-width="0.8"/><line x1="5.5" y1="176.2" x2="5.5" y2="177.5" stroke="#222" stroke-width="0.5"/><text x="5.5" y="181.08" font-size="4.1" text-anchor="middle" class="g" fill="#141414">544</text><line x1="21.2" y1="176.2" x2="21.2" y2="177.5" stroke="#222" stroke-width="0.5"/><text x="21.2" y="181.08" font-size="4.1" text-anchor="middle" class="g" fill="#141414">400</text><line x1="32.1" y1="176.2" x2="32.1" y2="177.5" stroke="#222" stroke-width="0.5"/><text x="32.1" y="181.08" font-size="4.1" text-anchor="middle" class="g" fill="#141414">300</text><line x1="43.5" y1="176.2" x2="43.5" y2="177.5" stroke="#222" stroke-width="0.5"/><text x="43.5" y="181.08" font-size="4.1" text-anchor="middle" class="g" fill="#141414">200</text><line x1="54.7" y1="176.2" x2="54.7" y2="177.5" stroke="#222" stroke-width="0.5"/><text x="54.7" y="181.08" font-size="4.1" text-anchor="middle" class="g" fill="#141414">100</text><line x1="66.4" y1="176.2" x2="66.4" y2="177.5" stroke="#222" stroke-width="0.5"/><text x="66.4" y="181.08" font-size="4.1" text-anchor="middle" class="g" fill="#141414">0</text><rect x="81.5" y="116.4" width="521" height="59.58" fill="#ececec"/><path fill="#3f62b5" d="M81.5 116.4h2.8v6.62h-2.8zM87.7 116.4h2.8v6.62h-2.8zM90.5 116.4h1.6v6.62h-1.6zM103.3 116.4h1.2v6.62h-1.2zM108.9 116.4h0.9v6.62h-0.9zM109.8 116.4h1.6v6.62h-1.6zM112.3 116.4h1.2v6.62h-1.2zM113.5 116.4h2.8v6.62h-2.8zM116.3 116.4h1.6v6.62h-1.6zM129.1 116.4h1.6v6.62h-1.6zM130.7 116.4h0.9v6.62h-0.9zM133.7 116.4h2.8v6.62h-2.8zM137.7 116.4h2.2v6.62h-2.2zM139.9 116.4h1.6v6.62h-1.6zM144.3 116.4h2.2v6.62h-2.2zM152.1 116.4h1.2v6.62h-1.2zM153.3 116.4h2.8v6.62h-2.8zM157.3 116.4h2.8v6.62h-2.8zM160.1 116.4h3.4v6.62h-3.4zM166.3 116.4h3.4v6.62h-3.4zM175.9 116.4h0.9v6.62h-0.9zM178 116.4h2.8v6.62h-2.8zM184.2 116.4h2.2v6.62h-2.2zM189.2 116.4h1.2v6.62h-1.2zM190.4 116.4h2.2v6.62h-2.2zM192.6 116.4h1.2v6.62h-1.2zM195 116.4h2.2v6.62h-2.2zM203.4 116.4h1.6v6.62h-1.6zM205.9 116.4h1.6v6.62h-1.6zM208.4 116.4h3.4v6.62h-3.4zM211.8 116.4h1.6v6.62h-1.6zM214.3 116.4h0.9v6.62h-0.9zM218 116.4h0.9v6.62h-0.9zM218.9 116.4h3.4v6.62h-3.4zM222.3 116.4h2.2v6.62h-2.2zM224.5 116.4h3.4v6.62h-3.4zM227.9 116.4h2.2v6.62h-2.2zM230.1 116.4h2.8v6.62h-2.8zM237.6 116.4h1.2v6.62h-1.2zM238.8 116.4h1.2v6.62h-1.2zM240 116.4h2.2v6.62h-2.2zM242.2 116.4h2.2v6.62h-2.2zM244.4 116.4h2.2v6.62h-2.2zM247.8 116.4h2.8v6.62h-2.8zM250.6 116.4h1.2v6.62h-1.2zM254.3 116.4h1.2v6.62h-1.2zM255.5 116.4h2.8v6.62h-2.8zM258.3 116.4h2.8v6.62h-2.8zM261.1 116.4h0.9v6.62h-0.9zM270.4 116.4h0.9v6.62h-0.9zM271.3 116.4h1.2v6.62h-1.2zM276.2 116.4h3.4v6.62h-3.4zM279.6 116.4h3.4v6.62h-3.4zM283 116.4h1.6v6.62h-1.6zM294.2 116.4h1.2v6.62h-1.2zM306.9 116.4h2.2v6.62h-2.2zM311.9 116.4h3.4v6.62h-3.4zM315.3 116.4h0.9v6.62h-0.9zM316.2 116.4h2.2v6.62h-2.2zM318.4 116.4h0.9v6.62h-0.9zM321.5 116.4h1.6v6.62h-1.6zM330.9 116.4h3.4v6.62h-3.4zM334.3 116.4h2.8v6.62h-2.8zM349.5 116.4h0.9v6.62h-0.9zM350.4 116.4h0.9v6.62h-0.9zM351.3 116.4h2.8v6.62h-2.8zM354.1 116.4h1.2v6.62h-1.2zM359.7 116.4h1.2v6.62h-1.2zM363.1 116.4h2.2v6.62h-2.2zM369 116.4h2.2v6.62h-2.2zM383.9 116.4h1.2v6.62h-1.2zM387.9 116.4h1.6v6.62h-1.6zM389.5 116.4h1.2v6.62h-1.2zM390.7 116.4h1.2v6.62h-1.2zM391.9 116.4h2.2v6.62h-2.2zM400.9 116.4h3.4v6.62h-3.4zM406.5 116.4h2.8v6.62h-2.8zM411.5 116.4h1.2v6.62h-1.2zM412.7 116.4h1.6v6.62h-1.6zM414.3 116.4h0.9v6.62h-0.9zM416.1 116.4h2.2v6.62h-2.2zM418.3 116.4h1.2v6.62h-1.2zM419.5 116.4h3.4v6.62h-3.4zM422.9 116.4h2.2v6.62h-2.2zM428.2 116.4h0.9v6.62h-0.9zM436.5 116.4h1.6v6.62h-1.6zM440.3 116.4h3.4v6.62h-3.4zM445.3 116.4h1.6v6.62h-1.6zM451.2 116.4h2.2v6.62h-2.2zM455.6 116.4h1.2v6.62h-1.2zM463 116.4h2.8v6.62h-2.8zM465.8 116.4h2.2v6.62h-2.2zM468 116.4h1.6v6.62h-1.6zM477.3 116.4h2.2v6.62h-2.2zM481.7 116.4h2.8v6.62h-2.8zM484.5 116.4h2.8v6.62h-2.8zM493.5 116.4h1.2v6.62h-1.2zM496.9 116.4h1.6v6.62h-1.6zM498.5 116.4h3.4v6.62h-3.4zM501.9 116.4h1.2v6.62h-1.2zM503.1 116.4h1.2v6.62h-1.2zM504.3 116.4h3.4v6.62h-3.4zM507.7 116.4h1.2v6.62h-1.2zM508.9 116.4h2.8v6.62h-2.8zM511.7 116.4h0.9v6.62h-0.9zM512.6 116.4h1.6v6.62h-1.6zM522.6 116.4h1.6v6.62h-1.6zM524.2 116.4h0.9v6.62h-0.9zM525.1 116.4h2.8v6.62h-2.8zM527.9 116.4h1.6v6.62h-1.6zM534.1 116.4h3.4v6.62h-3.4zM538.4 116.4h1.6v6.62h-1.6zM540.9 116.4h0.9v6.62h-0.9zM541.8 116.4h1.2v6.62h-1.2zM543 116.4h2.2v6.62h-2.2zM545.2 116.4h2.2v6.62h-2.2zM548.3 116.4h2.8v6.62h-2.8zM553.3 116.4h1.2v6.62h-1.2zM560.7 116.4h3.4v6.62h-3.4zM564.1 116.4h1.6v6.62h-1.6zM565.7 116.4h2.8v6.62h-2.8zM574.4 116.4h3.4v6.62h-3.4zM577.8 116.4h1.2v6.62h-1.2zM580.6 116.4h3.4v6.62h-3.4zM587.4 116.4h1.6v6.62h-1.6zM589 116.4h3.4v6.62h-3.4zM592.4 116.4h1.6v6.62h-1.6zM594 116.4h3.4v6.62h-3.4zM597.4 116.4h1.2v6.62h-1.2zM598.6 116.4h2.2v6.62h-2.2zM81.5 123.02h2.2v6.62h-2.2zM84.6 123.02h1.2v6.62h-1.2zM90.8 123.02h0.9v6.62h-0.9zM91.7 123.02h1.6v6.62h-1.6zM108.8 123.02h2.2v6.62h-2.2zM122.1 123.02h1.6v6.62h-1.6zM125.8 123.02h2.2v6.62h-2.2zM128 123.02h0.9v6.62h-0.9zM142.7 123.02h2.2v6.62h-2.2zM146.5 123.02h1.2v6.62h-1.2zM180.3 123.02h0.9v6.62h-0.9zM181.2 123.02h2.2v6.62h-2.2zM184.3 123.02h2.2v6.62h-2.2zM204.6 123.02h3.4v6.62h-3.4zM212 123.02h0.9v6.62h-0.9zM227.2 123.02h2.2v6.62h-2.2zM257.7 123.02h3.4v6.62h-3.4zM266.7 123.02h0.9v6.62h-0.9zM277.8 123.02h1.2v6.62h-1.2zM279 123.02h2.8v6.62h-2.8zM283 123.02h1.2v6.62h-1.2zM299.1 123.02h2.8v6.62h-2.8zM318.4 123.02h0.9v6.62h-0.9zM338.8 123.02h3.4v6.62h-3.4zM345.9 123.02h3.4v6.62h-3.4zM361.5 123.02h2.8v6.62h-2.8zM372.6 123.02h2.8v6.62h-2.8zM383.4 123.02h2.2v6.62h-2.2zM454.6 123.02h1.2v6.62h-1.2zM455.8 123.02h1.2v6.62h-1.2zM462.6 123.02h1.6v6.62h-1.6zM479.4 123.02h1.6v6.62h-1.6zM488.1 123.02h3.4v6.62h-3.4zM501.4 123.02h1.2v6.62h-1.2zM502.6 123.02h1.2v6.62h-1.2zM514.4 123.02h2.8v6.62h-2.8zM520 123.02h3.4v6.62h-3.4zM523.4 123.02h3.4v6.62h-3.4zM531 123.02h2.2v6.62h-2.2zM561.3 123.02h0.9v6.62h-0.9zM578.3 123.02h2.8v6.62h-2.8zM582.7 123.02h0.9v6.62h-0.9zM102.1 129.64h2.8v6.62h-2.8zM136.3 129.64h1.2v6.62h-1.2zM138.4 129.64h1.6v6.62h-1.6zM140 129.64h1.6v6.62h-1.6zM142.8 129.64h1.6v6.62h-1.6zM151.9 129.64h0.9v6.62h-0.9zM159.9 129.64h1.6v6.62h-1.6zM202.9 129.64h2.8v6.62h-2.8zM266.9 129.64h1.2v6.62h-1.2zM283.4 129.64h3.4v6.62h-3.4zM309 129.64h1.6v6.62h-1.6zM310.6 129.64h2.8v6.62h-2.8zM320.8 129.64h2.2v6.62h-2.2zM339.9 129.64h1.2v6.62h-1.2zM341.1 129.64h2.8v6.62h-2.8zM354.9 129.64h1.2v6.62h-1.2zM391.1 129.64h2.8v6.62h-2.8zM414.5 129.64h2.2v6.62h-2.2zM442.3 129.64h2.2v6.62h-2.2zM454.7 129.64h1.2v6.62h-1.2zM469 129.64h1.6v6.62h-1.6zM529.9 129.64h2.8v6.62h-2.8zM536.1 129.64h2.8v6.62h-2.8zM555 129.64h2.2v6.62h-2.2zM576.6 129.64h0.9v6.62h-0.9zM98.7 136.26h0.9v6.62h-0.9zM125.1 136.26h1v6.62h-1zM126.8 136.26h0.7v6.62h-0.7zM152.2 136.26h1.2v6.62h-1.2zM166 136.26h0.7v6.62h-0.7zM173.6 136.26h1v6.62h-1zM176.7 136.26h1.2v6.62h-1.2zM213.4 136.26h0.8v6.62h-0.8zM228.4 136.26h0.7v6.62h-0.7zM269.9 136.26h0.8v6.62h-0.8zM278.7 136.26h0.9v6.62h-0.9zM284.2 136.26h1.2v6.62h-1.2zM290.8 136.26h0.7v6.62h-0.7zM291.5 136.26h0.7v6.62h-0.7zM299.4 136.26h1.2v6.62h-1.2zM326 136.26h0.8v6.62h-0.8zM334.3 136.26h0.7v6.62h-0.7zM348.4 136.26h1.2v6.62h-1.2zM393 136.26h1.2v6.62h-1.2zM441.3 136.26h0.8v6.62h-0.8zM447.8 136.26h0.7v6.62h-0.7zM476.1 136.26h0.9v6.62h-0.9zM484 136.26h1v6.62h-1zM485.8 136.26h1v6.62h-1zM527.2 136.26h1v6.62h-1zM559.6 136.26h1v6.62h-1zM561.4 136.26h1.2v6.62h-1.2zM568.3 136.26h0.8v6.62h-0.8zM582.8 136.26h1v6.62h-1zM588.4 136.26h1v6.62h-1zM589.4 136.26h0.7v6.62h-0.7zM596 136.26h1.2v6.62h-1.2zM145.3 142.88h0.7v6.62h-0.7zM157.5 142.88h0.7v6.62h-0.7zM165.9 142.88h0.8v6.62h-0.8zM181.2 142.88h1v6.62h-1zM194 142.88h0.8v6.62h-0.8zM207.8 142.88h0.9v6.62h-0.9zM210.9 142.88h1v6.62h-1zM214.7 142.88h1.2v6.62h-1.2zM229.8 142.88h0.9v6.62h-0.9zM252.9 142.88h0.8v6.62h-0.8zM264.1 142.88h0.9v6.62h-0.9zM277.6 142.88h1.2v6.62h-1.2zM282.3 142.88h1.2v6.62h-1.2zM302.5 142.88h0.7v6.62h-0.7zM319.6 142.88h0.9v6.62h-0.9zM336.8 142.88h1v6.62h-1zM345.5 142.88h1v6.62h-1zM351.1 142.88h0.8v6.62h-0.8zM353.6 142.88h1.2v6.62h-1.2zM368.4 142.88h0.8v6.62h-0.8zM372.1 142.88h1.2v6.62h-1.2zM376.1 142.88h1v6.62h-1zM393.8 142.88h0.9v6.62h-0.9zM416.8 142.88h0.7v6.62h-0.7zM417.5 142.88h1.2v6.62h-1.2zM433.9 142.88h0.7v6.62h-0.7zM439.4 142.88h1.2v6.62h-1.2zM468.2 142.88h1v6.62h-1zM480.2 142.88h0.9v6.62h-0.9zM486 142.88h1.2v6.62h-1.2zM497.2 142.88h0.9v6.62h-0.9zM509.1 142.88h0.7v6.62h-0.7zM513.8 142.88h1.2v6.62h-1.2zM530.3 142.88h1v6.62h-1zM531.3 142.88h1.2v6.62h-1.2zM558.3 142.88h0.8v6.62h-0.8zM563.1 142.88h1.2v6.62h-1.2zM564.3 142.88h1v6.62h-1zM566.5 142.88h1.2v6.62h-1.2zM580.4 142.88h1.2v6.62h-1.2zM582.8 142.88h1.2v6.62h-1.2zM586.8 142.88h0.7v6.62h-0.7zM103.5 149.5h1v6.62h-1zM139.4 149.5h1v6.62h-1zM140.4 149.5h0.8v6.62h-0.8zM159.4 149.5h0.7v6.62h-0.7zM165.4 149.5h0.8v6.62h-0.8zM174.7 149.5h0.9v6.62h-0.9zM188.6 149.5h1v6.62h-1zM234.3 149.5h0.7v6.62h-0.7zM246.2 149.5h0.9v6.62h-0.9zM283.4 149.5h0.7v6.62h-0.7zM295 149.5h1.2v6.62h-1.2zM312.8 149.5h0.7v6.62h-0.7zM341.9 149.5h0.9v6.62h-0.9zM351.5 149.5h0.8v6.62h-0.8zM371.1 149.5h0.8v6.62h-0.8zM389.6 149.5h0.7v6.62h-0.7zM413.3 149.5h1v6.62h-1zM426.8 149.5h1v6.62h-1zM429.4 149.5h1.2v6.62h-1.2zM430.6 149.5h1.2v6.62h-1.2zM441.2 149.5h1.2v6.62h-1.2zM443.3 149.5h0.9v6.62h-0.9zM469.8 149.5h0.7v6.62h-0.7zM475 149.5h1v6.62h-1zM491 149.5h0.8v6.62h-0.8zM496.4 149.5h0.8v6.62h-0.8zM516.3 149.5h0.8v6.62h-0.8zM519.6 149.5h1.2v6.62h-1.2zM525.2 149.5h0.8v6.62h-0.8zM527.3 149.5h1v6.62h-1zM559.1 149.5h0.7v6.62h-0.7zM562.7 149.5h0.7v6.62h-0.7zM85.4 156.12h1v6.62h-1zM102.1 156.12h0.9v6.62h-0.9zM112.5 156.12h0.8v6.62h-0.8zM156.8 156.12h1v6.62h-1zM182 156.12h0.8v6.62h-0.8zM182.8 156.12h0.7v6.62h-0.7zM198.9 156.12h1v6.62h-1zM219.3 156.12h0.7v6.62h-0.7zM254.4 156.12h0.7v6.62h-0.7zM265.7 156.12h0.9v6.62h-0.9zM288 156.12h0.8v6.62h-0.8zM297.4 156.12h0.8v6.62h-0.8zM303.7 156.12h1v6.62h-1zM334.3 156.12h0.9v6.62h-0.9zM338.4 156.12h0.8v6.62h-0.8zM348.1 156.12h0.9v6.62h-0.9zM364 156.12h0.8v6.62h-0.8zM381.3 156.12h0.7v6.62h-0.7zM386.7 156.12h0.9v6.62h-0.9zM421.1 156.12h1v6.62h-1zM424.9 156.12h1v6.62h-1zM442 156.12h0.7v6.62h-0.7zM442.7 156.12h0.9v6.62h-0.9zM467.7 156.12h1v6.62h-1zM473.7 156.12h1v6.62h-1zM492.4 156.12h0.7v6.62h-0.7zM523 156.12h1v6.62h-1zM538 156.12h1v6.62h-1zM540 156.12h0.7v6.62h-0.7zM546.7 156.12h1v6.62h-1zM596.3 156.12h0.9v6.62h-0.9zM88.9 162.74h1v6.62h-1zM104.7 162.74h1.2v6.62h-1.2zM125.7 162.74h1.2v6.62h-1.2zM142.7 162.74h0.8v6.62h-0.8zM154.3 162.74h1v6.62h-1zM172.4 162.74h0.7v6.62h-0.7zM174.8 162.74h1.2v6.62h-1.2zM185.4 162.74h0.8v6.62h-0.8zM190.1 162.74h1.2v6.62h-1.2zM196.1 162.74h1v6.62h-1zM212.1 162.74h0.7v6.62h-0.7zM218 162.74h1v6.62h-1zM219 162.74h0.9v6.62h-0.9zM236.3 162.74h1.2v6.62h-1.2zM242.3 162.74h0.9v6.62h-0.9zM317 162.74h0.9v6.62h-0.9zM323.9 162.74h0.9v6.62h-0.9zM327 162.74h0.7v6.62h-0.7zM346 162.74h1v6.62h-1zM362.6 162.74h1v6.62h-1zM368.5 162.74h1.2v6.62h-1.2zM410.8 162.74h0.7v6.62h-0.7zM415.2 162.74h0.8v6.62h-0.8zM417.3 162.74h0.7v6.62h-0.7zM419 162.74h0.8v6.62h-0.8zM430 162.74h0.7v6.62h-0.7zM442.8 162.74h1.2v6.62h-1.2zM447.4 162.74h1.2v6.62h-1.2zM453.1 162.74h0.7v6.62h-0.7zM453.8 162.74h0.9v6.62h-0.9zM454.7 162.74h1v6.62h-1zM472.4 162.74h1.2v6.62h-1.2zM482.4 162.74h1v6.62h-1zM487.2 162.74h0.8v6.62h-0.8zM511.1 162.74h0.9v6.62h-0.9zM536.4 162.74h0.9v6.62h-0.9zM539 162.74h1v6.62h-1zM543.1 162.74h0.9v6.62h-0.9zM569 162.74h1v6.62h-1zM581.4 162.74h1v6.62h-1zM89.2 169.36h1v6.62h-1zM103.8 169.36h0.7v6.62h-0.7zM105.5 169.36h0.7v6.62h-0.7zM108.7 169.36h1.2v6.62h-1.2zM112.4 169.36h0.7v6.62h-0.7zM117.8 169.36h0.9v6.62h-0.9zM189.9 169.36h1v6.62h-1zM221 169.36h1.2v6.62h-1.2zM224.9 169.36h0.8v6.62h-0.8zM249.8 169.36h0.7v6.62h-0.7zM257.4 169.36h0.9v6.62h-0.9zM277.1 169.36h0.7v6.62h-0.7zM371.9 169.36h0.9v6.62h-0.9zM402.7 169.36h0.9v6.62h-0.9zM431.4 169.36h1v6.62h-1zM435.3 169.36h1v6.62h-1zM445.6 169.36h0.9v6.62h-0.9zM465.6 169.36h0.9v6.62h-0.9zM505.2 169.36h1.2v6.62h-1.2zM508.8 169.36h0.9v6.62h-0.9zM524.4 169.36h0.9v6.62h-0.9zM546.6 169.36h0.8v6.62h-0.8zM573.1 169.36h0.7v6.62h-0.7z"/><path fill="#4f95d5" d="M84.3 116.4h2.2v6.62h-2.2zM86.5 116.4h1.2v6.62h-1.2zM92.1 116.4h3.4v6.62h-3.4zM95.5 116.4h2.2v6.62h-2.2zM97.7 116.4h2.8v6.62h-2.8zM100.5 116.4h2.8v6.62h-2.8zM104.5 116.4h1.6v6.62h-1.6zM106.1 116.4h2.8v6.62h-2.8zM111.4 116.4h0.9v6.62h-0.9zM123.5 116.4h2.2v6.62h-2.2zM125.7 116.4h3.4v6.62h-3.4zM131.6 116.4h0.9v6.62h-0.9zM132.5 116.4h1.2v6.62h-1.2zM136.5 116.4h1.2v6.62h-1.2zM146.5 116.4h2.8v6.62h-2.8zM150.5 116.4h1.6v6.62h-1.6zM156.1 116.4h1.2v6.62h-1.2zM169.7 116.4h3.4v6.62h-3.4zM173.1 116.4h2.8v6.62h-2.8zM180.8 116.4h3.4v6.62h-3.4zM186.4 116.4h2.8v6.62h-2.8zM193.8 116.4h1.2v6.62h-1.2zM197.2 116.4h3.4v6.62h-3.4zM213.4 116.4h0.9v6.62h-0.9zM215.2 116.4h2.8v6.62h-2.8zM232.9 116.4h2.2v6.62h-2.2zM246.6 116.4h1.2v6.62h-1.2zM251.8 116.4h0.9v6.62h-0.9zM262 116.4h3.4v6.62h-3.4zM265.4 116.4h1.6v6.62h-1.6zM267 116.4h3.4v6.62h-3.4zM273.4 116.4h1.6v6.62h-1.6zM275 116.4h1.2v6.62h-1.2zM287.4 116.4h2.2v6.62h-2.2zM289.6 116.4h1.2v6.62h-1.2zM297.6 116.4h2.8v6.62h-2.8zM303.5 116.4h3.4v6.62h-3.4zM319.3 116.4h2.2v6.62h-2.2zM325.3 116.4h3.4v6.62h-3.4zM328.7 116.4h2.2v6.62h-2.2zM337.1 116.4h2.8v6.62h-2.8zM339.9 116.4h2.8v6.62h-2.8zM342.7 116.4h2.8v6.62h-2.8zM345.5 116.4h2.8v6.62h-2.8zM348.3 116.4h1.2v6.62h-1.2zM355.3 116.4h2.2v6.62h-2.2zM357.5 116.4h2.2v6.62h-2.2zM367.4 116.4h1.6v6.62h-1.6zM371.2 116.4h0.9v6.62h-0.9zM372.1 116.4h3.4v6.62h-3.4zM375.5 116.4h2.2v6.62h-2.2zM377.7 116.4h2.8v6.62h-2.8zM380.5 116.4h3.4v6.62h-3.4zM385.1 116.4h1.2v6.62h-1.2zM386.3 116.4h1.6v6.62h-1.6zM394.1 116.4h2.2v6.62h-2.2zM396.3 116.4h1.2v6.62h-1.2zM397.5 116.4h0.9v6.62h-0.9zM398.4 116.4h1.6v6.62h-1.6zM404.3 116.4h2.2v6.62h-2.2zM415.2 116.4h0.9v6.62h-0.9zM425.1 116.4h2.2v6.62h-2.2zM427.3 116.4h0.9v6.62h-0.9zM429.1 116.4h3.4v6.62h-3.4zM432.5 116.4h1.2v6.62h-1.2zM435.3 116.4h1.2v6.62h-1.2zM438.1 116.4h2.2v6.62h-2.2zM443.7 116.4h1.6v6.62h-1.6zM453.4 116.4h2.2v6.62h-2.2zM456.8 116.4h2.8v6.62h-2.8zM459.6 116.4h3.4v6.62h-3.4zM469.6 116.4h2.8v6.62h-2.8zM472.4 116.4h0.9v6.62h-0.9zM473.3 116.4h0.9v6.62h-0.9zM474.2 116.4h0.9v6.62h-0.9zM479.5 116.4h2.2v6.62h-2.2zM487.3 116.4h2.8v6.62h-2.8zM490.1 116.4h3.4v6.62h-3.4zM494.7 116.4h2.2v6.62h-2.2zM514.2 116.4h2.2v6.62h-2.2zM516.4 116.4h3.4v6.62h-3.4zM519.8 116.4h2.8v6.62h-2.8zM529.5 116.4h3.4v6.62h-3.4zM532.9 116.4h1.2v6.62h-1.2zM537.5 116.4h0.9v6.62h-0.9zM540 116.4h0.9v6.62h-0.9zM547.4 116.4h0.9v6.62h-0.9zM551.1 116.4h2.2v6.62h-2.2zM554.5 116.4h2.8v6.62h-2.8zM557.3 116.4h3.4v6.62h-3.4zM568.5 116.4h2.2v6.62h-2.2zM570.7 116.4h0.9v6.62h-0.9zM579 116.4h1.6v6.62h-1.6zM584 116.4h3.4v6.62h-3.4zM600.8 116.4h1.7v6.62h-1.7zM83.7 123.02h0.9v6.62h-0.9zM89.2 123.02h1.6v6.62h-1.6zM93.3 123.02h1.2v6.62h-1.2zM99.5 123.02h1.6v6.62h-1.6zM105.4 123.02h3.4v6.62h-3.4zM114.7 123.02h1.2v6.62h-1.2zM115.9 123.02h3.4v6.62h-3.4zM119.3 123.02h1.2v6.62h-1.2zM120.5 123.02h1.6v6.62h-1.6zM123.7 123.02h1.2v6.62h-1.2zM124.9 123.02h0.9v6.62h-0.9zM128.9 123.02h2.8v6.62h-2.8zM134.5 123.02h1.6v6.62h-1.6zM137.7 123.02h1.6v6.62h-1.6zM139.3 123.02h1.6v6.62h-1.6zM141.8 123.02h0.9v6.62h-0.9zM149.3 123.02h1.2v6.62h-1.2zM154.5 123.02h2.8v6.62h-2.8zM157.3 123.02h1.2v6.62h-1.2zM159.7 123.02h3.4v6.62h-3.4zM166.5 123.02h2.8v6.62h-2.8zM171.5 123.02h2.2v6.62h-2.2zM173.7 123.02h2.8v6.62h-2.8zM178.1 123.02h2.2v6.62h-2.2zM186.5 123.02h1.6v6.62h-1.6zM188.1 123.02h0.9v6.62h-0.9zM192.4 123.02h2.2v6.62h-2.2zM196.2 123.02h0.9v6.62h-0.9zM197.1 123.02h3.4v6.62h-3.4zM200.5 123.02h1.6v6.62h-1.6zM203.7 123.02h0.9v6.62h-0.9zM208 123.02h1.2v6.62h-1.2zM214.5 123.02h2.8v6.62h-2.8zM217.3 123.02h1.2v6.62h-1.2zM218.5 123.02h1.6v6.62h-1.6zM220.1 123.02h3.4v6.62h-3.4zM223.5 123.02h1.2v6.62h-1.2zM224.7 123.02h0.9v6.62h-0.9zM225.6 123.02h1.6v6.62h-1.6zM229.4 123.02h1.6v6.62h-1.6zM231 123.02h1.2v6.62h-1.2zM232.2 123.02h1.6v6.62h-1.6zM233.8 123.02h2.8v6.62h-2.8zM236.6 123.02h1.2v6.62h-1.2zM237.8 123.02h3.4v6.62h-3.4zM244 123.02h0.9v6.62h-0.9zM244.9 123.02h2.2v6.62h-2.2zM247.1 123.02h1.6v6.62h-1.6zM261.1 123.02h2.8v6.62h-2.8zM263.9 123.02h2.8v6.62h-2.8zM274.4 123.02h3.4v6.62h-3.4zM281.8 123.02h1.2v6.62h-1.2zM284.2 123.02h3.4v6.62h-3.4zM288.8 123.02h0.9v6.62h-0.9zM289.7 123.02h2.8v6.62h-2.8zM292.5 123.02h2.2v6.62h-2.2zM294.7 123.02h2.2v6.62h-2.2zM301.9 123.02h2.2v6.62h-2.2zM304.1 123.02h0.9v6.62h-0.9zM305 123.02h2.2v6.62h-2.2zM307.2 123.02h1.6v6.62h-1.6zM310 123.02h2.2v6.62h-2.2zM312.2 123.02h0.9v6.62h-0.9zM313.1 123.02h1.6v6.62h-1.6zM320.2 123.02h2.2v6.62h-2.2zM322.4 123.02h1.6v6.62h-1.6zM324 123.02h2.2v6.62h-2.2zM328.4 123.02h1.6v6.62h-1.6zM333.8 123.02h3.4v6.62h-3.4zM337.2 123.02h1.6v6.62h-1.6zM351.5 123.02h1.6v6.62h-1.6zM353.1 123.02h1.6v6.62h-1.6zM354.7 123.02h3.4v6.62h-3.4zM358.1 123.02h3.4v6.62h-3.4zM364.3 123.02h1.2v6.62h-1.2zM365.5 123.02h3.4v6.62h-3.4zM368.9 123.02h0.9v6.62h-0.9zM369.8 123.02h2.8v6.62h-2.8zM375.4 123.02h2.8v6.62h-2.8zM378.2 123.02h1.2v6.62h-1.2zM379.4 123.02h2.8v6.62h-2.8zM385.6 123.02h0.9v6.62h-0.9zM386.5 123.02h1.2v6.62h-1.2zM389.3 123.02h0.9v6.62h-0.9zM390.2 123.02h3.4v6.62h-3.4zM393.6 123.02h2.8v6.62h-2.8zM397.6 123.02h3.4v6.62h-3.4zM404.4 123.02h2.2v6.62h-2.2zM409.4 123.02h3.4v6.62h-3.4zM412.8 123.02h1.2v6.62h-1.2zM414 123.02h2.8v6.62h-2.8zM416.8 123.02h2.2v6.62h-2.2zM419.9 123.02h2.8v6.62h-2.8zM425.5 123.02h0.9v6.62h-0.9zM429.8 123.02h0.9v6.62h-0.9zM430.7 123.02h2.2v6.62h-2.2zM432.9 123.02h3.4v6.62h-3.4zM436.3 123.02h2.2v6.62h-2.2zM438.5 123.02h1.6v6.62h-1.6zM443.8 123.02h2.2v6.62h-2.2zM446.9 123.02h2.2v6.62h-2.2zM449.1 123.02h0.9v6.62h-0.9zM450 123.02h3.4v6.62h-3.4zM457 123.02h2.8v6.62h-2.8zM459.8 123.02h2.8v6.62h-2.8zM468.2 123.02h1.6v6.62h-1.6zM471 123.02h2.8v6.62h-2.8zM473.8 123.02h2.2v6.62h-2.2zM476 123.02h1.2v6.62h-1.2zM477.2 123.02h2.2v6.62h-2.2zM481 123.02h0.9v6.62h-0.9zM491.5 123.02h1.2v6.62h-1.2zM493.6 123.02h2.2v6.62h-2.2zM498.6 123.02h2.8v6.62h-2.8zM503.8 123.02h2.8v6.62h-2.8zM506.6 123.02h2.8v6.62h-2.8zM517.2 123.02h1.6v6.62h-1.6zM518.8 123.02h1.2v6.62h-1.2zM526.8 123.02h1.2v6.62h-1.2zM528 123.02h0.9v6.62h-0.9zM533.2 123.02h3.4v6.62h-3.4zM536.6 123.02h2.2v6.62h-2.2zM540.4 123.02h0.9v6.62h-0.9zM544.1 123.02h1.6v6.62h-1.6zM547.3 123.02h2.2v6.62h-2.2zM558.2 123.02h0.9v6.62h-0.9zM559.1 123.02h2.2v6.62h-2.2zM567.8 123.02h0.9v6.62h-0.9zM568.7 123.02h1.2v6.62h-1.2zM569.9 123.02h2.8v6.62h-2.8zM572.7 123.02h2.2v6.62h-2.2zM574.9 123.02h3.4v6.62h-3.4zM581.1 123.02h1.6v6.62h-1.6zM587 123.02h1.2v6.62h-1.2zM588.2 123.02h2.8v6.62h-2.8zM595.4 123.02h1.6v6.62h-1.6zM597 123.02h2.8v6.62h-2.8zM600.7 123.02h1.8v6.62h-1.8zM86.7 129.64h3.4v6.62h-3.4zM90.1 129.64h1.2v6.62h-1.2zM94.1 129.64h3.4v6.62h-3.4zM98.7 129.64h3.4v6.62h-3.4zM106.1 129.64h3.4v6.62h-3.4zM110.7 129.64h0.9v6.62h-0.9zM111.6 129.64h2.8v6.62h-2.8zM114.4 129.64h1.6v6.62h-1.6zM118.2 129.64h3.4v6.62h-3.4zM121.6 129.64h2.8v6.62h-2.8zM124.4 129.64h2.8v6.62h-2.8zM130 129.64h0.9v6.62h-0.9zM137.5 129.64h0.9v6.62h-0.9zM144.4 129.64h0.9v6.62h-0.9zM148.1 129.64h1.6v6.62h-1.6zM152.8 129.64h3.4v6.62h-3.4zM156.2 129.64h2.8v6.62h-2.8zM159 129.64h0.9v6.62h-0.9zM161.5 129.64h1.2v6.62h-1.2zM165.8 129.64h3.4v6.62h-3.4zM172 129.64h2.2v6.62h-2.2zM174.2 129.64h1.6v6.62h-1.6zM175.8 129.64h3.4v6.62h-3.4zM179.2 129.64h0.9v6.62h-0.9zM180.1 129.64h0.9v6.62h-0.9zM181 129.64h1.2v6.62h-1.2zM185 129.64h1.2v6.62h-1.2zM186.2 129.64h2.2v6.62h-2.2zM188.4 129.64h0.9v6.62h-0.9zM189.3 129.64h2.8v6.62h-2.8zM193.9 129.64h1.2v6.62h-1.2zM196.3 129.64h1.6v6.62h-1.6zM213.4 129.64h2.2v6.62h-2.2zM215.6 129.64h2.8v6.62h-2.8zM218.4 129.64h0.9v6.62h-0.9zM219.3 129.64h1.6v6.62h-1.6zM222.5 129.64h1.6v6.62h-1.6zM224.1 129.64h3.4v6.62h-3.4zM228.4 129.64h2.2v6.62h-2.2zM230.6 129.64h3.4v6.62h-3.4zM234 129.64h0.9v6.62h-0.9zM234.9 129.64h1.6v6.62h-1.6zM239.9 129.64h1.2v6.62h-1.2zM242.3 129.64h0.9v6.62h-0.9zM245.4 129.64h0.9v6.62h-0.9zM246.3 129.64h0.9v6.62h-0.9zM247.2 129.64h1.6v6.62h-1.6zM248.8 129.64h1.6v6.62h-1.6zM250.4 129.64h1.6v6.62h-1.6zM252 129.64h2.2v6.62h-2.2zM258.8 129.64h1.6v6.62h-1.6zM262 129.64h1.2v6.62h-1.2zM264.1 129.64h1.6v6.62h-1.6zM265.7 129.64h1.2v6.62h-1.2zM268.1 129.64h1.6v6.62h-1.6zM269.7 129.64h0.9v6.62h-0.9zM270.6 129.64h2.8v6.62h-2.8zM273.4 129.64h2.8v6.62h-2.8zM276.2 129.64h2.8v6.62h-2.8zM279 129.64h2.8v6.62h-2.8zM281.8 129.64h1.6v6.62h-1.6zM289 129.64h3.4v6.62h-3.4zM292.4 129.64h1.6v6.62h-1.6zM299 129.64h2.8v6.62h-2.8zM301.8 129.64h2.2v6.62h-2.2zM304 129.64h2.8v6.62h-2.8zM313.4 129.64h0.9v6.62h-0.9zM314.3 129.64h0.9v6.62h-0.9zM315.2 129.64h1.6v6.62h-1.6zM319.9 129.64h0.9v6.62h-0.9zM324.2 129.64h1.2v6.62h-1.2zM325.4 129.64h0.9v6.62h-0.9zM329.7 129.64h3.4v6.62h-3.4zM337.1 129.64h2.8v6.62h-2.8zM343.9 129.64h1.2v6.62h-1.2zM345.1 129.64h0.9v6.62h-0.9zM347.2 129.64h0.9v6.62h-0.9zM348.1 129.64h1.2v6.62h-1.2zM349.3 129.64h2.2v6.62h-2.2zM356.1 129.64h3.4v6.62h-3.4zM359.5 129.64h2.8v6.62h-2.8zM362.3 129.64h2.2v6.62h-2.2zM367.9 129.64h1.6v6.62h-1.6zM369.5 129.64h0.9v6.62h-0.9zM370.4 129.64h2.2v6.62h-2.2zM375.4 129.64h0.9v6.62h-0.9zM376.3 129.64h3.4v6.62h-3.4zM379.7 129.64h0.9v6.62h-0.9zM380.6 129.64h1.6v6.62h-1.6zM382.2 129.64h0.9v6.62h-0.9zM384 129.64h1.2v6.62h-1.2zM386.1 129.64h3.4v6.62h-3.4zM393.9 129.64h2.8v6.62h-2.8zM397.9 129.64h2.2v6.62h-2.2zM401.7 129.64h1.6v6.62h-1.6zM406.7 129.64h3.4v6.62h-3.4zM410.1 129.64h1.2v6.62h-1.2zM411.3 129.64h1.6v6.62h-1.6zM412.9 129.64h1.6v6.62h-1.6zM419.5 129.64h3.4v6.62h-3.4zM428.4 129.64h0.9v6.62h-0.9zM439.5 129.64h1.2v6.62h-1.2zM440.7 129.64h1.6v6.62h-1.6zM444.5 129.64h3.4v6.62h-3.4zM447.9 129.64h3.4v6.62h-3.4zM451.3 129.64h2.2v6.62h-2.2zM455.9 129.64h2.8v6.62h-2.8zM458.7 129.64h2.8v6.62h-2.8zM461.5 129.64h2.8v6.62h-2.8zM466.5 129.64h1.6v6.62h-1.6zM468.1 129.64h0.9v6.62h-0.9zM472.8 129.64h2.2v6.62h-2.2zM475 129.64h2.2v6.62h-2.2zM477.2 129.64h2.8v6.62h-2.8zM480 129.64h1.2v6.62h-1.2zM484 129.64h2.2v6.62h-2.2zM487.8 129.64h1.2v6.62h-1.2zM492.2 129.64h3.4v6.62h-3.4zM499 129.64h1.6v6.62h-1.6zM500.6 129.64h1.6v6.62h-1.6zM502.2 129.64h2.8v6.62h-2.8zM505 129.64h1.6v6.62h-1.6zM512.2 129.64h3.4v6.62h-3.4zM519 129.64h0.9v6.62h-0.9zM523.3 129.64h1.6v6.62h-1.6zM524.9 129.64h3.4v6.62h-3.4zM538.9 129.64h1.6v6.62h-1.6zM541.4 129.64h2.2v6.62h-2.2zM549.8 129.64h2.8v6.62h-2.8zM553.8 129.64h1.2v6.62h-1.2zM560 129.64h1.2v6.62h-1.2zM570.4 129.64h2.8v6.62h-2.8zM577.5 129.64h2.2v6.62h-2.2zM579.7 129.64h1.6v6.62h-1.6zM581.3 129.64h1.2v6.62h-1.2zM585.3 129.64h1.6v6.62h-1.6zM586.9 129.64h2.2v6.62h-2.2zM589.1 129.64h1.6v6.62h-1.6zM590.7 129.64h1.6v6.62h-1.6zM595.1 129.64h0.9v6.62h-0.9zM596 129.64h1.6v6.62h-1.6zM598.8 129.64h0.9v6.62h-0.9zM599.7 129.64h2.2v6.62h-2.2zM601.9 129.64h0.6v6.62h-0.6zM95.3 136.26h1.2v6.62h-1.2zM105.2 136.26h0.8v6.62h-0.8zM120.5 136.26h0.7v6.62h-0.7zM126.1 136.26h0.7v6.62h-0.7zM146.6 136.26h1v6.62h-1zM147.6 136.26h0.9v6.62h-0.9zM151.4 136.26h0.8v6.62h-0.8zM174.6 136.26h0.8v6.62h-0.8zM180.2 136.26h0.7v6.62h-0.7zM212.7 136.26h0.7v6.62h-0.7zM216.3 136.26h1v6.62h-1zM222.7 136.26h1.2v6.62h-1.2zM234.9 136.26h0.9v6.62h-0.9zM235.8 136.26h0.7v6.62h-0.7zM246.2 136.26h0.7v6.62h-0.7zM260.9 136.26h1v6.62h-1zM269.1 136.26h0.8v6.62h-0.8zM285.4 136.26h1.2v6.62h-1.2zM286.6 136.26h0.7v6.62h-0.7zM292.2 136.26h0.7v6.62h-0.7zM295.4 136.26h1.2v6.62h-1.2zM321.6 136.26h0.9v6.62h-0.9zM332.6 136.26h0.7v6.62h-0.7zM337.1 136.26h1.2v6.62h-1.2zM356 136.26h0.8v6.62h-0.8zM357.6 136.26h0.7v6.62h-0.7zM372.5 136.26h0.7v6.62h-0.7zM373.2 136.26h1v6.62h-1zM379.3 136.26h0.9v6.62h-0.9zM384.3 136.26h0.9v6.62h-0.9zM403.1 136.26h1.2v6.62h-1.2zM410.9 136.26h0.9v6.62h-0.9zM415.4 136.26h0.8v6.62h-0.8zM429.7 136.26h0.7v6.62h-0.7zM431.4 136.26h0.9v6.62h-0.9zM447 136.26h0.8v6.62h-0.8zM458.9 136.26h0.9v6.62h-0.9zM466.7 136.26h1v6.62h-1zM483.2 136.26h0.8v6.62h-0.8zM493.5 136.26h1v6.62h-1zM495.5 136.26h0.8v6.62h-0.8zM515.7 136.26h1.2v6.62h-1.2zM535.9 136.26h1.2v6.62h-1.2zM537.1 136.26h1v6.62h-1zM550.5 136.26h1.2v6.62h-1.2zM555.3 136.26h0.9v6.62h-0.9zM567.3 136.26h1v6.62h-1zM575.5 136.26h0.9v6.62h-0.9zM590.1 136.26h0.9v6.62h-0.9zM81.5 142.88h0.8v6.62h-0.8zM85.3 142.88h0.8v6.62h-0.8zM86.1 142.88h0.7v6.62h-0.7zM93 142.88h1.2v6.62h-1.2zM100.5 142.88h0.7v6.62h-0.7zM117.8 142.88h1.2v6.62h-1.2zM133.5 142.88h0.9v6.62h-0.9zM144.5 142.88h0.8v6.62h-0.8zM156.7 142.88h0.8v6.62h-0.8zM160.8 142.88h1.2v6.62h-1.2zM179.5 142.88h0.7v6.62h-0.7zM189.1 142.88h0.7v6.62h-0.7zM223.4 142.88h1v6.62h-1zM227 142.88h1v6.62h-1zM245 142.88h0.9v6.62h-0.9zM247.2 142.88h0.7v6.62h-0.7zM268.6 142.88h1v6.62h-1zM292.1 142.88h0.9v6.62h-0.9zM308.5 142.88h1v6.62h-1zM313 142.88h1v6.62h-1zM321.5 142.88h1.2v6.62h-1.2zM324.4 142.88h0.8v6.62h-0.8zM341.6 142.88h1v6.62h-1zM342.6 142.88h0.7v6.62h-0.7zM355.5 142.88h1v6.62h-1zM356.5 142.88h1.2v6.62h-1.2zM360.5 142.88h1.2v6.62h-1.2zM371.4 142.88h0.7v6.62h-0.7zM375.1 142.88h1v6.62h-1zM391.6 142.88h0.7v6.62h-0.7zM392.3 142.88h0.7v6.62h-0.7zM405.8 142.88h0.9v6.62h-0.9zM406.7 142.88h1.2v6.62h-1.2zM408.7 142.88h0.7v6.62h-0.7zM412.8 142.88h0.8v6.62h-0.8zM423.1 142.88h0.8v6.62h-0.8zM426.1 142.88h1v6.62h-1zM428.1 142.88h1.2v6.62h-1.2zM437.4 142.88h0.8v6.62h-0.8zM440.6 142.88h1.2v6.62h-1.2zM447.9 142.88h0.9v6.62h-0.9zM456.6 142.88h0.8v6.62h-0.8zM457.4 142.88h1v6.62h-1zM460.3 142.88h0.7v6.62h-0.7zM488.4 142.88h1v6.62h-1zM492.4 142.88h0.7v6.62h-0.7zM517.2 142.88h0.9v6.62h-0.9zM520.8 142.88h0.7v6.62h-0.7zM526.2 142.88h0.8v6.62h-0.8zM527 142.88h0.8v6.62h-0.8zM550.4 142.88h0.9v6.62h-0.9zM562.1 142.88h1v6.62h-1zM565.3 142.88h1.2v6.62h-1.2zM567.7 142.88h0.8v6.62h-0.8zM578.6 142.88h1v6.62h-1zM88 149.5h0.7v6.62h-0.7zM88.7 149.5h1.2v6.62h-1.2zM89.9 149.5h0.7v6.62h-0.7zM91.4 149.5h1.2v6.62h-1.2zM113.6 149.5h0.8v6.62h-0.8zM122.5 149.5h0.9v6.62h-0.9zM131.4 149.5h1v6.62h-1zM160.8 149.5h0.8v6.62h-0.8zM164.7 149.5h0.7v6.62h-0.7zM166.2 149.5h0.8v6.62h-0.8zM167 149.5h0.8v6.62h-0.8zM178.5 149.5h0.9v6.62h-0.9zM205.2 149.5h0.9v6.62h-0.9zM210.3 149.5h1.2v6.62h-1.2zM212.5 149.5h1.2v6.62h-1.2zM213.7 149.5h0.9v6.62h-0.9zM231.5 149.5h0.8v6.62h-0.8zM244.5 149.5h0.7v6.62h-0.7zM248 149.5h0.9v6.62h-0.9zM253.4 149.5h0.8v6.62h-0.8zM260.8 149.5h0.7v6.62h-0.7zM265.6 149.5h0.7v6.62h-0.7zM277.3 149.5h1.2v6.62h-1.2zM286.6 149.5h1v6.62h-1zM290.4 149.5h0.9v6.62h-0.9zM293 149.5h0.7v6.62h-0.7zM310.1 149.5h0.8v6.62h-0.8zM310.9 149.5h0.9v6.62h-0.9zM313.5 149.5h1v6.62h-1zM340 149.5h0.9v6.62h-0.9zM342.8 149.5h0.7v6.62h-0.7zM343.5 149.5h0.7v6.62h-0.7zM347.4 149.5h1v6.62h-1zM352.3 149.5h0.7v6.62h-0.7zM357.7 149.5h0.8v6.62h-0.8zM378.8 149.5h1.2v6.62h-1.2zM380 149.5h1v6.62h-1zM400.8 149.5h1v6.62h-1zM419.2 149.5h0.7v6.62h-0.7zM428.6 149.5h0.8v6.62h-0.8zM436.2 149.5h0.9v6.62h-0.9zM437.1 149.5h1.2v6.62h-1.2zM440.5 149.5h0.7v6.62h-0.7zM442.4 149.5h0.9v6.62h-0.9zM444.2 149.5h1v6.62h-1zM445.2 149.5h1.2v6.62h-1.2zM456.9 149.5h0.9v6.62h-0.9zM482.7 149.5h1.2v6.62h-1.2zM497.2 149.5h1.2v6.62h-1.2zM503.7 149.5h0.9v6.62h-0.9zM504.6 149.5h1v6.62h-1zM530.3 149.5h1v6.62h-1zM541.1 149.5h0.7v6.62h-0.7zM548.5 149.5h1.2v6.62h-1.2zM556 149.5h0.9v6.62h-0.9zM559.8 149.5h0.7v6.62h-0.7zM569.1 149.5h0.8v6.62h-0.8zM87.4 156.12h0.9v6.62h-0.9zM103 156.12h1v6.62h-1zM108.2 156.12h1v6.62h-1zM109.2 156.12h1v6.62h-1zM115 156.12h0.8v6.62h-0.8zM124.7 156.12h0.9v6.62h-0.9zM126.4 156.12h0.8v6.62h-0.8zM146.1 156.12h1.2v6.62h-1.2zM148 156.12h0.9v6.62h-0.9zM159.1 156.12h0.7v6.62h-0.7zM163.7 156.12h1v6.62h-1zM170.6 156.12h0.8v6.62h-0.8zM179.4 156.12h0.9v6.62h-0.9zM185.2 156.12h0.8v6.62h-0.8zM202.1 156.12h0.7v6.62h-0.7zM202.8 156.12h1.2v6.62h-1.2zM218.1 156.12h1.2v6.62h-1.2zM236.9 156.12h1.2v6.62h-1.2zM238.1 156.12h0.7v6.62h-0.7zM239.6 156.12h0.7v6.62h-0.7zM252.2 156.12h0.9v6.62h-0.9zM256.1 156.12h0.9v6.62h-0.9zM262 156.12h0.8v6.62h-0.8zM271.7 156.12h1v6.62h-1zM275.7 156.12h1v6.62h-1zM284.3 156.12h1v6.62h-1zM312 156.12h1.2v6.62h-1.2zM321.5 156.12h1.2v6.62h-1.2zM344.9 156.12h1.2v6.62h-1.2zM350.7 156.12h0.8v6.62h-0.8zM352.3 156.12h0.8v6.62h-0.8zM353.1 156.12h1.2v6.62h-1.2zM370.2 156.12h0.9v6.62h-0.9zM385.8 156.12h0.9v6.62h-0.9zM394.2 156.12h0.9v6.62h-0.9zM397.2 156.12h0.8v6.62h-0.8zM405.8 156.12h0.8v6.62h-0.8zM408.3 156.12h1v6.62h-1zM435 156.12h0.8v6.62h-0.8zM449.8 156.12h0.8v6.62h-0.8zM450.6 156.12h0.7v6.62h-0.7zM451.3 156.12h0.7v6.62h-0.7zM471 156.12h1v6.62h-1zM472 156.12h0.7v6.62h-0.7zM493.1 156.12h1v6.62h-1zM522.3 156.12h0.7v6.62h-0.7zM544.9 156.12h1v6.62h-1zM553.3 156.12h0.9v6.62h-0.9zM571.8 156.12h0.7v6.62h-0.7zM585.8 156.12h0.9v6.62h-0.9zM106.9 162.74h1v6.62h-1zM113.5 162.74h0.7v6.62h-0.7zM123.7 162.74h1.2v6.62h-1.2zM149.9 162.74h0.8v6.62h-0.8zM166.9 162.74h0.8v6.62h-0.8zM167.7 162.74h0.9v6.62h-0.9zM181.6 162.74h1v6.62h-1zM198.1 162.74h1v6.62h-1zM200.9 162.74h0.8v6.62h-0.8zM207.6 162.74h1v6.62h-1zM219.9 162.74h1v6.62h-1zM221.7 162.74h0.8v6.62h-0.8zM246.8 162.74h0.9v6.62h-0.9zM263.8 162.74h1v6.62h-1zM274.7 162.74h0.8v6.62h-0.8zM277.7 162.74h0.7v6.62h-0.7zM282.7 162.74h1.2v6.62h-1.2zM284.9 162.74h1.2v6.62h-1.2zM286.1 162.74h1v6.62h-1zM291.6 162.74h0.8v6.62h-0.8zM311.6 162.74h0.7v6.62h-0.7zM316.1 162.74h0.9v6.62h-0.9zM329.9 162.74h1v6.62h-1zM341.9 162.74h1.2v6.62h-1.2zM348.8 162.74h1v6.62h-1zM354.9 162.74h0.8v6.62h-0.8zM367.5 162.74h1v6.62h-1zM379.5 162.74h1v6.62h-1zM380.5 162.74h0.7v6.62h-0.7zM382 162.74h0.7v6.62h-0.7zM390.9 162.74h1v6.62h-1zM392.6 162.74h1.2v6.62h-1.2zM398 162.74h1v6.62h-1zM406.6 162.74h1v6.62h-1zM408.4 162.74h0.7v6.62h-0.7zM422.6 162.74h1v6.62h-1zM423.6 162.74h1.2v6.62h-1.2zM432.5 162.74h1v6.62h-1zM444 162.74h0.8v6.62h-0.8zM452.2 162.74h0.9v6.62h-0.9zM470.6 162.74h1v6.62h-1zM471.6 162.74h0.8v6.62h-0.8zM479.8 162.74h0.8v6.62h-0.8zM491.1 162.74h0.8v6.62h-0.8zM507.9 162.74h1v6.62h-1zM512 162.74h1v6.62h-1zM535.6 162.74h0.8v6.62h-0.8zM542.2 162.74h0.9v6.62h-0.9zM546.7 162.74h0.8v6.62h-0.8zM549.7 162.74h0.7v6.62h-0.7zM560 162.74h0.7v6.62h-0.7zM564.3 162.74h0.9v6.62h-0.9zM589.4 162.74h1.2v6.62h-1.2zM102.6 169.36h1.2v6.62h-1.2zM106.2 169.36h0.7v6.62h-0.7zM107.9 169.36h0.8v6.62h-0.8zM130.8 169.36h1v6.62h-1zM147 169.36h0.7v6.62h-0.7zM167.4 169.36h0.7v6.62h-0.7zM170.4 169.36h1v6.62h-1zM175.2 169.36h1v6.62h-1zM194.1 169.36h0.8v6.62h-0.8zM199.5 169.36h0.8v6.62h-0.8zM204.4 169.36h0.8v6.62h-0.8zM219.4 169.36h0.8v6.62h-0.8zM241.9 169.36h1v6.62h-1zM249 169.36h0.8v6.62h-0.8zM259.3 169.36h1v6.62h-1zM264 169.36h0.7v6.62h-0.7zM280.4 169.36h1.2v6.62h-1.2zM296.6 169.36h0.8v6.62h-0.8zM317.5 169.36h1.2v6.62h-1.2zM330.5 169.36h1.2v6.62h-1.2zM337.7 169.36h1v6.62h-1zM349.3 169.36h1v6.62h-1zM354.3 169.36h1v6.62h-1zM376.1 169.36h0.7v6.62h-0.7zM381.9 169.36h1.2v6.62h-1.2zM384.8 169.36h0.7v6.62h-0.7zM387.7 169.36h0.9v6.62h-0.9zM436.3 169.36h1v6.62h-1zM460.6 169.36h1v6.62h-1zM462.8 169.36h0.9v6.62h-0.9zM491.1 169.36h0.7v6.62h-0.7zM501.5 169.36h0.9v6.62h-0.9zM512.5 169.36h0.8v6.62h-0.8zM521.4 169.36h1v6.62h-1zM522.4 169.36h1v6.62h-1zM523.4 169.36h1v6.62h-1zM525.3 169.36h1v6.62h-1zM544.6 169.36h0.8v6.62h-0.8zM545.4 169.36h1.2v6.62h-1.2zM553.7 169.36h0.8v6.62h-0.8zM567.1 169.36h0.9v6.62h-0.9zM570.2 169.36h0.7v6.62h-0.7zM574.8 169.36h0.7v6.62h-0.7zM594.9 169.36h1.2v6.62h-1.2z"/><path fill="#f7f7f7" d="M117.9 116.4h3.4v6.62h-3.4zM366.5 116.4h0.9v6.62h-0.9zM433.7 116.4h1.6v6.62h-1.6zM94.5 123.02h2.2v6.62h-2.2zM101.1 123.02h3.4v6.62h-3.4zM151.7 123.02h2.8v6.62h-2.8zM189 123.02h3.4v6.62h-3.4zM254.9 123.02h2.8v6.62h-2.8zM308.8 123.02h1.2v6.62h-1.2zM326.2 123.02h2.2v6.62h-2.2zM419 123.02h0.9v6.62h-0.9zM446 123.02h0.9v6.62h-0.9zM484.7 123.02h3.4v6.62h-3.4zM545.7 123.02h1.6v6.62h-1.6zM549.5 123.02h0.9v6.62h-0.9zM550.4 123.02h2.8v6.62h-2.8zM556.6 123.02h1.6v6.62h-1.6zM81.5 129.64h0.9v6.62h-0.9zM97.5 129.64h1.2v6.62h-1.2zM104.9 129.64h1.2v6.62h-1.2zM109.5 129.64h1.2v6.62h-1.2zM116 129.64h2.2v6.62h-2.2zM127.2 129.64h2.8v6.62h-2.8zM169.2 129.64h2.8v6.62h-2.8zM286.8 129.64h2.2v6.62h-2.2zM335.3 129.64h0.9v6.62h-0.9zM383.1 129.64h0.9v6.62h-0.9zM400.1 129.64h1.6v6.62h-1.6zM426.3 129.64h0.9v6.62h-0.9zM429.3 129.64h3.4v6.62h-3.4zM481.2 129.64h2.8v6.62h-2.8zM486.2 129.64h1.6v6.62h-1.6zM489 129.64h1.6v6.62h-1.6zM506.6 129.64h2.8v6.62h-2.8zM547 129.64h2.8v6.62h-2.8zM557.2 129.64h2.8v6.62h-2.8zM568.6 129.64h0.9v6.62h-0.9zM592.3 129.64h2.8v6.62h-2.8zM84.5 136.26h0.8v6.62h-0.8zM85.3 136.26h1v6.62h-1zM87.6 136.26h0.8v6.62h-0.8zM91.2 136.26h1.3v6.62h-1.3zM92.5 136.26h2.8v6.62h-2.8zM96.5 136.26h2.2v6.62h-2.2zM99.6 136.26h1v6.62h-1zM101.8 136.26h1.7v6.62h-1.7zM106 136.26h0.8v6.62h-0.8zM106.8 136.26h1.7v6.62h-1.7zM108.5 136.26h1.3v6.62h-1.3zM115.2 136.26h2.8v6.62h-2.8zM118.8 136.26h1.7v6.62h-1.7zM127.5 136.26h1.3v6.62h-1.3zM133.6 136.26h2.8v6.62h-2.8zM145.6 136.26h1v6.62h-1zM153.4 136.26h1.3v6.62h-1.3zM161.5 136.26h2.2v6.62h-2.2zM164.7 136.26h1.3v6.62h-1.3zM172.6 136.26h1v6.62h-1zM177.9 136.26h1v6.62h-1zM185.4 136.26h2.8v6.62h-2.8zM193.6 136.26h1.3v6.62h-1.3zM201.6 136.26h0.8v6.62h-0.8zM207.3 136.26h0.8v6.62h-0.8zM217.3 136.26h2.2v6.62h-2.2zM229.1 136.26h0.8v6.62h-0.8zM251.6 136.26h1v6.62h-1zM264.7 136.26h2.2v6.62h-2.2zM272.4 136.26h2.8v6.62h-2.8zM288.3 136.26h0.8v6.62h-0.8zM293.7 136.26h1.7v6.62h-1.7zM302.3 136.26h2.8v6.62h-2.8zM305.1 136.26h2.8v6.62h-2.8zM308.7 136.26h2.8v6.62h-2.8zM315.8 136.26h1v6.62h-1zM316.8 136.26h2.8v6.62h-2.8zM320.8 136.26h0.8v6.62h-0.8zM323.2 136.26h2.8v6.62h-2.8zM336.3 136.26h0.8v6.62h-0.8zM338.3 136.26h1v6.62h-1zM340.6 136.26h2.2v6.62h-2.2zM345.6 136.26h2.8v6.62h-2.8zM352.4 136.26h0.8v6.62h-0.8zM361.7 136.26h2.2v6.62h-2.2zM374.2 136.26h1.3v6.62h-1.3zM388 136.26h1.7v6.62h-1.7zM397.9 136.26h2.2v6.62h-2.2zM400.1 136.26h2.2v6.62h-2.2zM411.8 136.26h2.8v6.62h-2.8zM414.6 136.26h0.8v6.62h-0.8zM417.2 136.26h1.7v6.62h-1.7zM420.7 136.26h1v6.62h-1zM424.9 136.26h1v6.62h-1zM425.9 136.26h2.2v6.62h-2.2zM428.1 136.26h0.8v6.62h-0.8zM437.4 136.26h2.2v6.62h-2.2zM442.1 136.26h1.7v6.62h-1.7zM456.7 136.26h2.2v6.62h-2.2zM463.7 136.26h1.3v6.62h-1.3zM465 136.26h1.7v6.62h-1.7zM469.9 136.26h2.2v6.62h-2.2zM474.3 136.26h1v6.62h-1zM494.5 136.26h1v6.62h-1zM512.1 136.26h1.3v6.62h-1.3zM522.7 136.26h1.3v6.62h-1.3zM524 136.26h2.2v6.62h-2.2zM528.2 136.26h1.3v6.62h-1.3zM532.3 136.26h2.8v6.62h-2.8zM538.1 136.26h1.3v6.62h-1.3zM540.2 136.26h2.2v6.62h-2.2zM557.2 136.26h0.8v6.62h-0.8zM560.6 136.26h0.8v6.62h-0.8zM563.6 136.26h1.3v6.62h-1.3zM571.5 136.26h2.2v6.62h-2.2zM597.2 136.26h1.7v6.62h-1.7zM598.9 136.26h1.7v6.62h-1.7zM82.3 142.88h2.2v6.62h-2.2zM97.7 142.88h2.8v6.62h-2.8zM112.8 142.88h2.2v6.62h-2.2zM122.4 142.88h1.7v6.62h-1.7zM130.5 142.88h2.2v6.62h-2.2zM147 142.88h1.3v6.62h-1.3zM155 142.88h1.7v6.62h-1.7zM159 142.88h1v6.62h-1zM160 142.88h0.8v6.62h-0.8zM166.7 142.88h1.3v6.62h-1.3zM173.2 142.88h2.2v6.62h-2.2zM184.7 142.88h1v6.62h-1zM205 142.88h2.8v6.62h-2.8zM220.9 142.88h1.3v6.62h-1.3zM234.3 142.88h1.7v6.62h-1.7zM236 142.88h2.8v6.62h-2.8zM245.9 142.88h1.3v6.62h-1.3zM257.2 142.88h1.7v6.62h-1.7zM258.9 142.88h2.2v6.62h-2.2zM269.6 142.88h2.8v6.62h-2.8zM281 142.88h1.3v6.62h-1.3zM295.8 142.88h2.8v6.62h-2.8zM298.6 142.88h1v6.62h-1zM314 142.88h2.8v6.62h-2.8zM337.8 142.88h1.3v6.62h-1.3zM340.8 142.88h0.8v6.62h-0.8zM343.3 142.88h2.2v6.62h-2.2zM346.5 142.88h1.7v6.62h-1.7zM349 142.88h1.3v6.62h-1.3zM366.7 142.88h1.7v6.62h-1.7zM381.3 142.88h1.3v6.62h-1.3zM398.2 142.88h1v6.62h-1zM402.6 142.88h2.2v6.62h-2.2zM413.6 142.88h1v6.62h-1zM414.6 142.88h2.2v6.62h-2.2zM420.9 142.88h2.2v6.62h-2.2zM427.1 142.88h1v6.62h-1zM429.3 142.88h2.8v6.62h-2.8zM432.1 142.88h1v6.62h-1zM448.8 142.88h2.8v6.62h-2.8zM465.4 142.88h2.8v6.62h-2.8zM473.3 142.88h1.7v6.62h-1.7zM475 142.88h2.2v6.62h-2.2zM481.1 142.88h2.2v6.62h-2.2zM495.9 142.88h1.3v6.62h-1.3zM512.5 142.88h1.3v6.62h-1.3zM532.5 142.88h0.8v6.62h-0.8zM536.1 142.88h1.3v6.62h-1.3zM552.6 142.88h2.2v6.62h-2.2zM584 142.88h2.8v6.62h-2.8zM590.3 142.88h2.2v6.62h-2.2zM596.2 142.88h2.8v6.62h-2.8zM81.5 149.5h1.7v6.62h-1.7zM92.6 149.5h1v6.62h-1zM95.3 149.5h2.8v6.62h-2.8zM109.7 149.5h2.2v6.62h-2.2zM121.7 149.5h0.8v6.62h-0.8zM127.3 149.5h2.8v6.62h-2.8zM130.1 149.5h1.3v6.62h-1.3zM136.5 149.5h1.7v6.62h-1.7zM143.3 149.5h2.2v6.62h-2.2zM149.9 149.5h0.8v6.62h-0.8zM155.5 149.5h2.2v6.62h-2.2zM172.2 149.5h1.7v6.62h-1.7zM176.4 149.5h0.8v6.62h-0.8zM186.4 149.5h2.2v6.62h-2.2zM189.6 149.5h2.8v6.62h-2.8zM196 149.5h1v6.62h-1zM199.5 149.5h0.8v6.62h-0.8zM200.3 149.5h0.8v6.62h-0.8zM227.4 149.5h1.3v6.62h-1.3zM245.2 149.5h1v6.62h-1zM249.9 149.5h1.3v6.62h-1.3zM251.2 149.5h2.2v6.62h-2.2zM259 149.5h1v6.62h-1zM260 149.5h0.8v6.62h-0.8zM264.3 149.5h1.3v6.62h-1.3zM266.3 149.5h1.7v6.62h-1.7zM287.6 149.5h1v6.62h-1zM298.1 149.5h2.8v6.62h-2.8zM315.5 149.5h2.2v6.62h-2.2zM317.7 149.5h2.8v6.62h-2.8zM329.4 149.5h1v6.62h-1zM330.4 149.5h2.2v6.62h-2.2zM332.6 149.5h2.8v6.62h-2.8zM335.4 149.5h0.8v6.62h-0.8zM349.2 149.5h1.3v6.62h-1.3zM355.2 149.5h0.8v6.62h-0.8zM358.5 149.5h0.8v6.62h-0.8zM359.3 149.5h1.7v6.62h-1.7zM372.8 149.5h2.2v6.62h-2.2zM376.3 149.5h1.7v6.62h-1.7zM381.9 149.5h2.8v6.62h-2.8zM386.6 149.5h1.7v6.62h-1.7zM391 149.5h2.2v6.62h-2.2zM405.3 149.5h0.8v6.62h-0.8zM407.7 149.5h0.8v6.62h-0.8zM412 149.5h1.3v6.62h-1.3zM414.3 149.5h1.7v6.62h-1.7zM426 149.5h0.8v6.62h-0.8zM434.5 149.5h1.7v6.62h-1.7zM448.1 149.5h2.2v6.62h-2.2zM457.8 149.5h2.8v6.62h-2.8zM460.6 149.5h1.3v6.62h-1.3zM464.7 149.5h1.3v6.62h-1.3zM483.9 149.5h0.8v6.62h-0.8zM498.4 149.5h1v6.62h-1zM512.2 149.5h1.3v6.62h-1.3zM518.8 149.5h0.8v6.62h-0.8zM533.9 149.5h2.8v6.62h-2.8zM538.9 149.5h2.2v6.62h-2.2zM546.8 149.5h1.7v6.62h-1.7zM552.8 149.5h1v6.62h-1zM569.9 149.5h1.7v6.62h-1.7zM576.8 149.5h1v6.62h-1zM587 149.5h1.3v6.62h-1.3zM591.1 149.5h2.2v6.62h-2.2zM595.1 149.5h2.8v6.62h-2.8zM599.8 149.5h1.3v6.62h-1.3zM89.3 156.12h2.8v6.62h-2.8zM92.1 156.12h1.3v6.62h-1.3zM104 156.12h1.7v6.62h-1.7zM106.9 156.12h1.3v6.62h-1.3zM113.3 156.12h1.7v6.62h-1.7zM117.5 156.12h0.8v6.62h-0.8zM121.5 156.12h1v6.62h-1zM141.6 156.12h2.2v6.62h-2.2zM143.8 156.12h1.3v6.62h-1.3zM145.1 156.12h1v6.62h-1zM148.9 156.12h1v6.62h-1zM151.4 156.12h1.3v6.62h-1.3zM162 156.12h1.7v6.62h-1.7zM171.4 156.12h1v6.62h-1zM172.4 156.12h1.7v6.62h-1.7zM178.1 156.12h1.3v6.62h-1.3zM180.3 156.12h1.7v6.62h-1.7zM199.9 156.12h2.2v6.62h-2.2zM205.3 156.12h0.8v6.62h-0.8zM206.1 156.12h1.3v6.62h-1.3zM209.1 156.12h0.8v6.62h-0.8zM211.9 156.12h0.8v6.62h-0.8zM212.7 156.12h2.2v6.62h-2.2zM214.9 156.12h1v6.62h-1zM222.8 156.12h1.3v6.62h-1.3zM232.8 156.12h2.8v6.62h-2.8zM253.1 156.12h1.3v6.62h-1.3zM255.1 156.12h1v6.62h-1zM262.8 156.12h0.8v6.62h-0.8zM277.6 156.12h1v6.62h-1zM291.9 156.12h1.7v6.62h-1.7zM309.7 156.12h1v6.62h-1zM315.4 156.12h2.8v6.62h-2.8zM333 156.12h1.3v6.62h-1.3zM335.2 156.12h2.2v6.62h-2.2zM342.2 156.12h1.7v6.62h-1.7zM358.7 156.12h1.7v6.62h-1.7zM360.4 156.12h2.8v6.62h-2.8zM363.2 156.12h0.8v6.62h-0.8zM364.8 156.12h2.2v6.62h-2.2zM388.8 156.12h2.8v6.62h-2.8zM396.4 156.12h0.8v6.62h-0.8zM402 156.12h1.7v6.62h-1.7zM412.3 156.12h2.8v6.62h-2.8zM430.5 156.12h1v6.62h-1zM431.5 156.12h2.2v6.62h-2.2zM439.2 156.12h2.8v6.62h-2.8zM446 156.12h1v6.62h-1zM452 156.12h2.8v6.62h-2.8zM459.3 156.12h0.8v6.62h-0.8zM470 156.12h1v6.62h-1zM472.7 156.12h1v6.62h-1zM485.9 156.12h2.2v6.62h-2.2zM494.1 156.12h2.8v6.62h-2.8zM496.9 156.12h0.8v6.62h-0.8zM497.7 156.12h2.8v6.62h-2.8zM500.5 156.12h1v6.62h-1zM504.7 156.12h1.3v6.62h-1.3zM506.7 156.12h1v6.62h-1zM519.1 156.12h1.3v6.62h-1.3zM532 156.12h2.2v6.62h-2.2zM540.7 156.12h0.8v6.62h-0.8zM543.6 156.12h1.3v6.62h-1.3zM554.2 156.12h2.8v6.62h-2.8zM561 156.12h1v6.62h-1zM565.2 156.12h2.2v6.62h-2.2zM575.7 156.12h1.3v6.62h-1.3zM580.2 156.12h1v6.62h-1zM582.2 156.12h0.8v6.62h-0.8zM589.3 156.12h0.8v6.62h-0.8zM592.9 156.12h1.7v6.62h-1.7zM598.9 156.12h2.8v6.62h-2.8zM83.8 162.74h2.2v6.62h-2.2zM86 162.74h0.8v6.62h-0.8zM89.9 162.74h1.3v6.62h-1.3zM103.9 162.74h0.8v6.62h-0.8zM107.9 162.74h1.7v6.62h-1.7zM109.6 162.74h2.2v6.62h-2.2zM111.8 162.74h1.7v6.62h-1.7zM124.9 162.74h0.8v6.62h-0.8zM136.6 162.74h0.8v6.62h-0.8zM141.9 162.74h0.8v6.62h-0.8zM146.4 162.74h2.2v6.62h-2.2zM150.7 162.74h0.8v6.62h-0.8zM155.3 162.74h1.7v6.62h-1.7zM162.2 162.74h2.8v6.62h-2.8zM179.3 162.74h1.3v6.62h-1.3zM191.3 162.74h1.3v6.62h-1.3zM199.9 162.74h1v6.62h-1zM201.7 162.74h1v6.62h-1zM209.6 162.74h1.7v6.62h-1.7zM211.3 162.74h0.8v6.62h-0.8zM222.5 162.74h1.7v6.62h-1.7zM224.2 162.74h2.8v6.62h-2.8zM233.5 162.74h2.8v6.62h-2.8zM240.5 162.74h1v6.62h-1zM243.2 162.74h0.8v6.62h-0.8zM255.2 162.74h1v6.62h-1zM257 162.74h2.8v6.62h-2.8zM259.8 162.74h1.7v6.62h-1.7zM262.5 162.74h1.3v6.62h-1.3zM265.6 162.74h2.8v6.62h-2.8zM278.4 162.74h1.7v6.62h-1.7zM283.9 162.74h1v6.62h-1zM297.3 162.74h2.2v6.62h-2.2zM299.5 162.74h1.3v6.62h-1.3zM307.9 162.74h1.7v6.62h-1.7zM310.6 162.74h1v6.62h-1zM313.3 162.74h2.8v6.62h-2.8zM324.8 162.74h2.2v6.62h-2.2zM332.2 162.74h1.3v6.62h-1.3zM333.5 162.74h2.2v6.62h-2.2zM339.1 162.74h2.8v6.62h-2.8zM344.1 162.74h1v6.62h-1zM355.7 162.74h1.3v6.62h-1.3zM357 162.74h1v6.62h-1zM358 162.74h2.8v6.62h-2.8zM360.8 162.74h1v6.62h-1zM363.6 162.74h1.7v6.62h-1.7zM370.9 162.74h1.7v6.62h-1.7zM381.2 162.74h0.8v6.62h-0.8zM384 162.74h1.7v6.62h-1.7zM388.3 162.74h1.7v6.62h-1.7zM393.8 162.74h1v6.62h-1zM407.6 162.74h0.8v6.62h-0.8zM412.5 162.74h1v6.62h-1zM413.5 162.74h1.7v6.62h-1.7zM419.8 162.74h2.8v6.62h-2.8zM425.8 162.74h0.8v6.62h-0.8zM431.7 162.74h0.8v6.62h-0.8zM433.5 162.74h2.8v6.62h-2.8zM437.5 162.74h0.8v6.62h-0.8zM438.3 162.74h1v6.62h-1zM449.9 162.74h1v6.62h-1zM459.3 162.74h2.8v6.62h-2.8zM464.9 162.74h1.7v6.62h-1.7zM473.6 162.74h2.2v6.62h-2.2zM490.3 162.74h0.8v6.62h-0.8zM491.9 162.74h1v6.62h-1zM492.9 162.74h2.8v6.62h-2.8zM500.6 162.74h1.7v6.62h-1.7zM514.8 162.74h1.7v6.62h-1.7zM516.5 162.74h1v6.62h-1zM517.5 162.74h1.3v6.62h-1.3zM524.1 162.74h1.3v6.62h-1.3zM525.4 162.74h0.8v6.62h-0.8zM544 162.74h1.7v6.62h-1.7zM557.9 162.74h0.8v6.62h-0.8zM558.7 162.74h1.3v6.62h-1.3zM563 162.74h1.3v6.62h-1.3zM565.2 162.74h0.8v6.62h-0.8zM566 162.74h1.7v6.62h-1.7zM567.7 162.74h1.3v6.62h-1.3zM582.4 162.74h2.8v6.62h-2.8zM586.2 162.74h1v6.62h-1zM587.2 162.74h2.2v6.62h-2.2zM592.4 162.74h2.2v6.62h-2.2zM596.3 162.74h1.3v6.62h-1.3zM598.9 162.74h1.7v6.62h-1.7zM99.4 169.36h1v6.62h-1zM100.4 169.36h2.2v6.62h-2.2zM104.5 169.36h1v6.62h-1zM120.7 169.36h1.7v6.62h-1.7zM123.2 169.36h1.3v6.62h-1.3zM128 169.36h2.8v6.62h-2.8zM140.3 169.36h1v6.62h-1zM156 169.36h1.3v6.62h-1.3zM157.3 169.36h2.2v6.62h-2.2zM159.5 169.36h1.7v6.62h-1.7zM161.2 169.36h1.3v6.62h-1.3zM162.5 169.36h2.2v6.62h-2.2zM165.7 169.36h1.7v6.62h-1.7zM171.4 169.36h2.8v6.62h-2.8zM174.2 169.36h1v6.62h-1zM176.2 169.36h2.2v6.62h-2.2zM184.3 169.36h2.2v6.62h-2.2zM197.5 169.36h1v6.62h-1zM200.3 169.36h1.3v6.62h-1.3zM227.8 169.36h0.8v6.62h-0.8zM231.7 169.36h0.8v6.62h-0.8zM235.7 169.36h0.8v6.62h-0.8zM264.7 169.36h2.2v6.62h-2.2zM266.9 169.36h2.8v6.62h-2.8zM271.4 169.36h2.2v6.62h-2.2zM289 169.36h2.8v6.62h-2.8zM315.3 169.36h2.2v6.62h-2.2zM319.7 169.36h1.7v6.62h-1.7zM327 169.36h2.2v6.62h-2.2zM329.2 169.36h1.3v6.62h-1.3zM333 169.36h2.2v6.62h-2.2zM341.7 169.36h0.8v6.62h-0.8zM360.9 169.36h1v6.62h-1zM383.1 169.36h1.7v6.62h-1.7zM417.8 169.36h1v6.62h-1zM425.8 169.36h1v6.62h-1zM432.4 169.36h2.2v6.62h-2.2zM437.3 169.36h1.7v6.62h-1.7zM439 169.36h2.8v6.62h-2.8zM447.8 169.36h2.8v6.62h-2.8zM450.6 169.36h2.8v6.62h-2.8zM454.2 169.36h1.7v6.62h-1.7zM456.7 169.36h2.2v6.62h-2.2zM468.7 169.36h2.8v6.62h-2.8zM474 169.36h1.3v6.62h-1.3zM477.9 169.36h1.3v6.62h-1.3zM482.1 169.36h2.2v6.62h-2.2zM485.3 169.36h1.7v6.62h-1.7zM487 169.36h1.3v6.62h-1.3zM497 169.36h2.8v6.62h-2.8zM508 169.36h0.8v6.62h-0.8zM518.6 169.36h2.8v6.62h-2.8zM526.3 169.36h1v6.62h-1zM528.1 169.36h1v6.62h-1zM529.1 169.36h2.8v6.62h-2.8zM531.9 169.36h2.2v6.62h-2.2zM534.1 169.36h2.8v6.62h-2.8zM536.9 169.36h0.8v6.62h-0.8zM541.4 169.36h2.2v6.62h-2.2zM550.9 169.36h1v6.62h-1zM554.5 169.36h1v6.62h-1zM568 169.36h2.2v6.62h-2.2zM570.9 169.36h2.2v6.62h-2.2zM577.7 169.36h2.2v6.62h-2.2zM579.9 169.36h2.2v6.62h-2.2zM582.1 169.36h1.7v6.62h-1.7zM588.8 169.36h1.7v6.62h-1.7zM596.1 169.36h0.8v6.62h-0.8zM596.9 169.36h1.7v6.62h-1.7z"/><path fill="#a8cdee" d="M121.3 116.4h2.2v6.62h-2.2zM163.5 116.4h2.8v6.62h-2.8zM200.6 116.4h2.8v6.62h-2.8zM236 116.4h1.6v6.62h-1.6zM284.6 116.4h2.8v6.62h-2.8zM290.8 116.4h3.4v6.62h-3.4zM295.4 116.4h2.2v6.62h-2.2zM300.4 116.4h2.2v6.62h-2.2zM323.1 116.4h2.2v6.62h-2.2zM360.9 116.4h2.2v6.62h-2.2zM365.3 116.4h1.2v6.62h-1.2zM409.3 116.4h2.2v6.62h-2.2zM446.9 116.4h0.9v6.62h-0.9zM447.8 116.4h3.4v6.62h-3.4zM475.1 116.4h2.2v6.62h-2.2zM571.6 116.4h2.8v6.62h-2.8zM96.7 123.02h2.8v6.62h-2.8zM113.8 123.02h0.9v6.62h-0.9zM131.7 123.02h2.8v6.62h-2.8zM140.9 123.02h0.9v6.62h-0.9zM144.9 123.02h1.6v6.62h-1.6zM150.5 123.02h1.2v6.62h-1.2zM169.3 123.02h2.2v6.62h-2.2zM183.4 123.02h0.9v6.62h-0.9zM194.6 123.02h1.6v6.62h-1.6zM202.1 123.02h1.6v6.62h-1.6zM212.9 123.02h1.6v6.62h-1.6zM267.6 123.02h3.4v6.62h-3.4zM271 123.02h3.4v6.62h-3.4zM287.6 123.02h1.2v6.62h-1.2zM319.3 123.02h0.9v6.62h-0.9zM331.6 123.02h2.2v6.62h-2.2zM349.3 123.02h2.2v6.62h-2.2zM382.2 123.02h1.2v6.62h-1.2zM387.7 123.02h1.6v6.62h-1.6zM396.4 123.02h1.2v6.62h-1.2zM401 123.02h3.4v6.62h-3.4zM422.7 123.02h2.8v6.62h-2.8zM440.1 123.02h0.9v6.62h-0.9zM441 123.02h2.8v6.62h-2.8zM453.4 123.02h1.2v6.62h-1.2zM469.8 123.02h1.2v6.62h-1.2zM481.9 123.02h2.8v6.62h-2.8zM495.8 123.02h2.8v6.62h-2.8zM509.4 123.02h3.4v6.62h-3.4zM530.1 123.02h0.9v6.62h-0.9zM538.8 123.02h1.6v6.62h-1.6zM583.6 123.02h3.4v6.62h-3.4zM592.6 123.02h2.8v6.62h-2.8zM134.7 129.64h1.6v6.62h-1.6zM145.3 129.64h2.8v6.62h-2.8zM164.9 129.64h0.9v6.62h-0.9zM200.7 129.64h2.2v6.62h-2.2zM209.1 129.64h0.9v6.62h-0.9zM220.9 129.64h1.6v6.62h-1.6zM227.5 129.64h0.9v6.62h-0.9zM263.2 129.64h0.9v6.62h-0.9zM294 129.64h1.6v6.62h-1.6zM306.8 129.64h2.2v6.62h-2.2zM316.8 129.64h0.9v6.62h-0.9zM336.2 129.64h0.9v6.62h-0.9zM346 129.64h1.2v6.62h-1.2zM416.7 129.64h2.8v6.62h-2.8zM438.3 129.64h1.2v6.62h-1.2zM490.6 129.64h1.6v6.62h-1.6zM495.6 129.64h3.4v6.62h-3.4zM528.3 129.64h1.6v6.62h-1.6zM552.6 129.64h1.2v6.62h-1.2zM573.2 129.64h3.4v6.62h-3.4zM582.5 129.64h2.8v6.62h-2.8zM83.3 136.26h1.2v6.62h-1.2zM100.6 136.26h1.2v6.62h-1.2zM114.2 136.26h1v6.62h-1zM118 136.26h0.8v6.62h-0.8zM129.6 136.26h1.2v6.62h-1.2zM136.4 136.26h0.8v6.62h-0.8zM138 136.26h1.2v6.62h-1.2zM140 136.26h1v6.62h-1zM148.5 136.26h0.7v6.62h-0.7zM154.7 136.26h0.7v6.62h-0.7zM155.4 136.26h1.2v6.62h-1.2zM156.6 136.26h1v6.62h-1zM168 136.26h1.2v6.62h-1.2zM171.4 136.26h1.2v6.62h-1.2zM194.9 136.26h0.8v6.62h-0.8zM221.7 136.26h1v6.62h-1zM236.5 136.26h0.9v6.62h-0.9zM243 136.26h1v6.62h-1zM279.6 136.26h0.7v6.62h-0.7zM307.9 136.26h0.8v6.62h-0.8zM319.6 136.26h1.2v6.62h-1.2zM322.5 136.26h0.7v6.62h-0.7zM342.8 136.26h1v6.62h-1zM354.2 136.26h0.8v6.62h-0.8zM370.7 136.26h0.8v6.62h-0.8zM371.5 136.26h1v6.62h-1zM375.5 136.26h0.7v6.62h-0.7zM378.4 136.26h0.9v6.62h-0.9zM390.7 136.26h1v6.62h-1zM408.9 136.26h1.2v6.62h-1.2zM421.7 136.26h1v6.62h-1zM434.4 136.26h1.2v6.62h-1.2zM446.3 136.26h0.7v6.62h-0.7zM459.8 136.26h1v6.62h-1zM460.8 136.26h0.7v6.62h-0.7zM477 136.26h1.2v6.62h-1.2zM508.1 136.26h1v6.62h-1zM513.4 136.26h1v6.62h-1zM549.7 136.26h0.8v6.62h-0.8zM558.8 136.26h0.8v6.62h-0.8zM564.9 136.26h0.7v6.62h-0.7zM570.8 136.26h0.7v6.62h-0.7zM579.4 136.26h1.2v6.62h-1.2zM600.6 136.26h1.2v6.62h-1.2zM90.8 142.88h1v6.62h-1zM91.8 142.88h1.2v6.62h-1.2zM105.3 142.88h0.7v6.62h-0.7zM112.1 142.88h0.7v6.62h-0.7zM120.7 142.88h0.7v6.62h-0.7zM126.9 142.88h0.9v6.62h-0.9zM132.7 142.88h0.8v6.62h-0.8zM177.1 142.88h0.7v6.62h-0.7zM192 142.88h1.2v6.62h-1.2zM193.2 142.88h0.8v6.62h-0.8zM222.2 142.88h1.2v6.62h-1.2zM226.1 142.88h0.9v6.62h-0.9zM229 142.88h0.8v6.62h-0.8zM233.4 142.88h0.9v6.62h-0.9zM239.8 142.88h0.9v6.62h-0.9zM240.7 142.88h0.7v6.62h-0.7zM286.2 142.88h0.7v6.62h-0.7zM291.4 142.88h0.7v6.62h-0.7zM299.6 142.88h0.8v6.62h-0.8zM301.7 142.88h0.8v6.62h-0.8zM309.5 142.88h0.7v6.62h-0.7zM328 142.88h0.8v6.62h-0.8zM328.8 142.88h1.2v6.62h-1.2zM330 142.88h0.9v6.62h-0.9zM334.1 142.88h0.7v6.62h-0.7zM334.8 142.88h1.2v6.62h-1.2zM336 142.88h0.8v6.62h-0.8zM350.3 142.88h0.8v6.62h-0.8zM354.8 142.88h0.7v6.62h-0.7zM380.1 142.88h1.2v6.62h-1.2zM382.6 142.88h0.8v6.62h-0.8zM385.1 142.88h1.2v6.62h-1.2zM393 142.88h0.8v6.62h-0.8zM399.2 142.88h1.2v6.62h-1.2zM411.6 142.88h1.2v6.62h-1.2zM433.1 142.88h0.8v6.62h-0.8zM434.6 142.88h0.9v6.62h-0.9zM436.5 142.88h0.9v6.62h-0.9zM438.2 142.88h1.2v6.62h-1.2zM443.9 142.88h1.2v6.62h-1.2zM454.1 142.88h1.2v6.62h-1.2zM458.4 142.88h1v6.62h-1zM459.4 142.88h0.9v6.62h-0.9zM461 142.88h0.8v6.62h-0.8zM487.2 142.88h1.2v6.62h-1.2zM490.7 142.88h0.8v6.62h-0.8zM491.5 142.88h0.9v6.62h-0.9zM519.9 142.88h0.9v6.62h-0.9zM521.5 142.88h1v6.62h-1zM525.5 142.88h0.7v6.62h-0.7zM539 142.88h1v6.62h-1zM541.7 142.88h1.2v6.62h-1.2zM542.9 142.88h1v6.62h-1zM570.6 142.88h0.8v6.62h-0.8zM581.6 142.88h1.2v6.62h-1.2zM595.3 142.88h0.9v6.62h-0.9zM83.2 149.5h1.2v6.62h-1.2zM84.4 149.5h1v6.62h-1zM87.1 149.5h0.9v6.62h-0.9zM98.1 149.5h1v6.62h-1zM108.8 149.5h0.9v6.62h-0.9zM112.9 149.5h0.7v6.62h-0.7zM114.4 149.5h0.9v6.62h-0.9zM135.8 149.5h0.7v6.62h-0.7zM138.2 149.5h1.2v6.62h-1.2zM142.5 149.5h0.8v6.62h-0.8zM160.1 149.5h0.7v6.62h-0.7zM162.9 149.5h0.8v6.62h-0.8zM170 149.5h1.2v6.62h-1.2zM171.2 149.5h1v6.62h-1zM211.5 149.5h1v6.62h-1zM224.7 149.5h1v6.62h-1zM235 149.5h0.8v6.62h-0.8zM235.8 149.5h0.7v6.62h-0.7zM247.1 149.5h0.9v6.62h-0.9zM256.5 149.5h0.8v6.62h-0.8zM268 149.5h1.2v6.62h-1.2zM285.7 149.5h0.9v6.62h-0.9zM296.2 149.5h0.9v6.62h-0.9zM307.3 149.5h1v6.62h-1zM328.6 149.5h0.8v6.62h-0.8zM344.2 149.5h1v6.62h-1zM350.5 149.5h1v6.62h-1zM371.9 149.5h0.9v6.62h-0.9zM381 149.5h0.9v6.62h-0.9zM384.7 149.5h0.9v6.62h-0.9zM390.3 149.5h0.7v6.62h-0.7zM396.2 149.5h1v6.62h-1zM424.3 149.5h0.9v6.62h-0.9zM520.8 149.5h0.9v6.62h-0.9zM522.7 149.5h1v6.62h-1zM523.7 149.5h0.7v6.62h-0.7zM524.4 149.5h0.8v6.62h-0.8zM549.7 149.5h0.9v6.62h-0.9zM575.1 149.5h0.8v6.62h-0.8zM575.9 149.5h0.9v6.62h-0.9zM577.8 149.5h1v6.62h-1zM585.2 149.5h1v6.62h-1zM593.3 149.5h1v6.62h-1zM597.9 149.5h0.9v6.62h-0.9zM84.5 156.12h0.9v6.62h-0.9zM86.4 156.12h1v6.62h-1zM97.5 156.12h0.7v6.62h-0.7zM105.7 156.12h1.2v6.62h-1.2zM110.2 156.12h1v6.62h-1zM115.8 156.12h0.9v6.62h-0.9zM131.6 156.12h0.8v6.62h-0.8zM140.7 156.12h0.9v6.62h-0.9zM147.3 156.12h0.7v6.62h-0.7zM150.7 156.12h0.7v6.62h-0.7zM165.7 156.12h1v6.62h-1zM167.7 156.12h0.8v6.62h-0.8zM174.1 156.12h1.2v6.62h-1.2zM192.9 156.12h1v6.62h-1zM207.4 156.12h0.9v6.62h-0.9zM209.9 156.12h1v6.62h-1zM238.8 156.12h0.8v6.62h-0.8zM244.2 156.12h0.7v6.62h-0.7zM249.3 156.12h0.7v6.62h-0.7zM263.6 156.12h0.8v6.62h-0.8zM266.6 156.12h0.7v6.62h-0.7zM276.7 156.12h0.9v6.62h-0.9zM283.5 156.12h0.8v6.62h-0.8zM285.3 156.12h1v6.62h-1zM320.3 156.12h1.2v6.62h-1.2zM325 156.12h0.9v6.62h-0.9zM330.7 156.12h1v6.62h-1zM346.9 156.12h1.2v6.62h-1.2zM374.6 156.12h1v6.62h-1zM380.1 156.12h1.2v6.62h-1.2zM387.6 156.12h1.2v6.62h-1.2zM391.6 156.12h0.8v6.62h-0.8zM429.5 156.12h1v6.62h-1zM437.5 156.12h0.7v6.62h-0.7zM460.1 156.12h1.2v6.62h-1.2zM464.1 156.12h0.8v6.62h-0.8zM489.8 156.12h0.9v6.62h-0.9zM506 156.12h0.7v6.62h-0.7zM507.7 156.12h1v6.62h-1zM510.4 156.12h1v6.62h-1zM511.4 156.12h1v6.62h-1zM512.4 156.12h0.7v6.62h-0.7zM520.4 156.12h0.7v6.62h-0.7zM521.1 156.12h1.2v6.62h-1.2zM542.8 156.12h0.8v6.62h-0.8zM570.6 156.12h1.2v6.62h-1.2zM579.2 156.12h1v6.62h-1zM82.8 162.74h1v6.62h-1zM93.4 162.74h0.9v6.62h-0.9zM97.7 162.74h1v6.62h-1zM126.9 162.74h1v6.62h-1zM129.6 162.74h0.7v6.62h-0.7zM130.3 162.74h1.2v6.62h-1.2zM131.5 162.74h0.8v6.62h-0.8zM140.1 162.74h0.8v6.62h-0.8zM140.9 162.74h1v6.62h-1zM165 162.74h0.9v6.62h-0.9zM165.9 162.74h1v6.62h-1zM168.6 162.74h1v6.62h-1zM180.6 162.74h1v6.62h-1zM199.1 162.74h0.8v6.62h-0.8zM206.8 162.74h0.8v6.62h-0.8zM208.6 162.74h1v6.62h-1zM212.8 162.74h0.9v6.62h-0.9zM220.9 162.74h0.8v6.62h-0.8zM228.3 162.74h0.9v6.62h-0.9zM229.2 162.74h0.8v6.62h-0.8zM261.5 162.74h1v6.62h-1zM273.8 162.74h0.9v6.62h-0.9zM275.5 162.74h1.2v6.62h-1.2zM281.8 162.74h0.9v6.62h-0.9zM287.1 162.74h1v6.62h-1zM290.1 162.74h0.7v6.62h-0.7zM302.1 162.74h0.7v6.62h-0.7zM309.6 162.74h1v6.62h-1zM345.1 162.74h0.9v6.62h-0.9zM361.8 162.74h0.8v6.62h-0.8zM369.7 162.74h1.2v6.62h-1.2zM387.4 162.74h0.9v6.62h-0.9zM390 162.74h0.9v6.62h-0.9zM391.9 162.74h0.7v6.62h-0.7zM436.3 162.74h1.2v6.62h-1.2zM439.3 162.74h0.7v6.62h-0.7zM483.4 162.74h1.2v6.62h-1.2zM489.3 162.74h1v6.62h-1zM514 162.74h0.8v6.62h-0.8zM519.6 162.74h0.8v6.62h-0.8zM534.6 162.74h1v6.62h-1zM555.4 162.74h1.2v6.62h-1.2zM576.2 162.74h0.9v6.62h-0.9zM579.9 162.74h0.7v6.62h-0.7zM580.6 162.74h0.8v6.62h-0.8zM600.6 162.74h0.8v6.62h-0.8zM119.7 169.36h1v6.62h-1zM132.8 169.36h0.9v6.62h-0.9zM133.7 169.36h1v6.62h-1zM169.4 169.36h1v6.62h-1zM183.4 169.36h0.9v6.62h-0.9zM193.2 169.36h0.9v6.62h-0.9zM196.6 169.36h0.9v6.62h-0.9zM206 169.36h0.7v6.62h-0.7zM228.6 169.36h0.9v6.62h-0.9zM248.3 169.36h0.7v6.62h-0.7zM277.8 169.36h0.9v6.62h-0.9zM291.8 169.36h0.9v6.62h-0.9zM335.2 169.36h0.8v6.62h-0.8zM353.1 169.36h1.2v6.62h-1.2zM358.3 169.36h1v6.62h-1zM360.1 169.36h0.8v6.62h-0.8zM371 169.36h0.9v6.62h-0.9zM373.8 169.36h1v6.62h-1zM393.3 169.36h0.9v6.62h-0.9zM394.2 169.36h0.7v6.62h-0.7zM400.1 169.36h0.8v6.62h-0.8zM406.6 169.36h0.9v6.62h-0.9zM410.9 169.36h0.9v6.62h-0.9zM414.6 169.36h0.7v6.62h-0.7zM419.8 169.36h0.8v6.62h-0.8zM430.2 169.36h1.2v6.62h-1.2zM434.6 169.36h0.7v6.62h-0.7zM461.6 169.36h1.2v6.62h-1.2zM463.7 169.36h0.9v6.62h-0.9zM464.6 169.36h1v6.62h-1zM467.8 169.36h0.9v6.62h-0.9zM477 169.36h0.9v6.62h-0.9zM479.2 169.36h0.7v6.62h-0.7zM484.3 169.36h1v6.62h-1zM496.2 169.36h0.8v6.62h-0.8zM516.9 169.36h0.9v6.62h-0.9zM527.3 169.36h0.8v6.62h-0.8zM540.5 169.36h0.9v6.62h-0.9zM552.9 169.36h0.8v6.62h-0.8zM555.5 169.36h0.8v6.62h-0.8zM558.9 169.36h0.7v6.62h-0.7z"/><path fill="#f08080" d="M149.3 116.4h0.9v6.62h-0.9zM276.2 116.4h0.9v6.62h-0.9zM465.8 116.4h0.9v6.62h-0.9zM157.3 123.02h0.9v6.62h-0.9zM320.2 123.02h0.9v6.62h-0.9zM569.9 123.02h0.9v6.62h-0.9zM572.7 123.02h0.9v6.62h-0.9zM159.9 129.64h0.9v6.62h-0.9zM265.7 129.64h0.9v6.62h-0.9zM325.4 129.64h0.9v6.62h-0.9zM422.9 129.64h0.9v6.62h-0.9zM280.3 136.26h0.9v6.62h-0.9zM455.9 136.26h0.9v6.62h-0.9zM557.2 136.26h0.9v6.62h-0.9zM357.7 142.88h0.9v6.62h-0.9zM491.5 142.88h0.9v6.62h-0.9zM562.1 142.88h0.9v6.62h-0.9zM149.9 149.5h0.9v6.62h-0.9zM273.9 149.5h0.9v6.62h-0.9zM337.5 149.5h0.9v6.62h-0.9zM417 149.5h0.9v6.62h-0.9zM544.6 149.5h0.9v6.62h-0.9zM214.9 156.12h0.9v6.62h-0.9zM238.8 156.12h0.9v6.62h-0.9zM472 156.12h0.9v6.62h-0.9zM526.8 156.12h0.9v6.62h-0.9zM553.3 156.12h0.9v6.62h-0.9zM88.9 162.74h0.9v6.62h-0.9zM179.3 162.74h0.9v6.62h-0.9zM253.2 162.74h0.9v6.62h-0.9zM333.5 162.74h0.9v6.62h-0.9zM523.3 162.74h0.9v6.62h-0.9zM547.5 162.74h0.9v6.62h-0.9zM590.6 162.74h0.9v6.62h-0.9zM90.2 169.36h0.9v6.62h-0.9zM161.2 169.36h0.9v6.62h-0.9zM180.6 169.36h0.9v6.62h-0.9zM445.6 169.36h0.9v6.62h-0.9zM471.5 169.36h0.9v6.62h-0.9z"/><path fill="#7a60b0" d="M191.4 136.26h2.2v6.62h-2.2zM261.9 136.26h2.8v6.62h-2.8zM355 136.26h1v6.62h-1zM391.7 136.26h1.3v6.62h-1.3zM446.3 136.26h0.7v6.62h-0.7zM467.7 136.26h2.2v6.62h-2.2zM504.2 136.26h1.7v6.62h-1.7zM549.7 136.26h0.8v6.62h-0.8zM597.2 136.26h1.7v6.62h-1.7zM598.9 136.26h1.7v6.62h-1.7zM127.8 142.88h1.7v6.62h-1.7zM182.2 142.88h0.8v6.62h-0.8zM205 142.88h2.8v6.62h-2.8zM262.8 142.88h1.3v6.62h-1.3zM334.8 142.88h1.2v6.62h-1.2zM350.3 142.88h0.8v6.62h-0.8zM408.7 142.88h0.7v6.62h-0.7zM432.1 142.88h1v6.62h-1zM509.1 142.88h0.7v6.62h-0.7zM509.8 142.88h1v6.62h-1zM584 142.88h2.8v6.62h-2.8zM111.9 149.5h1v6.62h-1zM159.4 149.5h0.7v6.62h-0.7zM201.1 149.5h1.3v6.62h-1.3zM257.3 149.5h1.7v6.62h-1.7zM277.3 149.5h1.2v6.62h-1.2zM414.3 149.5h1.7v6.62h-1.7zM498.4 149.5h1v6.62h-1zM522.7 149.5h1v6.62h-1zM586.2 149.5h0.8v6.62h-0.8zM159.1 156.12h0.7v6.62h-0.7zM185.2 156.12h0.8v6.62h-0.8zM211.9 156.12h0.8v6.62h-0.8zM313.2 156.12h2.2v6.62h-2.2zM449.8 156.12h0.8v6.62h-0.8zM484.2 156.12h1.7v6.62h-1.7zM82.8 162.74h1v6.62h-1zM144.8 162.74h0.8v6.62h-0.8zM162.2 162.74h2.8v6.62h-2.8zM247.7 162.74h1.7v6.62h-1.7zM254.2 162.74h1v6.62h-1zM299.5 162.74h1.3v6.62h-1.3zM357 162.74h1v6.62h-1zM399 162.74h2.2v6.62h-2.2zM401.2 162.74h2.2v6.62h-2.2zM444.8 162.74h1.3v6.62h-1.3zM520.4 162.74h1.3v6.62h-1.3zM521.7 162.74h0.8v6.62h-0.8zM560.7 162.74h1v6.62h-1zM409.2 169.36h1.7v6.62h-1.7zM423.6 169.36h2.2v6.62h-2.2zM601.8 169.36h0.7v6.62h-0.7z"/><path fill="#7656ad" d="M81.5 119.38h2.8v2.98h-2.8zM85.3 119.38h2.8v2.98h-2.8zM91.3 119.38h0.9v2.98h-0.9zM92.7 119.38h2.2v2.98h-2.2zM97.8 119.38h1.6v2.98h-1.6zM104.8 119.38h1.2v2.98h-1.2zM107.7 119.38h1.2v2.98h-1.2zM114.4 119.38h2.2v2.98h-2.2zM117.6 119.38h2.2v2.98h-2.2zM120.3 119.38h1.6v2.98h-1.6zM122.9 119.38h2.8v2.98h-2.8zM126.7 119.38h0.9v2.98h-0.9zM131.3 119.38h2.2v2.98h-2.2zM134 119.38h0.9v2.98h-0.9zM140.3 119.38h2.2v2.98h-2.2zM142.5 119.38h2.2v2.98h-2.2zM150.9 119.38h1.6v2.98h-1.6zM153.5 119.38h2.2v2.98h-2.2zM156.7 119.38h1.6v2.98h-1.6zM158.3 119.38h1.2v2.98h-1.2zM160.5 119.38h1.2v2.98h-1.2zM168.1 119.38h0.9v2.98h-0.9zM170.5 119.38h0.9v2.98h-0.9zM172.4 119.38h1.6v2.98h-1.6zM175.5 119.38h1.2v2.98h-1.2zM176.7 119.38h2.2v2.98h-2.2zM181.1 119.38h2.2v2.98h-2.2zM184.8 119.38h1.6v2.98h-1.6zM187.9 119.38h1.6v2.98h-1.6zM190 119.38h2.8v2.98h-2.8zM194.3 119.38h1.6v2.98h-1.6zM196.9 119.38h2.2v2.98h-2.2zM199.6 119.38h0.9v2.98h-0.9zM203.7 119.38h0.9v2.98h-0.9zM211.3 119.38h1.6v2.98h-1.6zM213.9 119.38h2.2v2.98h-2.2zM218.7 119.38h2.2v2.98h-2.2zM227.6 119.38h1.6v2.98h-1.6zM230.2 119.38h2.2v2.98h-2.2zM236.1 119.38h2.8v2.98h-2.8zM250.5 119.38h0.9v2.98h-0.9zM264.1 119.38h1.2v2.98h-1.2zM266.8 119.38h2.2v2.98h-2.2zM269 119.38h2.8v2.98h-2.8zM272.8 119.38h0.9v2.98h-0.9zM277.9 119.38h0.9v2.98h-0.9zM279.8 119.38h0.9v2.98h-0.9zM281.7 119.38h2.8v2.98h-2.8zM285.5 119.38h1.2v2.98h-1.2zM287.7 119.38h2.2v2.98h-2.2zM291.4 119.38h2.8v2.98h-2.8zM296.9 119.38h0.9v2.98h-0.9zM305.2 119.38h2.2v2.98h-2.2zM307.9 119.38h2.2v2.98h-2.2zM314.3 119.38h2.8v2.98h-2.8zM318.1 119.38h2.2v2.98h-2.2zM325.6 119.38h2.2v2.98h-2.2zM329.3 119.38h1.2v2.98h-1.2zM331 119.38h2.2v2.98h-2.2zM335.4 119.38h1.2v2.98h-1.2zM337.1 119.38h1.6v2.98h-1.6zM344.9 119.38h1.6v2.98h-1.6zM347.5 119.38h2.8v2.98h-2.8zM350.3 119.38h2.2v2.98h-2.2zM353 119.38h0.9v2.98h-0.9zM356.8 119.38h0.9v2.98h-0.9zM359.2 119.38h2.8v2.98h-2.8zM363.5 119.38h2.2v2.98h-2.2zM366.2 119.38h1.6v2.98h-1.6zM370.9 119.38h2.8v2.98h-2.8zM375.2 119.38h1.6v2.98h-1.6zM382.1 119.38h2.8v2.98h-2.8zM398.4 119.38h1.2v2.98h-1.2zM402.3 119.38h2.8v2.98h-2.8zM408.3 119.38h0.9v2.98h-0.9zM411.9 119.38h0.9v2.98h-0.9zM413.8 119.38h2.8v2.98h-2.8zM419.7 119.38h1.6v2.98h-1.6zM422.3 119.38h2.8v2.98h-2.8zM425.6 119.38h1.6v2.98h-1.6zM433.6 119.38h1.6v2.98h-1.6zM436.7 119.38h1.2v2.98h-1.2zM437.9 119.38h1.6v2.98h-1.6zM441.9 119.38h1.2v2.98h-1.2zM446.8 119.38h2.8v2.98h-2.8zM457.4 119.38h2.8v2.98h-2.8zM460.7 119.38h1.6v2.98h-1.6zM463.3 119.38h2.2v2.98h-2.2zM469.6 119.38h1.6v2.98h-1.6zM471.7 119.38h1.2v2.98h-1.2zM472.9 119.38h0.9v2.98h-0.9zM474.3 119.38h1.2v2.98h-1.2zM477 119.38h1.6v2.98h-1.6zM483.2 119.38h1.6v2.98h-1.6zM484.8 119.38h1.2v2.98h-1.2zM486.5 119.38h0.9v2.98h-0.9zM488.9 119.38h2.2v2.98h-2.2zM492.1 119.38h0.9v2.98h-0.9zM498.3 119.38h1.6v2.98h-1.6zM502.3 119.38h1.2v2.98h-1.2zM504.5 119.38h1.6v2.98h-1.6zM506.6 119.38h1.2v2.98h-1.2zM507.8 119.38h2.8v2.98h-2.8zM510.6 119.38h2.8v2.98h-2.8zM514.4 119.38h1.6v2.98h-1.6zM517 119.38h1.6v2.98h-1.6zM524.5 119.38h1.6v2.98h-1.6zM529.8 119.38h1.2v2.98h-1.2zM533.4 119.38h2.2v2.98h-2.2zM538 119.38h2.2v2.98h-2.2zM540.2 119.38h0.9v2.98h-0.9zM542.6 119.38h2.2v2.98h-2.2zM548.9 119.38h1.2v2.98h-1.2zM555 119.38h2.8v2.98h-2.8zM558.3 119.38h2.8v2.98h-2.8zM562.1 119.38h2.2v2.98h-2.2zM570.7 119.38h2.8v2.98h-2.8zM574.5 119.38h2.2v2.98h-2.2zM577.7 119.38h2.2v2.98h-2.2zM580.4 119.38h2.8v2.98h-2.8zM585.1 119.38h1.6v2.98h-1.6zM594.4 119.38h2.8v2.98h-2.8zM598.2 119.38h1.2v2.98h-1.2zM83.9 126h2.8v2.98h-2.8zM86.7 126h1.6v2.98h-1.6zM92.5 126h0.9v2.98h-0.9zM93.4 126h0.9v2.98h-0.9zM97.4 126h2.8v2.98h-2.8zM103.9 126h1.6v2.98h-1.6zM106 126h0.9v2.98h-0.9zM110.1 126h2.2v2.98h-2.2zM127 126h2.8v2.98h-2.8zM133 126h0.9v2.98h-0.9zM150.7 126h1.6v2.98h-1.6zM164.2 126h2.2v2.98h-2.2zM177.2 126h2.8v2.98h-2.8zM183.1 126h2.8v2.98h-2.8zM186.9 126h0.9v2.98h-0.9zM196.8 126h0.9v2.98h-0.9zM208.4 126h2.2v2.98h-2.2zM221.1 126h2.8v2.98h-2.8zM228.5 126h2.2v2.98h-2.2zM242.6 126h0.9v2.98h-0.9zM244 126h2.2v2.98h-2.2zM247.8 126h2.2v2.98h-2.2zM250 126h1.6v2.98h-1.6zM260.1 126h0.9v2.98h-0.9zM261.5 126h0.9v2.98h-0.9zM269.5 126h1.6v2.98h-1.6zM271.1 126h1.2v2.98h-1.2zM277.2 126h2.2v2.98h-2.2zM288.5 126h0.9v2.98h-0.9zM297.8 126h2.8v2.98h-2.8zM310.2 126h0.9v2.98h-0.9zM319.1 126h0.9v2.98h-0.9zM325.2 126h2.8v2.98h-2.8zM335.2 126h2.8v2.98h-2.8zM345 126h1.2v2.98h-1.2zM352.8 126h1.6v2.98h-1.6zM357.1 126h1.6v2.98h-1.6zM360.2 126h1.2v2.98h-1.2zM362.9 126h1.6v2.98h-1.6zM373.8 126h2.2v2.98h-2.2zM377 126h2.8v2.98h-2.8zM380.3 126h2.2v2.98h-2.2zM385.1 126h1.2v2.98h-1.2zM386.3 126h1.6v2.98h-1.6zM395.8 126h2.8v2.98h-2.8zM398.6 126h2.8v2.98h-2.8zM402.9 126h1.2v2.98h-1.2zM404.1 126h0.9v2.98h-0.9zM405.5 126h2.2v2.98h-2.2zM408.2 126h1.6v2.98h-1.6zM414.6 126h2.2v2.98h-2.2zM429.2 126h2.2v2.98h-2.2zM434.7 126h2.8v2.98h-2.8zM438.5 126h2.2v2.98h-2.2zM445.9 126h0.9v2.98h-0.9zM452 126h0.9v2.98h-0.9zM460.9 126h2.2v2.98h-2.2zM464.6 126h0.9v2.98h-0.9zM473.1 126h0.9v2.98h-0.9zM477.1 126h1.6v2.98h-1.6zM493.3 126h2.2v2.98h-2.2zM503.2 126h1.2v2.98h-1.2zM517.4 126h2.8v2.98h-2.8zM523.9 126h1.6v2.98h-1.6zM525.5 126h1.2v2.98h-1.2zM527.7 126h2.8v2.98h-2.8zM531.4 126h1.6v2.98h-1.6zM534 126h2.8v2.98h-2.8zM547.4 126h0.9v2.98h-0.9zM548.3 126h1.2v2.98h-1.2zM553.8 126h2.2v2.98h-2.2zM564.4 126h2.2v2.98h-2.2zM570.4 126h2.2v2.98h-2.2zM577.9 126h0.9v2.98h-0.9zM588.5 126h1.6v2.98h-1.6zM597.4 126h1.2v2.98h-1.2zM598.6 126h2.2v2.98h-2.2zM124.1 132.62h1.6v2.98h-1.6zM171.4 132.62h0.9v2.98h-0.9zM205.7 132.62h1.2v2.98h-1.2zM251.5 132.62h2.8v2.98h-2.8zM259.3 132.62h2.2v2.98h-2.2zM262.5 132.62h2.2v2.98h-2.2zM270.6 132.62h1.6v2.98h-1.6zM286.2 132.62h2.2v2.98h-2.2zM296.5 132.62h1.2v2.98h-1.2zM298.2 132.62h1.6v2.98h-1.6zM315.6 132.62h2.8v2.98h-2.8zM324.9 132.62h1.6v2.98h-1.6zM330.1 132.62h2.2v2.98h-2.2zM357.4 132.62h0.9v2.98h-0.9zM358.3 132.62h1.2v2.98h-1.2zM412.7 132.62h1.6v2.98h-1.6zM419.2 132.62h1.6v2.98h-1.6zM456.6 132.62h2.8v2.98h-2.8zM490.6 132.62h1.2v2.98h-1.2zM495.5 132.62h1.2v2.98h-1.2zM528.4 132.62h1.6v2.98h-1.6zM537.2 132.62h1.6v2.98h-1.6zM539.8 132.62h0.9v2.98h-0.9zM549.9 132.62h2.2v2.98h-2.2zM555.9 132.62h0.9v2.98h-0.9zM563.7 132.62h1.6v2.98h-1.6zM566.8 132.62h2.8v2.98h-2.8zM599.8 132.62h1.6v2.98h-1.6zM602.4 132.62h0.1v2.98h-0.1z"/><path d="M90.46 116.4L95.14 116.4L94.14 175.98L89.46 175.98Z" fill="#f08a8a"/><path d="M90.96 116.4L94.64 116.4L93.64 175.98L89.96 175.98Z" fill="#ef3434"/><path d="M115.29 116.4L119.41 116.4L118.41 175.98L114.29 175.98Z" fill="#f08a8a"/><path d="M115.79 116.4L118.91 116.4L117.91 175.98L114.79 175.98Z" fill="#ef3434"/><path d="M125.48 116.4L127.12 116.4L126.12 175.98L124.48 175.98Z" fill="#f08a8a"/><path d="M125.98 116.4L126.62 116.4L125.62 175.98L124.98 175.98Z" fill="#ef3434"/><path d="M165.28 116.4L169.32 116.4L168.32 175.98L164.28 175.98Z" fill="#f08a8a"/><path d="M165.78 116.4L168.82 116.4L167.82 175.98L164.78 175.98Z" fill="#ef3434"/><path d="M176.49 116.4L178.21 116.4L177.21 175.98L175.49 175.98Z" fill="#f08a8a"/><path d="M176.99 116.4L177.71 116.4L176.71 175.98L175.99 175.98Z" fill="#ef3434"/><path d="M191.97 116.4L193.53 116.4L192.53 175.98L190.97 175.98Z" fill="#f08a8a"/><path d="M192.47 116.4L193.03 116.4L192.03 175.98L191.47 175.98Z" fill="#ef3434"/><path d="M196.32 116.4L199.08 116.4L198.08 175.98L195.32 175.98Z" fill="#f08a8a"/><path d="M196.82 116.4L198.58 116.4L197.58 175.98L195.82 175.98Z" fill="#ef3434"/><path d="M223.26 116.4L227.14 116.4L226.14 175.98L222.26 175.98Z" fill="#f08a8a"/><path d="M223.76 116.4L226.64 116.4L225.64 175.98L222.76 175.98Z" fill="#ef3434"/><path d="M253.54 116.4L256.46 116.4L255.46 175.98L252.54 175.98Z" fill="#f08a8a"/><path d="M254.04 116.4L255.96 116.4L254.96 175.98L253.04 175.98Z" fill="#ef3434"/><path d="M269.71 116.4L271.59 116.4L270.59 175.98L268.71 175.98Z" fill="#f08a8a"/><path d="M270.21 116.4L271.09 116.4L270.09 175.98L269.21 175.98Z" fill="#ef3434"/><path d="M303.8 116.4L305.6 116.4L304.6 175.98L302.8 175.98Z" fill="#f08a8a"/><path d="M304.3 116.4L305.1 116.4L304.1 175.98L303.3 175.98Z" fill="#ef3434"/><path d="M331.05 116.4L333.25 116.4L332.25 175.98L330.05 175.98Z" fill="#f08a8a"/><path d="M331.55 116.4L332.75 116.4L331.75 175.98L330.55 175.98Z" fill="#ef3434"/><path d="M350.48 116.4L352.92 116.4L351.92 175.98L349.48 175.98Z" fill="#f08a8a"/><path d="M350.98 116.4L352.42 116.4L351.42 175.98L349.98 175.98Z" fill="#ef3434"/><path d="M412.42 116.4L414.38 116.4L413.38 175.98L411.42 175.98Z" fill="#f08a8a"/><path d="M412.92 116.4L413.88 116.4L412.88 175.98L411.92 175.98Z" fill="#ef3434"/><path d="M423.46 116.4L425.74 116.4L424.74 175.98L422.46 175.98Z" fill="#f08a8a"/><path d="M423.96 116.4L425.24 116.4L424.24 175.98L422.96 175.98Z" fill="#ef3434"/><path d="M465.46 116.4L467.74 116.4L466.74 175.98L464.46 175.98Z" fill="#f08a8a"/><path d="M465.96 116.4L467.24 116.4L466.24 175.98L464.96 175.98Z" fill="#ef3434"/><path d="M477.34 116.4L480.26 116.4L479.26 175.98L476.34 175.98Z" fill="#f08a8a"/><path d="M477.84 116.4L479.76 116.4L478.76 175.98L476.84 175.98Z" fill="#ef3434"/><path d="M501.5 116.4L504.1 116.4L503.1 175.98L500.5 175.98Z" fill="#f08a8a"/><path d="M502 116.4L503.6 116.4L502.6 175.98L501 175.98Z" fill="#ef3434"/><path d="M516.14 116.4L518.26 116.4L517.26 175.98L515.14 175.98Z" fill="#f08a8a"/><path d="M516.64 116.4L517.76 116.4L516.76 175.98L515.64 175.98Z" fill="#ef3434"/><path d="M525.08 116.4L527.52 116.4L526.52 175.98L524.08 175.98Z" fill="#f08a8a"/><path d="M525.58 116.4L527.02 116.4L526.02 175.98L524.58 175.98Z" fill="#ef3434"/><path d="M529.7 116.4L532.3 116.4L531.3 175.98L528.7 175.98Z" fill="#f08a8a"/><path d="M530.2 116.4L531.8 116.4L530.8 175.98L529.2 175.98Z" fill="#ef3434"/><path d="M533.61 116.4L536.29 116.4L535.29 175.98L532.61 175.98Z" fill="#f08a8a"/><path d="M534.11 116.4L535.79 116.4L534.79 175.98L533.11 175.98Z" fill="#ef3434"/><path d="M549.7 116.4L552.3 116.4L551.3 175.98L548.7 175.98Z" fill="#f08a8a"/><path d="M550.2 116.4L551.8 116.4L550.8 175.98L549.2 175.98Z" fill="#ef3434"/><path d="M559.6 116.4L562.2 116.4L561.2 175.98L558.6 175.98Z" fill="#f08a8a"/><path d="M560.1 116.4L561.7 116.4L560.7 175.98L559.1 175.98Z" fill="#ef3434"/><path d="M580.9 116.4L583.5 116.4L582.5 175.98L579.9 175.98Z" fill="#f08a8a"/><path d="M581.4 116.4L583 116.4L582 175.98L580.4 175.98Z" fill="#ef3434"/><path d="M586.8 116.4L588.6 116.4L587.6 175.98L585.8 175.98Z" fill="#f08a8a"/><path d="M587.3 116.4L588.1 116.4L587.1 175.98L586.3 175.98Z" fill="#ef3434"/><path d="M81.5 123.02H602.5M81.5 129.64H602.5M81.5 136.26H602.5M81.5 142.88H602.5M81.5 149.5H602.5M81.5 156.12H602.5M81.5 162.74H602.5M81.5 169.36H602.5" stroke="#8e8e8e" stroke-width="0.6"/><rect x="81.5" y="116.4" width="521" height="59.58" fill="none" stroke="#8a8a8a" stroke-width="0.7"/><line x1="604.3" y1="116.4" x2="604.3" y2="175.98" stroke="#cfcfcf" stroke-width="1.2"/><rect x="606" y="116.4" width="26.4" height="19.86" fill="#93c593"/><rect x="606" y="136.26" width="26.4" height="39.72" fill="#e8898c"/><text x="607.1" y="121.82" font-size="5.85" class="i" fill="#151515" textLength="11.2" lengthAdjust="spacingAndGlyphs">APP</text><text x="607.1" y="128.44" font-size="5.85" class="i" fill="#151515" textLength="19.9" lengthAdjust="spacingAndGlyphs">C4BPA</text><text x="607.1" y="135.06" font-size="5.85" class="i" fill="#151515" textLength="21.9" lengthAdjust="spacingAndGlyphs">BORCS5</text><text x="607.1" y="141.68" font-size="5.85" class="i" fill="#3a1215" textLength="18.8" lengthAdjust="spacingAndGlyphs">PTPRQ</text><text x="607.1" y="148.3" font-size="5.85" class="i" fill="#3a1215" textLength="14.2" lengthAdjust="spacingAndGlyphs">PUS7</text><text x="607.1" y="154.92" font-size="5.85" class="i" fill="#3a1215" textLength="20.3" lengthAdjust="spacingAndGlyphs">ITPRID1</text><text x="607.1" y="161.54" font-size="5.85" class="i" fill="#3a1215" textLength="24.5" lengthAdjust="spacingAndGlyphs">PLEKHB2</text><text x="607.1" y="168.16" font-size="5.85" class="i" fill="#3a1215" textLength="24.2" lengthAdjust="spacingAndGlyphs">IL1RAPL1</text><text x="607.1" y="174.78" font-size="5.85" class="i" fill="#3a1215" textLength="13.1" lengthAdjust="spacingAndGlyphs">EXT1</text><rect x="633.6" y="116.5" width="49.8" height="42" fill="#fff" stroke="#1a1a1a" stroke-width="1.1"/><rect x="636.8" y="118" width="7" height="5" fill="#3b5bb0"/><text x="645.3" y="122.05" font-size="4.3" class="g" fill="#222">BFB-FBI</text><rect x="636.8" y="124.8" width="7" height="5" fill="#4ea6e0"/><text x="645.3" y="128.85" font-size="4.3" class="g" fill="#222">BFB-INS/DEL</text><rect x="636.8" y="131.6" width="7" height="5" fill="#f5a05a"/><text x="645.3" y="135.65" font-size="4.3" class="g" fill="#222">BFB-TRX</text><rect x="636.8" y="138.4" width="7" height="5" fill="#e84855"/><text x="645.3" y="142.45" font-size="4.3" class="g" fill="#222">BFB-INS/DEL+TRX</text><rect x="636.8" y="145.2" width="7" height="5" fill="#7c55b5"/><text x="645.3" y="149.25" font-size="4.3" class="g" fill="#222">FBI count &gt; 1</text><rect x="636.8" y="152.1" width="7" height="5" fill="#fff" stroke="#111" stroke-width="0.6"/><line x1="636.4" y1="157.4" x2="644.4" y2="151.6" stroke="#e02020" stroke-width="0.8"/><text x="645.3" y="156.15" font-size="4.3" class="g" fill="#222">N/A</text><text x="0" y="199.42" font-size="9.5" class="b" fill="#141414">c</text><text x="9" y="198.57" font-size="6.3" fill="#141414">Individuals with FBI or BFB</text><rect x="5.5" y="202.06" width="1.5" height="5.68" fill="#e84a50"/><rect x="7" y="202.06" width="48.5" height="5.68" fill="#50a3da"/><rect x="55.5" y="202.06" width="10.5" height="5.68" fill="#4662b0"/><text x="68.8" y="206.56" font-size="4.6" class="b g" fill="#3a3a3a">91%</text><rect x="31.4" y="208.66" width="0.6" height="5.68" fill="#e84a50"/><rect x="32" y="208.66" width="32.2" height="5.68" fill="#50a3da"/><rect x="64.2" y="208.66" width="1.8" height="5.68" fill="#4662b0"/><text x="68.8" y="213.16" font-size="4.6" class="b g" fill="#3a3a3a">52%</text><rect x="38.7" y="215.26" width="1" height="5.68" fill="#e84a50"/><rect x="39.7" y="215.26" width="21.6" height="5.68" fill="#50a3da"/><rect x="61.3" y="215.26" width="4.7" height="5.68" fill="#4662b0"/><text x="68.8" y="219.76" font-size="4.6" class="b g" fill="#3a3a3a">42%</text><rect x="61.3" y="221.86" width="0.7" height="5.68" fill="#e84a50"/><rect x="62" y="221.86" width="4" height="5.68" fill="#50a3da"/><text x="68.8" y="226.36" font-size="4.6" class="b g" fill="#3a3a3a">8%</text><rect x="56.2" y="228.46" width="0.8" height="5.68" fill="#e84a50"/><rect x="57" y="228.46" width="4.6" height="5.68" fill="#50a3da"/><rect x="61.6" y="228.46" width="4.4" height="5.68" fill="#4662b0"/><text x="68.8" y="232.96" font-size="4.6" class="b g" fill="#3a3a3a">16%</text><rect x="55.5" y="235.06" width="1.1" height="5.68" fill="#e84a50"/><rect x="56.6" y="235.06" width="7.6" height="5.68" fill="#50a3da"/><rect x="64.2" y="235.06" width="1.8" height="5.68" fill="#4662b0"/><text x="68.8" y="239.56" font-size="4.6" class="b g" fill="#3a3a3a">16%</text><rect x="62" y="241.66" width="0.8" height="5.68" fill="#e84a50"/><rect x="62.8" y="241.66" width="3.2" height="5.68" fill="#50a3da"/><text x="68.8" y="246.16" font-size="4.6" class="b g" fill="#3a3a3a">7%</text><rect x="63.5" y="248.26" width="0" height="5.68" fill="#e84a50"/><rect x="63.5" y="248.26" width="1" height="5.68" fill="#50a3da"/><rect x="64.5" y="248.26" width="1.5" height="5.68" fill="#4662b0"/><text x="68.8" y="252.76" font-size="4.6" class="b g" fill="#3a3a3a">6%</text><rect x="62" y="254.86" width="0.8" height="5.68" fill="#e84a50"/><rect x="62.8" y="254.86" width="3.2" height="5.68" fill="#50a3da"/><text x="68.8" y="259.36" font-size="4.6" class="b g" fill="#3a3a3a">6%</text><line x1="5.5" y1="261.6" x2="66.2" y2="261.6" stroke="#222" stroke-width="0.8"/><line x1="5.5" y1="261.6" x2="5.5" y2="262.9" stroke="#222" stroke-width="0.5"/><text x="5.5" y="266.48" font-size="4.1" text-anchor="middle" class="g" fill="#141414">844</text><line x1="23.4" y1="261.6" x2="23.4" y2="262.9" stroke="#222" stroke-width="0.5"/><text x="23.4" y="266.48" font-size="4.1" text-anchor="middle" class="g" fill="#141414">600</text><line x1="37.7" y1="261.6" x2="37.7" y2="262.9" stroke="#222" stroke-width="0.5"/><text x="37.7" y="266.48" font-size="4.1" text-anchor="middle" class="g" fill="#141414">400</text><line x1="51.4" y1="261.6" x2="51.4" y2="262.9" stroke="#222" stroke-width="0.5"/><text x="51.4" y="266.48" font-size="4.1" text-anchor="middle" class="g" fill="#141414">200</text><line x1="66.4" y1="261.6" x2="66.4" y2="262.9" stroke="#222" stroke-width="0.5"/><text x="66.4" y="266.48" font-size="4.1" text-anchor="middle" class="g" fill="#141414">0</text><defs>
<linearGradient id="gb" x1="0" x2="1" y1="0" y2="0">
<stop offset="0" stop-color="#c2c2c2"/><stop offset="0.18" stop-color="#d6d6d6"/><stop offset="0.5" stop-color="#e6e6e6"/><stop offset="0.82" stop-color="#d6d6d6"/><stop offset="1" stop-color="#c2c2c2"/>
</linearGradient>
<pattern id="gp" patternUnits="userSpaceOnUse" width="7.1" height="10"><rect width="7.1" height="10" fill="url(#gb)"/></pattern>
<pattern id="gp2" patternUnits="userSpaceOnUse" width="9.3" height="10" x="3"><rect width="9.3" height="10" fill="url(#gb)"/></pattern>
</defs><rect x="81.3" y="201.3" width="521.2" height="59.9" fill="#d8d8d8"/><rect x="81.3" y="201.3" width="521.2" height="59.9" fill="url(#gp)" opacity="0.9"/><path fill="#4259a9" d="M81.3 201.3h173.6v6.66h-173.6zM81.3 207.96h4.7v6.66h-4.7zM254.9 207.96h20.1v6.66h-20.1zM86 214.61h4.4v6.66h-4.4zM169.2 214.61h12.5v6.66h-12.5zM275 214.61h22.9v6.66h-22.9zM130.7 221.27h1.6v6.66h-1.6zM298.2 221.27h3.5v6.66h-3.5zM428 221.27h1.7v6.66h-1.7zM446.3 221.27h0.7v6.66h-0.7zM90.4 227.92h1.6v6.66h-1.6zM136.2 227.92h6v6.66h-6zM170.8 227.92h1.1v6.66h-1.1zM181.7 227.92h1.1v6.66h-1.1zM205.7 227.92h3.6v6.66h-3.6zM255.1 227.92h1.3v6.66h-1.3zM264.3 227.92h1.1v6.66h-1.1zM276.9 227.92h4.6v6.66h-4.6zM302.3 227.92h2.7v6.66h-2.7zM312.6 227.92h10.4v6.66h-10.4zM430.1 227.92h3.1v6.66h-3.1zM447.1 227.92h19.6v6.66h-19.6zM94 234.58h0.7v6.66h-0.7zM183.3 234.58h1.1v6.66h-1.1zM210.1 234.58h1.4v6.66h-1.4zM258.3 234.58h1.7v6.66h-1.7zM265 234.58h0.8v6.66h-0.8zM276.9 234.58h0.8v6.66h-0.8zM284.3 234.58h0.8v6.66h-0.8zM312.6 234.58h1.1v6.66h-1.1zM323 234.58h2.7v6.66h-2.7zM338 234.58h4.9v6.66h-4.9zM423.6 234.58h1.1v6.66h-1.1zM434.8 234.58h0.8v6.66h-0.8zM447.1 234.58h1.1v6.66h-1.1zM467.6 234.58h1.9v6.66h-1.9zM488.5 234.58h5.5v6.66h-5.5zM95.8 241.23h1.1v6.66h-1.1zM337.5 241.23h0.8v6.66h-0.8zM352.2 241.23h1.1v6.66h-1.1zM427.7 241.23h1.1v6.66h-1.1zM470.9 241.23h1.1v6.66h-1.1zM98 247.89h3.8v6.66h-3.8zM131.8 247.89h1.1v6.66h-1.1zM152 247.89h1v6.66h-1zM171.9 247.89h1.1v6.66h-1.1zM186.6 247.89h2.2v6.66h-2.2zM201.9 247.89h1.1v6.66h-1.1zM222.1 247.89h1.3v6.66h-1.3zM261.6 247.89h2v6.66h-2zM287 247.89h1.1v6.66h-1.1zM342.9 247.89h0.9v6.66h-0.9zM359 247.89h3v6.66h-3zM422 247.89h1.9v6.66h-1.9zM518 247.89h1.6v6.66h-1.6zM526.2 247.89h4.1v6.66h-4.1z"/><path fill="#4ea1d7" d="M254.9 201.3h347.6v6.66h-347.6zM86 207.96h83v6.66h-83zM275 207.96h327.5v6.66h-327.5zM81.3 214.61h3.6v6.66h-3.6zM90.4 214.61h40.3v6.66h-40.3zM181.7 214.61h19.3v6.66h-19.3zM254.9 214.61h6.2v6.66h-6.2zM297.9 214.61h124.4v6.66h-124.4zM81.6 221.27h1.1v6.66h-1.1zM84.9 221.27h1.1v6.66h-1.1zM132.3 221.27h3.9v6.66h-3.9zM201.9 221.27h2.2v6.66h-2.2zM261.6 221.27h2.2v6.66h-2.2zM275 221.27h1.6v6.66h-1.6zM301.7 221.27h10.4v6.66h-10.4zM429.7 221.27h14.2v6.66h-14.2zM86 227.92h1.1v6.66h-1.1zM92 227.92h1.6v6.66h-1.6zM142.2 227.92h3v6.66h-3zM209.3 227.92h0.7v6.66h-0.7zM256.4 227.92h1.4v6.66h-1.4zM281.5 227.92h2.2v6.66h-2.2zM298.2 227.92h1.3v6.66h-1.3zM305 227.92h1.6v6.66h-1.6zM323 227.92h12.3v6.66h-12.3zM422.3 227.92h1.3v6.66h-1.3zM443.9 227.92h1.1v6.66h-1.1zM466.7 227.92h19.4v6.66h-19.4zM82.7 234.58h1.1v6.66h-1.1zM87.1 234.58h1.1v6.66h-1.1zM145.2 234.58h6.5v6.66h-6.5zM170 234.58h1.1v6.66h-1.1zM184.4 234.58h2.2v6.66h-2.2zM205.7 234.58h1.1v6.66h-1.1zM211.5 234.58h4.3v6.66h-4.3zM275 234.58h1.1v6.66h-1.1zM307.2 234.58h2.1v6.66h-2.1zM335.3 234.58h0.8v6.66h-0.8zM342.9 234.58h7.1v6.66h-7.1zM430.1 234.58h0.9v6.66h-0.9zM435.6 234.58h1.4v6.66h-1.4zM469.5 234.58h0.5v6.66h-0.5zM494 234.58h21.8v6.66h-21.8zM81.3 241.23h1.4v6.66h-1.4zM96.9 241.23h1.1v6.66h-1.1zM145.2 241.23h1.1v6.66h-1.1zM215.8 241.23h1.1v6.66h-1.1zM218.2 241.23h3.9v6.66h-3.9zM278.3 241.23h1.1v6.66h-1.1zM285.9 241.23h1.1v6.66h-1.1zM301.7 241.23h1.1v6.66h-1.1zM313.7 241.23h1.1v6.66h-1.1zM353.3 241.23h5.4v6.66h-5.4zM445 241.23h1v6.66h-1zM472 241.23h0.7v6.66h-0.7zM486.1 241.23h0.8v6.66h-0.8zM494 241.23h2.7v6.66h-2.7zM517.4 241.23h6.7v6.66h-6.7zM184.4 247.89h1.6v6.66h-1.6zM362 247.89h1.1v6.66h-1.1zM449 247.89h3.8v6.66h-3.8zM473 247.89h0.8v6.66h-0.8zM488.3 247.89h1.3v6.66h-1.3zM496.7 247.89h1.1v6.66h-1.1zM87.1 254.54h1.1v6.66h-1.1zM210.9 254.54h1.1v6.66h-1.1zM223.2 254.54h1.3v6.66h-1.3zM256.2 254.54h1.6v6.66h-1.6zM263.8 254.54h1.1v6.66h-1.1zM268.2 254.54h1.9v6.66h-1.9zM301.7 254.54h1.3v6.66h-1.3zM309.3 254.54h1.7v6.66h-1.7zM315 254.54h1.1v6.66h-1.1zM325.2 254.54h1.1v6.66h-1.1zM335 254.54h1.1v6.66h-1.1zM352.9 254.54h1.1v6.66h-1.1zM359 254.54h0.8v6.66h-0.8zM363.1 254.54h6.5v6.66h-6.5zM437 254.54h0.7v6.66h-0.7zM449 254.54h0.7v6.66h-0.7zM474.4 254.54h2.4v6.66h-2.4zM486.1 254.54h0.8v6.66h-0.8zM494 254.54h1.6v6.66h-1.6zM496.5 254.54h1v6.66h-1zM531 254.54h9.8v6.66h-9.8z"/><path fill="#e8484b" d="M169 207.96h1.3v6.66h-1.3zM201 214.61h1.1v6.66h-1.1zM422.3 214.61h5.4v6.66h-5.4zM170 221.27h1.1v6.66h-1.1zM204.1 221.27h1.6v6.66h-1.6zM312.1 221.27h1.1v6.66h-1.1zM443.9 221.27h2.4v6.66h-2.4zM145.2 227.92h1.1v6.66h-1.1zM265.8 227.92h1.1v6.66h-1.1zM335.3 227.92h1.6v6.66h-1.6zM433.7 227.92h1.1v6.66h-1.1zM486.1 227.92h1.9v6.66h-1.9zM94.7 234.58h1.4v6.66h-1.4zM215.8 234.58h2v6.66h-2zM267.1 234.58h0.9v6.66h-0.9zM281.5 234.58h1.1v6.66h-1.1zM285.1 234.58h1.1v6.66h-1.1zM297.9 234.58h1.6v6.66h-1.6zM350 234.58h1.8v6.66h-1.8zM448.2 234.58h1.1v6.66h-1.1zM515.8 234.58h1.6v6.66h-1.6zM254.9 241.23h1.1v6.66h-1.1zM298.2 241.23h1.3v6.66h-1.3zM326.3 241.23h1v6.66h-1zM338.3 241.23h1.3v6.66h-1.3zM524.1 241.23h1.8v6.66h-1.8zM363.1 247.89h0.7v6.66h-0.7zM530.3 247.89h0.7v6.66h-0.7zM499.4 254.54h3.3v6.66h-3.3z"/><path fill="#7a4f9f" d="M82.13 203.7h2.35v3.19h-2.35zM90.05 203.7h1.98v3.19h-1.98zM93.12 203.7h0.91v3.19h-0.91zM98.11 203.7h1.39v3.19h-1.39zM106.99 203.7h0.97v3.19h-0.97zM114.3 203.7h2.85v3.19h-2.85zM119.03 203.7h1.62v3.19h-1.62zM123.68 203.7h2.54v3.19h-2.54zM144.52 203.7h1.67v3.19h-1.67zM147.65 203.7h2.99v3.19h-2.99zM151.21 203.7h1.1v3.19h-1.1zM155.29 203.7h1.94v3.19h-1.94zM159.1 203.7h2.47v3.19h-2.47zM163.6 203.7h2.07v3.19h-2.07zM166.62 203.7h1.26v3.19h-1.26zM170.69 203.7h1.63v3.19h-1.63zM173.59 203.7h1.12v3.19h-1.12zM177.24 203.7h2.53v3.19h-2.53zM195.72 203.7h1.69v3.19h-1.69zM200.1 203.7h1.24v3.19h-1.24zM203.85 203.7h2.53v3.19h-2.53zM208.97 203.7h1.01v3.19h-1.01zM211.2 203.7h1.78v3.19h-1.78zM218.23 203.7h2.47v3.19h-2.47zM221.82 203.7h2.91v3.19h-2.91zM227.06 203.7h0.96v3.19h-0.96zM235.19 203.7h1.79v3.19h-1.79zM239.61 203.7h1.55v3.19h-1.55zM242.34 203.7h2.51v3.19h-2.51zM247.07 203.7h2.9v3.19h-2.9zM256.17 203.7h1.44v3.19h-1.44zM260.51 203.7h2.8v3.19h-2.8zM264.04 203.7h1.1v3.19h-1.1zM270.09 203.7h1.17v3.19h-1.17zM272.57 203.7h1.94v3.19h-1.94zM275.42 203.7h1.29v3.19h-1.29zM278.98 203.7h2.06v3.19h-2.06zM288.53 203.7h0.92v3.19h-0.92zM290.1 203.7h2.5v3.19h-2.5zM294.89 203.7h1.43v3.19h-1.43zM297.6 203.7h0.99v3.19h-0.99zM299.86 203.7h2.79v3.19h-2.79zM307.21 203.7h2.16v3.19h-2.16zM311.71 203.7h2.93v3.19h-2.93zM316.89 203.7h2v3.19h-2zM325.89 203.7h1.06v3.19h-1.06zM329.48 203.7h2.5v3.19h-2.5zM334.03 203.7h0.94v3.19h-0.94zM336.58 203.7h1.99v3.19h-1.99zM340.07 203.7h1.37v3.19h-1.37zM343.03 203.7h1.42v3.19h-1.42zM346.99 203.7h2.42v3.19h-2.42zM350.5 203.7h1.71v3.19h-1.71zM354.29 203.7h2.92v3.19h-2.92zM358.91 203.7h1.93v3.19h-1.93zM363.57 203.7h2.54v3.19h-2.54zM373.06 203.7h2.33v3.19h-2.33zM378.18 203.7h1.71v3.19h-1.71zM385.9 203.7h1.56v3.19h-1.56zM388.93 203.7h1.21v3.19h-1.21zM394.73 203.7h1.87v3.19h-1.87zM399.49 203.7h2.38v3.19h-2.38zM403.2 203.7h2.25v3.19h-2.25zM406.6 203.7h2.9v3.19h-2.9zM410.64 203.7h2.68v3.19h-2.68zM415.51 203.7h1.32v3.19h-1.32zM421.39 203.7h1.82v3.19h-1.82zM424.41 203.7h1.27v3.19h-1.27zM433.6 203.7h0.94v3.19h-0.94zM435.14 203.7h2.18v3.19h-2.18zM438.42 203.7h0.92v3.19h-0.92zM440.07 203.7h1.55v3.19h-1.55zM444.35 203.7h1.68v3.19h-1.68zM448.51 203.7h2.63v3.19h-2.63zM451.76 203.7h1.29v3.19h-1.29zM462.3 203.7h2.12v3.19h-2.12zM473.66 203.7h2.2v3.19h-2.2zM478.36 203.7h1.61v3.19h-1.61zM481.35 203.7h1.53v3.19h-1.53zM485.6 203.7h1.05v3.19h-1.05zM488.43 203.7h2.32v3.19h-2.32zM491.93 203.7h1.02v3.19h-1.02zM494.69 203.7h2.33v3.19h-2.33zM500.88 203.7h1.76v3.19h-1.76zM504.96 203.7h2v3.19h-2zM509.53 203.7h1.35v3.19h-1.35zM512.26 203.7h2.02v3.19h-2.02zM515.21 203.7h2.39v3.19h-2.39zM523.96 203.7h2.33v3.19h-2.33zM528.73 203.7h2.8v3.19h-2.8zM534.3 203.7h2.94v3.19h-2.94zM543.48 203.7h1.64v3.19h-1.64zM547.14 203.7h2.49v3.19h-2.49zM550.53 203.7h2.85v3.19h-2.85zM564.55 203.7h1.66v3.19h-1.66zM567.72 203.7h1.27v3.19h-1.27zM571.53 203.7h1.66v3.19h-1.66zM573.76 203.7h1.79v3.19h-1.79zM576.12 203.7h2.3v3.19h-2.3zM579.18 203.7h2.85v3.19h-2.85zM584.77 203.7h1.98v3.19h-1.98zM587.85 203.7h1.79v3.19h-1.79zM592.06 203.7h2.48v3.19h-2.48zM595.67 203.7h1.8v3.19h-1.8zM599.2 203.7h1.46v3.19h-1.46zM83.72 210.35h1.19v3.19h-1.19zM87.91 210.35h1.29v3.19h-1.29zM94.03 210.35h2.91v3.19h-2.91zM104.61 210.35h2.39v3.19h-2.39zM109.7 210.35h2.14v3.19h-2.14zM126.3 210.35h2.91v3.19h-2.91zM149.79 210.35h1.55v3.19h-1.55zM162.78 210.35h1.81v3.19h-1.81zM260.85 210.35h2.14v3.19h-2.14zM264.82 210.35h1.17v3.19h-1.17zM267.6 210.35h1.36v3.19h-1.36zM290.21 210.35h1.08v3.19h-1.08zM293.59 210.35h2.14v3.19h-2.14zM297.83 210.35h1.28v3.19h-1.28zM300.42 210.35h2.61v3.19h-2.61zM303.82 210.35h1.11v3.19h-1.11zM309.55 210.35h1.68v3.19h-1.68zM319.56 210.35h2.64v3.19h-2.64zM331.65 210.35h1.77v3.19h-1.77zM346.66 210.35h2.47v3.19h-2.47zM352.07 210.35h1.69v3.19h-1.69zM354.45 210.35h1.88v3.19h-1.88zM359.16 210.35h2.9v3.19h-2.9zM362.82 210.35h2.01v3.19h-2.01zM366.69 210.35h2.61v3.19h-2.61zM370.85 210.35h2.79v3.19h-2.79zM380.51 210.35h2.34v3.19h-2.34zM388.83 210.35h1.52v3.19h-1.52zM403.07 210.35h2.9v3.19h-2.9zM407.87 210.35h2.04v3.19h-2.04zM411.81 210.35h1.89v3.19h-1.89zM415.99 210.35h0.91v3.19h-0.91zM421.57 210.35h2.33v3.19h-2.33zM425.53 210.35h1.79v3.19h-1.79zM436.63 210.35h2.79v3.19h-2.79zM442.11 210.35h2.71v3.19h-2.71zM450.81 210.35h1.57v3.19h-1.57zM453.64 210.35h2.92v3.19h-2.92zM461.5 210.35h2.06v3.19h-2.06zM464.75 210.35h1.09v3.19h-1.09zM470.47 210.35h1.87v3.19h-1.87zM477.23 210.35h2.69v3.19h-2.69zM482.87 210.35h2.23v3.19h-2.23zM487.62 210.35h1.48v3.19h-1.48zM489.97 210.35h2.66v3.19h-2.66zM505.17 210.35h1.28v3.19h-1.28zM520.77 210.35h1.59v3.19h-1.59zM523.09 210.35h2.7v3.19h-2.7zM530.75 210.35h2.7v3.19h-2.7zM544.45 210.35h2.96v3.19h-2.96zM556.11 210.35h2.02v3.19h-2.02zM559.65 210.35h1.02v3.19h-1.02zM566.41 210.35h1.42v3.19h-1.42zM570 210.35h1.84v3.19h-1.84zM578.34 210.35h2.21v3.19h-2.21zM587.55 210.35h1.8v3.19h-1.8zM591.96 210.35h1.72v3.19h-1.72zM594.32 210.35h0.97v3.19h-0.97zM86 217.6h0.6v2.99h-0.6zM372.35 217.6h0.87v2.99h-0.87zM84.9 224.26h1.1v2.99h-1.1zM132.3 224.26h1.1v2.99h-1.1zM134.5 224.26h1.1v2.99h-1.1zM203 224.26h2.7v2.99h-2.7zM275 224.26h1.6v2.99h-1.6zM298.2 224.26h3.5v2.99h-3.5zM307 224.26h1v2.99h-1zM399.5 224.26h1v2.99h-1zM428 224.26h1.7v2.99h-1.7zM436.5 224.26h1v2.99h-1zM443 224.26h1v2.99h-1zM91 230.91h2v2.99h-2zM181.7 230.91h1.1v2.99h-1.1zM298.2 230.91h1.3v2.99h-1.3zM302.3 230.91h2.7v2.99h-2.7zM332 230.91h3.3v2.99h-3.3zM443.9 230.91h1.1v2.99h-1.1zM462 230.91h1v2.99h-1zM481 230.91h1v2.99h-1zM485.5 230.91h1v2.99h-1zM82.7 237.57h1.1v2.99h-1.1zM147.5 237.57h2.7v2.99h-2.7zM183.3 237.57h1.1v2.99h-1.1zM211 237.57h3v2.99h-3zM258.3 237.57h1.7v2.99h-1.7zM307.2 237.57h2.1v2.99h-2.1zM312.6 237.57h1.1v2.99h-1.1zM324.5 237.57h1.2v2.99h-1.2zM344 237.57h1v2.99h-1zM423.6 237.57h1.1v2.99h-1.1zM430.1 237.57h0.9v2.99h-0.9zM435 237.57h2v2.99h-2zM468 237.57h1.5v2.99h-1.5zM490.5 237.57h2.5v2.99h-2.5zM495 237.57h1v2.99h-1zM502.5 237.57h1v2.99h-1zM507 237.57h1v2.99h-1zM514 237.57h1.8v2.99h-1.8zM145.2 244.22h1.1v2.99h-1.1zM215.8 244.22h1.1v2.99h-1.1zM298.2 244.22h1.3v2.99h-1.3zM326.3 244.22h1v2.99h-1zM353.3 244.22h1v2.99h-1zM356.5 244.22h1.7v2.99h-1.7zM495.5 244.22h1.2v2.99h-1.2zM521 244.22h1.6v2.99h-1.6zM518 250.88h1.6v2.99h-1.6z"/><path d="M81.3 207.96H602.5M81.3 214.61H602.5M81.3 221.27H602.5M81.3 227.92H602.5M81.3 234.58H602.5M81.3 241.23H602.5M81.3 247.89H602.5M81.3 254.54H602.5" stroke="#7e7e7e" stroke-width="0.6"/><rect x="81.3" y="201.3" width="521.2" height="59.9" fill="none" stroke="#8a8a8a" stroke-width="0.7"/><line x1="604.3" y1="201.3" x2="604.3" y2="261.19" stroke="#cfcfcf" stroke-width="1.2"/><rect x="606" y="201.3" width="26.4" height="19.96" fill="#93c593"/><rect x="606" y="221.27" width="26.4" height="39.93" fill="#e8898c"/><text x="607.1" y="206.73" font-size="5.85" class="i" fill="#151515" textLength="11.2" lengthAdjust="spacingAndGlyphs">APP</text><text x="607.1" y="213.39" font-size="5.85" class="i" fill="#151515" textLength="19.9" lengthAdjust="spacingAndGlyphs">C4BPA</text><text x="607.1" y="220.04" font-size="5.85" class="i" fill="#151515" textLength="21.9" lengthAdjust="spacingAndGlyphs">BORCS5</text><text x="607.1" y="226.7" font-size="5.85" class="i" fill="#3a1215" textLength="18.8" lengthAdjust="spacingAndGlyphs">PTPRQ</text><text x="607.1" y="233.35" font-size="5.85" class="i" fill="#3a1215" textLength="14.2" lengthAdjust="spacingAndGlyphs">PUS7</text><text x="607.1" y="240.01" font-size="5.85" class="i" fill="#3a1215" textLength="20.3" lengthAdjust="spacingAndGlyphs">ITPRID1</text><text x="607.1" y="246.66" font-size="5.85" class="i" fill="#3a1215" textLength="24.5" lengthAdjust="spacingAndGlyphs">PLEKHB2</text><text x="607.1" y="253.32" font-size="5.85" class="i" fill="#3a1215" textLength="24.2" lengthAdjust="spacingAndGlyphs">IL1RAPL1</text><text x="607.1" y="259.97" font-size="5.85" class="i" fill="#3a1215" textLength="13.1" lengthAdjust="spacingAndGlyphs">EXT1</text><text x="628.2" y="198.94" font-size="9" class="b" fill="#141414">e</text><text x="645.8" y="198.38" font-size="6.9" fill="#141414">p-value</text><rect x="639" y="202.3" width="0.5" height="4" fill="#6e6e6e"/><text x="650" y="206.05" font-size="5" class="g" fill="#1a1a1a">0.1317</text><rect x="639" y="209.1" width="1" height="4" fill="#6e6e6e"/><text x="650" y="212.85" font-size="5" class="g" fill="#1a1a1a">0.0436</text><rect x="639" y="215.8" width="3.8" height="4" fill="#6e6e6e"/><text x="650" y="219.55" font-size="5" class="g" fill="#1a1a1a">0.0014</text><rect x="639" y="222.4" width="39.4" height="4" fill="#6e6e6e"/><rect x="639" y="229" width="10.2" height="4" fill="#6e6e6e"/><text x="650" y="232.75" font-size="5" class="g" fill="#1a1a1a">4.4351x10<tspan dy="-1.6" font-size="2.6">-7</tspan></text><rect x="639" y="235.8" width="7.4" height="4" fill="#6e6e6e"/><text x="650" y="239.55" font-size="5" class="g" fill="#1a1a1a">3.5524x10<tspan dy="-1.6" font-size="2.6">-6</tspan></text><rect x="639" y="242.4" width="8" height="4" fill="#6e6e6e"/><text x="650" y="246.15" font-size="5" class="g" fill="#1a1a1a">8.4805x10<tspan dy="-1.6" font-size="2.6">-7</tspan></text><rect x="639" y="249" width="10.2" height="4" fill="#6e6e6e"/><text x="650" y="252.75" font-size="5" class="g" fill="#1a1a1a">1.2342x10<tspan dy="-1.6" font-size="2.6">-7</tspan></text><rect x="639" y="255.7" width="6.7" height="4" fill="#6e6e6e"/><text x="650" y="259.45" font-size="5" class="g" fill="#1a1a1a">4.3498x10<tspan dy="-1.6" font-size="2.6">-6</tspan></text><text x="650" y="226.15" font-size="5" class="g" fill="#fff">7.7274x10<tspan dy="-1.6" font-size="2.6">-28</tspan></text><line x1="646.4" y1="201.3" x2="646.4" y2="261" stroke="#e02828" stroke-width="0.9"/><line x1="638.6" y1="261.4" x2="678.6" y2="261.4" stroke="#222" stroke-width="0.7"/><line x1="639" y1="261.4" x2="639" y2="262.6" stroke="#222" stroke-width="0.5"/><text x="639" y="266.45" font-size="4.3" text-anchor="middle" class="g" fill="#141414">0.0</text><line x1="646.4" y1="261.4" x2="646.4" y2="262.6" stroke="#222" stroke-width="0.5"/><text x="646.4" y="266.45" font-size="4.3" text-anchor="middle" class="g" fill="#141414">5</text><line x1="654.3" y1="261.4" x2="654.3" y2="262.6" stroke="#222" stroke-width="0.5"/><text x="654.3" y="266.45" font-size="4.3" text-anchor="middle" class="g" fill="#141414">10</text><line x1="662.4" y1="261.4" x2="662.4" y2="262.6" stroke="#222" stroke-width="0.5"/><text x="662.4" y="266.45" font-size="4.3" text-anchor="middle" class="g" fill="#141414">15</text><line x1="670.7" y1="261.4" x2="670.7" y2="262.6" stroke="#222" stroke-width="0.5"/><text x="670.7" y="266.45" font-size="4.3" text-anchor="middle" class="g" fill="#141414">20</text><line x1="678" y1="261.4" x2="678" y2="262.6" stroke="#222" stroke-width="0.5"/><text x="678" y="266.45" font-size="4.3" text-anchor="middle" class="g" fill="#141414">25</text><text x="658.5" y="272.29" font-size="4.7" text-anchor="middle" class="g" fill="#141414">-log10(p-value)</text><rect x="81" y="268.6" width="511.3" height="60.3" fill="#d8d8d8"/><rect x="81" y="268.6" width="511.3" height="60.3" fill="url(#gp2)" opacity="0.9"/><path fill="#4ea1d7" d="M81 268.6h398v6.7h-398zM81 275.3h31.7v6.7h-31.7zM479 275.3h15.5v6.7h-15.5zM505.5 275.3h53.2v6.7h-53.2zM113 282h3v6.7h-3zM148 282h114v6.7h-114zM494 282h4v6.7h-4zM507.5 282h16.5v6.7h-16.5zM560 282h5v6.7h-5zM116 288.7h2v6.7h-2zM148 288.7h7.4v6.7h-7.4zM267 288.7h15.6v6.7h-15.6zM480 288.7h1v6.7h-1zM485 288.7h1v6.7h-1zM508 288.7h1.5v6.7h-1.5zM560 288.7h1v6.7h-1zM118 295.4h2v6.7h-2zM162 295.4h3v6.7h-3zM290 295.4h13v6.7h-13zM567 295.4h4v6.7h-4zM116 302.1h1v6.7h-1zM123 302.1h1v6.7h-1zM149 302.1h1v6.7h-1zM157 302.1h1v6.7h-1zM163 302.1h1v6.7h-1zM171 302.1h12v6.7h-12zM269 302.1h1v6.7h-1zM283 302.1h1v6.7h-1zM290 302.1h1v6.7h-1zM293 302.1h3v6.7h-3zM303 302.1h18.4v6.7h-18.4zM481 302.1h1.5v6.7h-1.5zM487 302.1h1.5v6.7h-1.5zM524 302.1h1v6.7h-1zM158 308.8h1v6.7h-1zM183.5 308.8h7.9v6.7h-7.9zM190 308.8h2v6.7h-2zM271 308.8h1v6.7h-1zM304 308.8h1v6.7h-1zM322 308.8h6v6.7h-6zM495 308.8h1v6.7h-1zM510 308.8h1.5v6.7h-1.5zM530 308.8h1v6.7h-1zM559 308.8h1v6.7h-1zM336.6 315.5h2.4v6.7h-2.4zM488 315.5h2.5v6.7h-2.5zM559 315.5h1v6.7h-1zM120 322.2h1v6.7h-1zM163 322.2h1v6.7h-1zM183 322.2h1v6.7h-1zM193 322.2h4v6.7h-4zM338.5 322.2h4.5v6.7h-4.5zM499 322.2h1v6.7h-1zM511 322.2h1v6.7h-1zM536 322.2h1v6.7h-1z"/><path fill="#e8484b" d="M479 268.6h25v6.7h-25zM112.7 275.3h3.3v6.7h-3.3zM494.5 275.3h1v6.7h-1zM262 282h4v6.7h-4zM524 282h1v6.7h-1zM118 288.7h1v6.7h-1zM165 295.4h1v6.7h-1zM527 295.4h1.5v6.7h-1.5zM113 302.1h1v6.7h-1zM321.4 302.1h1.1v6.7h-1.1zM535 302.1h1v6.7h-1zM123 308.8h2v6.7h-2zM266 308.8h1v6.7h-1zM306 322.2h1v6.7h-1z"/><path fill="#4259a9" d="M504 275.3h1.5v6.7h-1.5zM116 282h32v6.7h-32zM479 282h5v6.7h-5zM506 282h1.5v6.7h-1.5zM559 282h1v6.7h-1zM266 288.7h1v6.7h-1zM113 295.4h1v6.7h-1zM120 295.4h3v6.7h-3zM156 295.4h6v6.7h-6zM267 295.4h1v6.7h-1zM283 295.4h7v6.7h-7zM486 295.4h1v6.7h-1zM565 295.4h2v6.7h-2zM167 302.1h4v6.7h-4zM291 302.1h2v6.7h-2zM506 302.1h1.5v6.7h-1.5zM510 302.1h4v6.7h-4zM527 302.1h8v6.7h-8zM571 302.1h3v6.7h-3zM120 315.5h1v6.7h-1zM150 315.5h1v6.7h-1zM163 315.5h1v6.7h-1zM192 315.5h1v6.7h-1zM283 315.5h1v6.7h-1zM296 315.5h1v6.7h-1zM305 315.5h1v6.7h-1zM322 315.5h1v6.7h-1zM328 315.5h8.6v6.7h-8.6zM568 315.5h1v6.7h-1zM572 322.2h1v6.7h-1z"/><path fill="#7a4f9f" d="M81.52 271.01h1.14v3.22h-1.14zM84.87 271.01h1.19v3.22h-1.19zM87.14 271.01h2.49v3.22h-2.49zM91.98 271.01h2.29v3.22h-2.29zM96.11 271.01h1.84v3.22h-1.84zM100.94 271.01h1.1v3.22h-1.1zM104.89 271.01h1.75v3.22h-1.75zM110.65 271.01h1.36v3.22h-1.36zM126.1 271.01h2.27v3.22h-2.27zM130.86 271.01h2.43v3.22h-2.43zM135.4 271.01h1.36v3.22h-1.36zM138.1 271.01h1.6v3.22h-1.6zM151.67 271.01h1.27v3.22h-1.27zM154.8 271.01h2.32v3.22h-2.32zM158.1 271.01h2.83v3.22h-2.83zM163.17 271.01h1.1v3.22h-1.1zM173.77 271.01h2.56v3.22h-2.56zM179.03 271.01h1.31v3.22h-1.31zM182.62 271.01h2.69v3.22h-2.69zM187.06 271.01h2.56v3.22h-2.56zM191.05 271.01h2.19v3.22h-2.19zM193.83 271.01h1.14v3.22h-1.14zM206.45 271.01h1.63v3.22h-1.63zM209.52 271.01h1.49v3.22h-1.49zM213.41 271.01h2.19v3.22h-2.19zM216.58 271.01h2.62v3.22h-2.62zM220.17 271.01h1.86v3.22h-1.86zM223.83 271.01h2.71v3.22h-2.71zM228.35 271.01h2.41v3.22h-2.41zM233.05 271.01h1.88v3.22h-1.88zM241.14 271.01h2.35v3.22h-2.35zM244.4 271.01h2.69v3.22h-2.69zM248.66 271.01h1.2v3.22h-1.2zM251.12 271.01h1.79v3.22h-1.79zM258.51 271.01h2.64v3.22h-2.64zM263.19 271.01h2.78v3.22h-2.78zM266.97 271.01h2.61v3.22h-2.61zM271.09 271.01h2.62v3.22h-2.62zM274.7 271.01h1.35v3.22h-1.35zM280.63 271.01h1.42v3.22h-1.42zM286.9 271.01h1.28v3.22h-1.28zM289.88 271.01h1.52v3.22h-1.52zM291.92 271.01h0.9v3.22h-0.9zM305.55 271.01h1.57v3.22h-1.57zM309.06 271.01h1.29v3.22h-1.29zM312.21 271.01h2.88v3.22h-2.88zM316.88 271.01h2.7v3.22h-2.7zM321.05 271.01h2.32v3.22h-2.32zM327.3 271.01h2.38v3.22h-2.38zM332.57 271.01h2.34v3.22h-2.34zM337.86 271.01h2.57v3.22h-2.57zM344.34 271.01h1v3.22h-1zM345.95 271.01h1.76v3.22h-1.76zM349.31 271.01h1.2v3.22h-1.2zM353.01 271.01h1.82v3.22h-1.82zM361.44 271.01h2.43v3.22h-2.43zM369.92 271.01h1.72v3.22h-1.72zM377.43 271.01h2.43v3.22h-2.43zM394.49 271.01h1.19v3.22h-1.19zM398.35 271.01h2.73v3.22h-2.73zM402.53 271.01h1.38v3.22h-1.38zM406.81 271.01h1.78v3.22h-1.78zM409.78 271.01h1.82v3.22h-1.82zM412.96 271.01h1.29v3.22h-1.29zM415.4 271.01h2.8v3.22h-2.8zM422.88 271.01h2.54v3.22h-2.54zM429.07 271.01h1.92v3.22h-1.92zM433.21 271.01h1.91v3.22h-1.91zM440.56 271.01h2.52v3.22h-2.52zM450.25 271.01h2.06v3.22h-2.06zM454.72 271.01h1.45v3.22h-1.45zM458.64 271.01h2.15v3.22h-2.15zM463.43 271.01h2.95v3.22h-2.95zM467.07 271.01h2.19v3.22h-2.19zM472.18 271.01h1.9v3.22h-1.9zM476.62 271.01h2.73v3.22h-2.73zM480.98 271.01h1.28v3.22h-1.28zM483.09 271.01h2.74v3.22h-2.74zM491.43 271.01h1.95v3.22h-1.95zM81.65 277.71h1.35v3.22h-1.35zM105.44 277.71h1.07v3.22h-1.07zM109.45 277.71h1.14v3.22h-1.14zM111.14 277.71h1v3.22h-1zM511.93 277.71h2.75v3.22h-2.75zM517.56 277.71h1.79v3.22h-1.79zM520.09 277.71h1.97v3.22h-1.97zM527.81 277.71h1.08v3.22h-1.08zM539.54 277.71h1.51v3.22h-1.51zM546.03 277.71h1.72v3.22h-1.72zM553.86 277.71h2.6v3.22h-2.6zM155 285.01h1v3.02h-1zM167 285.01h1v3.02h-1zM172 285.01h1v3.02h-1zM150 291.72h1v3.02h-1zM268 291.72h1v3.02h-1zM272 291.72h1v3.02h-1zM276 291.72h1v3.02h-1zM286 298.42h1v3.02h-1zM167 305.12h4v3.02h-4zM173 305.12h1v3.02h-1zM178 305.12h1v3.02h-1zM291 305.12h2v3.02h-2zM304 305.12h1v3.02h-1zM312 305.12h1v3.02h-1zM318 305.12h1v3.02h-1zM510 305.12h4v3.02h-4zM573 305.12h1v3.02h-1zM186 311.81h1v3.02h-1z"/><path d="M81 275.3H592.3M81 282H592.3M81 288.7H592.3M81 295.4H592.3M81 302.1H592.3M81 308.8H592.3M81 315.5H592.3M81 322.2H592.3" stroke="#7e7e7e" stroke-width="0.6"/><rect x="81" y="268.6" width="511.3" height="60.3" fill="none" stroke="#8a8a8a" stroke-width="0.7"/><rect x="596.2" y="268.6" width="25.8" height="20.1" fill="#93c593"/><rect x="596.2" y="288.7" width="25.8" height="40.2" fill="#e8898c"/><text x="597.3" y="274.06" font-size="5.85" class="i" fill="#151515" textLength="10.95" lengthAdjust="spacingAndGlyphs">APP</text><text x="597.3" y="280.76" font-size="5.85" class="i" fill="#151515" textLength="19.45" lengthAdjust="spacingAndGlyphs">C4BPA</text><text x="597.3" y="287.46" font-size="5.85" class="i" fill="#151515" textLength="21.4" lengthAdjust="spacingAndGlyphs">BORCS5</text><text x="597.3" y="294.16" font-size="5.85" class="i" fill="#3a1215" textLength="18.37" lengthAdjust="spacingAndGlyphs">PTPRQ</text><text x="597.3" y="300.86" font-size="5.85" class="i" fill="#3a1215" textLength="13.88" lengthAdjust="spacingAndGlyphs">PUS7</text><text x="597.3" y="307.56" font-size="5.85" class="i" fill="#3a1215" textLength="19.84" lengthAdjust="spacingAndGlyphs">ITPRID1</text><text x="597.3" y="314.26" font-size="5.85" class="i" fill="#3a1215" textLength="23.94" lengthAdjust="spacingAndGlyphs">PLEKHB2</text><text x="597.3" y="320.96" font-size="5.85" class="i" fill="#3a1215" textLength="23.65" lengthAdjust="spacingAndGlyphs">IL1RAPL1</text><text x="597.3" y="327.66" font-size="5.85" class="i" fill="#3a1215" textLength="12.8" lengthAdjust="spacingAndGlyphs">EXT1</text><rect x="624.2" y="289.2" width="58.2" height="18" fill="#fff" stroke="#1a1a1a" stroke-width="1"/><rect x="626.2" y="292.1" width="9.8" height="5" fill="#93c593"/><rect x="626.2" y="299.8" width="9.8" height="5" fill="#e8898c"/><text x="637" y="295.84" font-size="3.45" class="g" fill="#141414">Frequency in proband &gt; 60%</text><text x="637" y="303.5" font-size="3.45" class="g" fill="#1a1a1a">P-value &lt; 10<tspan dy="-1.3" font-size="2.3">-5</tspan></text><text x="0.3" y="337.04" font-size="9" class="b" fill="#141414">f</text><text x="1" y="342.76" font-size="6" fill="#141414">Frequency</text><path d="M16.5 344.6H209.5V413.4H16.5Z" fill="none" stroke="#3a3a3a" stroke-width="0.9"/><line x1="16.5" y1="413.4" x2="209.5" y2="413.4" stroke="#222" stroke-width="0.9"/><text x="13.9" y="357.9" font-size="6.4" text-anchor="end" fill="#333">50%</text><line x1="15" y1="355.6" x2="16.5" y2="355.6" stroke="#333" stroke-width="0.5"/><text x="13.9" y="369.46" font-size="6.4" text-anchor="end" fill="#333">40%</text><line x1="15" y1="367.16" x2="16.5" y2="367.16" stroke="#333" stroke-width="0.5"/><text x="13.9" y="381.02" font-size="6.4" text-anchor="end" fill="#333">30%</text><line x1="15" y1="378.72" x2="16.5" y2="378.72" stroke="#333" stroke-width="0.5"/><text x="13.9" y="392.58" font-size="6.4" text-anchor="end" fill="#333">20%</text><line x1="15" y1="390.28" x2="16.5" y2="390.28" stroke="#333" stroke-width="0.5"/><text x="13.9" y="404.14" font-size="6.4" text-anchor="end" fill="#333">10%</text><line x1="15" y1="401.84" x2="16.5" y2="401.84" stroke="#333" stroke-width="0.5"/><text x="12.2" y="415.7" font-size="6.4" text-anchor="end" fill="#333">0</text><rect x="26" y="348" width="16" height="65.4" fill="#7257a0"/><line x1="34" y1="413.4" x2="34" y2="414.6" stroke="#333" stroke-width="0.5"/><text x="33.6" y="420.89" font-size="4.7" text-anchor="middle" class="i g" fill="#222" textLength="9.7" lengthAdjust="spacingAndGlyphs">APP</text><rect x="46.24" y="393.3" width="16" height="20.1" fill="#7257a0"/><line x1="54.24" y1="413.4" x2="54.24" y2="414.6" stroke="#333" stroke-width="0.5"/><text x="52.9" y="420.89" font-size="4.7" text-anchor="middle" class="i g" fill="#222" textLength="14.4" lengthAdjust="spacingAndGlyphs">C4BPA</text><rect x="66.48" y="413" width="16" height="0.4" fill="#7257a0"/><line x1="74.48" y1="413.4" x2="74.48" y2="414.6" stroke="#333" stroke-width="0.5"/><text x="72.4" y="420.89" font-size="4.7" text-anchor="middle" class="i g" fill="#222" textLength="17.3" lengthAdjust="spacingAndGlyphs">BORCS5</text><rect x="86.72" y="396" width="16" height="17.4" fill="#7257a0"/><line x1="94.72" y1="413.4" x2="94.72" y2="414.6" stroke="#333" stroke-width="0.5"/><text x="94.6" y="420.89" font-size="4.7" text-anchor="middle" class="i g" fill="#222" textLength="16.1" lengthAdjust="spacingAndGlyphs">PTPRQ</text><rect x="106.96" y="410.1" width="16" height="3.3" fill="#7257a0"/><line x1="114.96" y1="413.4" x2="114.96" y2="414.6" stroke="#333" stroke-width="0.5"/><text x="114.2" y="420.89" font-size="4.7" text-anchor="middle" class="i g" fill="#222" textLength="12.4" lengthAdjust="spacingAndGlyphs">PUS7</text><rect x="127.2" y="406.1" width="16" height="7.3" fill="#7257a0"/><line x1="135.2" y1="413.4" x2="135.2" y2="414.6" stroke="#333" stroke-width="0.5"/><text x="134.5" y="420.89" font-size="4.7" text-anchor="middle" class="i g" fill="#222" textLength="17.7" lengthAdjust="spacingAndGlyphs">ITPRID1</text><rect x="147.44" y="408.8" width="16" height="4.6" fill="#7257a0"/><line x1="155.44" y1="413.4" x2="155.44" y2="414.6" stroke="#333" stroke-width="0.5"/><text x="156.2" y="420.89" font-size="4.7" text-anchor="middle" class="i g" fill="#222" textLength="20.8" lengthAdjust="spacingAndGlyphs">PLEKHB2</text><line x1="175.68" y1="413.4" x2="175.68" y2="414.6" stroke="#333" stroke-width="0.5"/><text x="179.8" y="420.89" font-size="4.7" text-anchor="middle" class="i g" fill="#222" textLength="21.7" lengthAdjust="spacingAndGlyphs">IL1RAPL1</text><line x1="195.92" y1="413.4" x2="195.92" y2="414.6" stroke="#333" stroke-width="0.5"/><text x="199.6" y="420.89" font-size="4.7" text-anchor="middle" class="i g" fill="#222" textLength="11.2" lengthAdjust="spacingAndGlyphs">EXT1</text><text x="1" y="429.56" font-size="6" fill="#141414">Frequency</text><path d="M16.5 431.8H209.5V500.9H16.5Z" fill="none" stroke="#3a3a3a" stroke-width="0.9"/><line x1="16.5" y1="500.9" x2="209.5" y2="500.9" stroke="#222" stroke-width="0.9"/><text x="13.9" y="443.25" font-size="6.4" text-anchor="end" fill="#333">50%</text><line x1="15" y1="440.95" x2="16.5" y2="440.95" stroke="#333" stroke-width="0.5"/><text x="13.9" y="454.9" font-size="6.4" text-anchor="end" fill="#333">40%</text><line x1="15" y1="452.6" x2="16.5" y2="452.6" stroke="#333" stroke-width="0.5"/><text x="13.9" y="466.55" font-size="6.4" text-anchor="end" fill="#333">30%</text><line x1="15" y1="464.25" x2="16.5" y2="464.25" stroke="#333" stroke-width="0.5"/><text x="13.9" y="478.2" font-size="6.4" text-anchor="end" fill="#333">20%</text><line x1="15" y1="475.9" x2="16.5" y2="475.9" stroke="#333" stroke-width="0.5"/><text x="13.9" y="489.85" font-size="6.4" text-anchor="end" fill="#333">10%</text><line x1="15" y1="487.55" x2="16.5" y2="487.55" stroke="#333" stroke-width="0.5"/><text x="12.2" y="501.5" font-size="6.4" text-anchor="end" fill="#333">0</text><rect x="26" y="443.2" width="16" height="57.7" fill="#7257a0"/><line x1="34" y1="500.9" x2="34" y2="502.1" stroke="#333" stroke-width="0.5"/><text x="33.6" y="505.89" font-size="4.7" text-anchor="middle" class="i g" fill="#222" textLength="9.7" lengthAdjust="spacingAndGlyphs">APP</text><rect x="46.24" y="481.75" width="16" height="19.15" fill="#7257a0"/><line x1="54.24" y1="500.9" x2="54.24" y2="502.1" stroke="#333" stroke-width="0.5"/><text x="52.9" y="505.89" font-size="4.7" text-anchor="middle" class="i g" fill="#222" textLength="14.4" lengthAdjust="spacingAndGlyphs">C4BPA</text><rect x="66.48" y="500.5" width="16" height="0.4" fill="#7257a0"/><line x1="74.48" y1="500.9" x2="74.48" y2="502.1" stroke="#333" stroke-width="0.5"/><text x="72.4" y="505.89" font-size="4.7" text-anchor="middle" class="i g" fill="#222" textLength="17.3" lengthAdjust="spacingAndGlyphs">BORCS5</text><rect x="86.72" y="490.9" width="16" height="10" fill="#7257a0"/><line x1="94.72" y1="500.9" x2="94.72" y2="502.1" stroke="#333" stroke-width="0.5"/><text x="94.6" y="505.89" font-size="4.7" text-anchor="middle" class="i g" fill="#222" textLength="16.1" lengthAdjust="spacingAndGlyphs">PTPRQ</text><rect x="106.96" y="496.9" width="16" height="4" fill="#7257a0"/><line x1="114.96" y1="500.9" x2="114.96" y2="502.1" stroke="#333" stroke-width="0.5"/><text x="114.2" y="505.89" font-size="4.7" text-anchor="middle" class="i g" fill="#222" textLength="12.4" lengthAdjust="spacingAndGlyphs">PUS7</text><rect x="127.2" y="495.6" width="16" height="5.3" fill="#7257a0"/><line x1="135.2" y1="500.9" x2="135.2" y2="502.1" stroke="#333" stroke-width="0.5"/><text x="134.5" y="505.89" font-size="4.7" text-anchor="middle" class="i g" fill="#222" textLength="17.7" lengthAdjust="spacingAndGlyphs">ITPRID1</text><rect x="147.44" y="496.2" width="16" height="4.7" fill="#7257a0"/><line x1="155.44" y1="500.9" x2="155.44" y2="502.1" stroke="#333" stroke-width="0.5"/><text x="156.2" y="505.89" font-size="4.7" text-anchor="middle" class="i g" fill="#222" textLength="20.8" lengthAdjust="spacingAndGlyphs">PLEKHB2</text><line x1="175.68" y1="500.9" x2="175.68" y2="502.1" stroke="#333" stroke-width="0.5"/><text x="179.8" y="505.89" font-size="4.7" text-anchor="middle" class="i g" fill="#222" textLength="21.7" lengthAdjust="spacingAndGlyphs">IL1RAPL1</text><line x1="195.92" y1="500.9" x2="195.92" y2="502.1" stroke="#333" stroke-width="0.5"/><text x="199.6" y="505.89" font-size="4.7" text-anchor="middle" class="i g" fill="#222" textLength="11.2" lengthAdjust="spacingAndGlyphs">EXT1</text><text x="1" y="514.56" font-size="6" fill="#141414">Frequency</text><path d="M16.5 516.4H209.5V585.1H16.5Z" fill="none" stroke="#3a3a3a" stroke-width="0.9"/><line x1="16.5" y1="585.1" x2="209.5" y2="585.1" stroke="#222" stroke-width="0.9"/><text x="13.9" y="529.7" font-size="6.4" text-anchor="end" fill="#333">50%</text><line x1="15" y1="527.4" x2="16.5" y2="527.4" stroke="#333" stroke-width="0.5"/><text x="13.9" y="541.24" font-size="6.4" text-anchor="end" fill="#333">40%</text><line x1="15" y1="538.94" x2="16.5" y2="538.94" stroke="#333" stroke-width="0.5"/><text x="13.9" y="552.78" font-size="6.4" text-anchor="end" fill="#333">30%</text><line x1="15" y1="550.48" x2="16.5" y2="550.48" stroke="#333" stroke-width="0.5"/><text x="13.9" y="564.32" font-size="6.4" text-anchor="end" fill="#333">20%</text><line x1="15" y1="562.02" x2="16.5" y2="562.02" stroke="#333" stroke-width="0.5"/><text x="13.9" y="575.86" font-size="6.4" text-anchor="end" fill="#333">10%</text><line x1="15" y1="573.56" x2="16.5" y2="573.56" stroke="#333" stroke-width="0.5"/><text x="12.2" y="587.4" font-size="6.4" text-anchor="end" fill="#333">0</text><rect x="26" y="528.5" width="16" height="56.6" fill="#7257a0"/><line x1="34" y1="585.1" x2="34" y2="586.3" stroke="#333" stroke-width="0.5"/><text x="33.6" y="593.19" font-size="4.7" text-anchor="middle" class="i g" fill="#222" textLength="9.7" lengthAdjust="spacingAndGlyphs">APP</text><rect x="46.24" y="569.9" width="16" height="15.2" fill="#7257a0"/><line x1="54.24" y1="585.1" x2="54.24" y2="586.3" stroke="#333" stroke-width="0.5"/><text x="52.9" y="593.19" font-size="4.7" text-anchor="middle" class="i g" fill="#222" textLength="14.4" lengthAdjust="spacingAndGlyphs">C4BPA</text><rect x="66.48" y="584.7" width="16" height="0.4" fill="#7257a0"/><line x1="74.48" y1="585.1" x2="74.48" y2="586.3" stroke="#333" stroke-width="0.5"/><text x="72.4" y="593.19" font-size="4.7" text-anchor="middle" class="i g" fill="#222" textLength="17.3" lengthAdjust="spacingAndGlyphs">BORCS5</text><rect x="86.72" y="582.9" width="16" height="2.2" fill="#7257a0"/><line x1="94.72" y1="585.1" x2="94.72" y2="586.3" stroke="#333" stroke-width="0.5"/><text x="94.6" y="593.19" font-size="4.7" text-anchor="middle" class="i g" fill="#222" textLength="16.1" lengthAdjust="spacingAndGlyphs">PTPRQ</text><rect x="106.96" y="583.5" width="16" height="1.6" fill="#7257a0"/><line x1="114.96" y1="585.1" x2="114.96" y2="586.3" stroke="#333" stroke-width="0.5"/><text x="114.2" y="593.19" font-size="4.7" text-anchor="middle" class="i g" fill="#222" textLength="12.4" lengthAdjust="spacingAndGlyphs">PUS7</text><rect x="127.2" y="580.1" width="16" height="5" fill="#7257a0"/><line x1="135.2" y1="585.1" x2="135.2" y2="586.3" stroke="#333" stroke-width="0.5"/><text x="134.5" y="593.19" font-size="4.7" text-anchor="middle" class="i g" fill="#222" textLength="17.7" lengthAdjust="spacingAndGlyphs">ITPRID1</text><rect x="147.44" y="583.5" width="16" height="1.6" fill="#7257a0"/><line x1="155.44" y1="585.1" x2="155.44" y2="586.3" stroke="#333" stroke-width="0.5"/><text x="156.2" y="593.19" font-size="4.7" text-anchor="middle" class="i g" fill="#222" textLength="20.8" lengthAdjust="spacingAndGlyphs">PLEKHB2</text><line x1="175.68" y1="585.1" x2="175.68" y2="586.3" stroke="#333" stroke-width="0.5"/><text x="179.8" y="593.19" font-size="4.7" text-anchor="middle" class="i g" fill="#222" textLength="21.7" lengthAdjust="spacingAndGlyphs">IL1RAPL1</text><line x1="195.92" y1="585.1" x2="195.92" y2="586.3" stroke="#333" stroke-width="0.5"/><text x="199.6" y="593.19" font-size="4.7" text-anchor="middle" class="i g" fill="#222" textLength="11.2" lengthAdjust="spacingAndGlyphs">EXT1</text><text x="214.6" y="338.24" font-size="9" class="b" fill="#141414">g</text><text x="222.8" y="346.02" font-size="7" fill="#141414">SV Join Type</text><rect x="218.5" y="350.6" width="5" height="2.2" fill="#a6cee3"/><text x="225.7" y="353.93" font-size="6.2" fill="#141414">DEL-ht</text><rect x="218.5" y="357.98" width="5" height="2.2" fill="#1f78b4"/><text x="225.7" y="361.31" font-size="6.2" fill="#141414">TRX-ht</text><rect x="218.5" y="365.36" width="5" height="2.2" fill="#fb9a99"/><text x="225.7" y="368.69" font-size="6.2" fill="#141414">DUP-th</text><rect x="218.5" y="372.74" width="5" height="2.2" fill="#e31a1c"/><text x="225.7" y="376.07" font-size="6.2" fill="#141414">TRX-th</text><rect x="218.5" y="380.12" width="5" height="2.2" fill="#fdbf6f"/><text x="225.7" y="383.45" font-size="6.2" fill="#141414">FBI-hh</text><rect x="218.5" y="387.5" width="5" height="2.2" fill="#ff7f00"/><text x="225.7" y="390.83" font-size="6.2" fill="#141414">TRX-hh</text><rect x="218.5" y="394.88" width="5" height="2.2" fill="#b2df8a"/><text x="225.7" y="398.21" font-size="6.2" fill="#141414">FBI-tt</text><rect x="218.5" y="402.26" width="5" height="2.2" fill="#33a02c"/><text x="225.7" y="405.59" font-size="6.2" fill="#141414">TRX-tt</text><rect x="211.4" y="410.3" width="5.3" height="2" fill="#fff" stroke="#222" stroke-width="0.5"/><text x="217.6" y="412.83" font-size="4.25" class="g" fill="#141414">Segment copy number</text><text x="247.6" y="362.56" font-size="6" fill="#141414">chr12</text><line x1="264.4" y1="341" x2="264.4" y2="357.6" stroke="#a6cee3" stroke-width="0.9"/><line x1="326.3" y1="339.5" x2="326.3" y2="357.6" stroke="#a6cee3" stroke-width="0.9"/><line x1="449.6" y1="340" x2="449.6" y2="357.6" stroke="#a6cee3" stroke-width="0.9"/><line x1="401.5" y1="333.5" x2="401.5" y2="357.6" stroke="#b2df8a" stroke-width="0.9"/><line x1="451.1" y1="333.5" x2="451.1" y2="357.6" stroke="#b2df8a" stroke-width="0.9"/><rect x="264.6" y="357.7" width="186.5" height="5.5" fill="#fff" stroke="#2a2a2a" stroke-width="0.9"/><line x1="264.6" y1="358.9" x2="451.1" y2="358.9" stroke="#9a9a9a" stroke-width="0.5"/><text x="259.9" y="377.5" font-size="5.55" class="i" fill="#1c1c1c">TSPAN8</text><text x="284.4" y="377.5" font-size="5.55" class="i" fill="#1c1c1c">TRHDE</text><text x="266" y="385.1" font-size="5.55" class="i" fill="#1c1c1c">LGR5</text><text x="266.8" y="392.6" font-size="5.55" class="i" fill="#1c1c1c">ZFC3H1</text><text x="267.7" y="399.9" font-size="5.55" class="i" fill="#1c1c1c">TMEM19</text><text x="268.7" y="407" font-size="5.55" class="i" fill="#1c1c1c">THAP2</text><text x="270.4" y="415" font-size="5.55" class="i" fill="#1c1c1c">TBC1D15</text><text x="270.8" y="422.5" font-size="5.55" class="i" fill="#1c1c1c">RAB21</text><text x="276.3" y="429.8" font-size="5.55" class="i" fill="#1c1c1c">TPH2</text><text x="320.5" y="377.5" font-size="5.55" class="i" fill="#1c1c1c">ATXN7L3B</text><text x="354.7" y="377.5" font-size="5.55" class="i" fill="#1c1c1c">PHLDA1</text><text x="377.8" y="377.5" font-size="5.55" class="i" fill="#1c1c1c">E2F7</text><text x="337.3" y="385" font-size="5.55" class="i" fill="#1c1c1c">KCNC2</text><text x="362.6" y="385" font-size="5.55" class="i" fill="#1c1c1c">BBS10</text><text x="340" y="392.4" font-size="5.55" class="i" fill="#1c1c1c">GLIPR1L1</text><text x="368.9" y="392.4" font-size="5.55" class="i" fill="#1c1c1c">ZDHHC17</text><text x="340.6" y="399.9" font-size="5.55" class="i" fill="#1c1c1c">GLIPR1L2</text><text x="372.8" y="399.9" font-size="5.55" class="i" fill="#1c1c1c">CSRP2</text><text x="341.3" y="407.5" font-size="5.55" class="i" fill="#1c1c1c">CAPS2</text><text x="363.6" y="407.5" font-size="5.55" class="i" fill="#1c1c1c">OSBPL8</text><text x="344.6" y="415" font-size="5.55" class="i" fill="#1c1c1c">GLIPR1</text><text x="346.3" y="422.2" font-size="5.55" class="i" fill="#1c1c1c">KRR1</text><text x="355.7" y="429" font-size="5.55" class="i" fill="#1c1c1c">NAP1L1</text><text x="397.2" y="377.3" font-size="5.55" class="i" fill="#1c1c1c">NAV3</text><text x="420" y="377.3" font-size="5.55" class="i" fill="#1c1c1c">SYT1</text><text x="439.7" y="377.3" font-size="5.55" class="i" fill="#1c1c1c">OTOGL</text><text x="427.7" y="384.5" font-size="5.55" class="i" fill="#1c1c1c">PAWR</text><text x="429.4" y="392" font-size="5.55" class="i" fill="#1c1c1c">PPP1R12A</text><text x="446.2" y="401.3" font-size="5.55" class="i" fill="#c23b3b">PTPRQ</text><rect x="260" y="371" width="8" height="1.3" fill="#f2c23a"/><rect x="286" y="371" width="9" height="1.3" fill="#f2c23a"/><rect x="322" y="370.7" width="2" height="1.3" fill="#f2c23a"/><rect x="357" y="370.7" width="2" height="1.3" fill="#f2c23a"/><rect x="383" y="370.7" width="2" height="1.3" fill="#f2c23a"/><rect x="398" y="370" width="6" height="1.3" fill="#f2c23a"/><rect x="419" y="370" width="11" height="1.3" fill="#f2c23a"/><rect x="445" y="369.8" width="6" height="1.3" fill="#f2c23a"/><rect x="268.5" y="378.4" width="2.5" height="1.3" fill="#f2c23a"/><rect x="271" y="386" width="1" height="1.3" fill="#f2c23a"/><rect x="271.5" y="393.4" width="1" height="1.3" fill="#f2c23a"/><rect x="272" y="400.7" width="1" height="1.3" fill="#f2c23a"/><rect x="273.5" y="408.4" width="1.5" height="1.3" fill="#f2c23a"/><rect x="274" y="416" width="1" height="1.3" fill="#f2c23a"/><rect x="280" y="423.4" width="1.5" height="1.3" fill="#f2c23a"/><rect x="351.5" y="379" width="1.2" height="2" fill="#f2c23a"/><rect x="344.5" y="386" width="1.2" height="2" fill="#f2c23a"/><rect x="372.5" y="386" width="1.2" height="2" fill="#f2c23a"/><rect x="361.5" y="394" width="1.2" height="2" fill="#f2c23a"/><rect x="374.5" y="394" width="1.2" height="2" fill="#f2c23a"/><rect x="347.5" y="401" width="1.2" height="2" fill="#f2c23a"/><rect x="371.5" y="401" width="1.2" height="3" fill="#f2c23a"/><rect x="349.5" y="409" width="1.2" height="2" fill="#f2c23a"/><rect x="350.5" y="416" width="1.2" height="2" fill="#f2c23a"/><rect x="359.5" y="423" width="1.2" height="2" fill="#f2c23a"/><rect x="440.5" y="386" width="1.2" height="2" fill="#f2c23a"/><rect x="433.5" y="379" width="1.2" height="2" fill="#f2c23a"/><rect x="448.5" y="395" width="1.2" height="2" fill="#f2c23a"/><rect x="450.5" y="393" width="1.2" height="1.5" fill="#f2c23a"/><path d="M264.5 363.3V417.5L244.3 420.1V448.4" fill="none" stroke="#5aa55a" stroke-width="1.1" stroke-dasharray="4.5 1.8"/><path d="M264.5 417.5L262.7 422.4V456.3" fill="none" stroke="#5aa55a" stroke-width="1.1" stroke-dasharray="4.5 1.8"/><path d="M326 363.3V421.9L315.2 423.6V448.4" fill="none" stroke="#5aa55a" stroke-width="1.1" stroke-dasharray="4.5 1.8"/><path d="M326 416.6L293.3 419.6V448.4" fill="none" stroke="#5aa55a" stroke-width="1.1" stroke-dasharray="4.5 1.8"/><path d="M401.3 363.3V420.5L376.7 423.5V448.4" fill="none" stroke="#5aa55a" stroke-width="1.1" stroke-dasharray="4.5 1.8"/><path d="M401.3 419.5L353.4 422.2V456.3" fill="none" stroke="#5aa55a" stroke-width="1.1" stroke-dasharray="4.5 1.8"/><path d="M450.4 363.3V418.5" fill="none" stroke="#4f9f4f" stroke-width="2.2" stroke-dasharray="5 1"/><path d="M450.4 415.6L405.5 416.6V448.4" fill="none" stroke="#5aa55a" stroke-width="1.1" stroke-dasharray="4.5 1.8"/><path d="M450.4 418.9L417.3 419.2V456.3" fill="none" stroke="#5aa55a" stroke-width="1.1" stroke-dasharray="4.5 1.8"/><path d="M450.4 420.5L444 421.3V448.4" fill="none" stroke="#5aa55a" stroke-width="1.1" stroke-dasharray="4.5 1.8"/><path d="M450.4 418.2L468.2 423.3V456.3" fill="none" stroke="#5aa55a" stroke-width="1.1" stroke-dasharray="4.5 1.8"/><line x1="440.3" y1="428.3" x2="455" y2="428.3" stroke="#8fc0e0" stroke-width="0.8"/><rect x="231.1" y="438.5" width="250.8" height="5.2" fill="#366c3b"/><line x1="245" y1="438.5" x2="245" y2="443.7" stroke="#9bcf8f" stroke-width="0.6" stroke-dasharray="1 0.6"/><line x1="262.7" y1="438.5" x2="262.7" y2="443.7" stroke="#9bcf8f" stroke-width="0.6" stroke-dasharray="1 0.6"/><line x1="293.3" y1="438.5" x2="293.3" y2="443.7" stroke="#9bcf8f" stroke-width="0.6" stroke-dasharray="1 0.6"/><line x1="315.2" y1="438.5" x2="315.2" y2="443.7" stroke="#9bcf8f" stroke-width="0.6" stroke-dasharray="1 0.6"/><line x1="353.4" y1="438.5" x2="353.4" y2="443.7" stroke="#9bcf8f" stroke-width="0.6" stroke-dasharray="1 0.6"/><line x1="376.7" y1="438.5" x2="376.7" y2="443.7" stroke="#9bcf8f" stroke-width="0.6" stroke-dasharray="1 0.6"/><line x1="405.2" y1="438.5" x2="405.2" y2="443.7" stroke="#9bcf8f" stroke-width="0.6" stroke-dasharray="1 0.6"/><line x1="417.3" y1="438.5" x2="417.3" y2="443.7" stroke="#9bcf8f" stroke-width="0.6" stroke-dasharray="1 0.6"/><line x1="443.8" y1="438.5" x2="443.8" y2="443.7" stroke="#9bcf8f" stroke-width="0.6" stroke-dasharray="1 0.6"/><line x1="468.5" y1="438.5" x2="468.5" y2="443.7" stroke="#9bcf8f" stroke-width="0.6" stroke-dasharray="1 0.6"/><text x="238.05" y="442.97" font-size="5.2" text-anchor="middle" fill="#cfe6c8">H1</text><text x="253.85" y="442.97" font-size="5.2" text-anchor="middle" fill="#cfe6c8">H2</text><text x="278" y="442.97" font-size="5.2" text-anchor="middle" fill="#cfe6c8">H3</text><text x="304.25" y="442.97" font-size="5.2" text-anchor="middle" fill="#cfe6c8">H4</text><text x="334.3" y="442.97" font-size="5.2" text-anchor="middle" fill="#cfe6c8">H5</text><text x="365.05" y="442.97" font-size="5.2" text-anchor="middle" fill="#cfe6c8">H6</text><text x="390.95" y="442.97" font-size="5.2" text-anchor="middle" fill="#cfe6c8">H7</text><text x="411.25" y="442.97" font-size="5.2" text-anchor="middle" fill="#cfe6c8">H8</text><text x="430.55" y="442.97" font-size="5.2" text-anchor="middle" fill="#cfe6c8">H9</text><text x="456.15" y="442.97" font-size="5.2" text-anchor="middle" fill="#cfe6c8">H10</text><text x="475.2" y="442.97" font-size="5.2" text-anchor="middle" fill="#cfe6c8">H11</text><rect x="231.2" y="432.2" width="13.1" height="4.8" fill="#efefef" stroke="#444" stroke-width="0.55"/><text x="237.75" y="436.33" font-size="4.8" text-anchor="middle" class="g" fill="#1a1a1a">8.75</text><rect x="247" y="432.2" width="13" height="4.8" fill="#efefef" stroke="#444" stroke-width="0.55"/><text x="253.5" y="436.33" font-size="4.8" text-anchor="middle" class="g" fill="#1a1a1a">4.40</text><rect x="271" y="432.2" width="12.7" height="4.8" fill="#efefef" stroke="#444" stroke-width="0.55"/><text x="277.35" y="436.33" font-size="4.8" text-anchor="middle" class="g" fill="#1a1a1a">8.68</text><rect x="297.7" y="432.2" width="13.3" height="4.8" fill="#efefef" stroke="#444" stroke-width="0.55"/><text x="304.35" y="436.33" font-size="4.8" text-anchor="middle" class="g" fill="#1a1a1a">4.40</text><rect x="327" y="432.2" width="13.6" height="4.8" fill="#efefef" stroke="#444" stroke-width="0.55"/><text x="333.8" y="436.33" font-size="4.8" text-anchor="middle" class="g" fill="#1a1a1a">8.59</text><rect x="358" y="432.2" width="13.8" height="4.8" fill="#efefef" stroke="#444" stroke-width="0.55"/><text x="364.9" y="436.33" font-size="4.8" text-anchor="middle" class="g" fill="#1a1a1a">8.38</text><rect x="384.6" y="432.2" width="12.6" height="4.8" fill="#efefef" stroke="#444" stroke-width="0.55"/><text x="390.9" y="436.33" font-size="4.8" text-anchor="middle" class="g" fill="#1a1a1a">8.74</text><rect x="405.4" y="432.2" width="11.6" height="4.8" fill="#efefef" stroke="#444" stroke-width="0.55"/><text x="411.2" y="436.33" font-size="4.8" text-anchor="middle" class="g" fill="#1a1a1a">8.75</text><rect x="424.4" y="432.2" width="13.1" height="4.8" fill="#efefef" stroke="#444" stroke-width="0.55"/><text x="430.95" y="436.33" font-size="4.8" text-anchor="middle" class="g" fill="#1a1a1a">8.56</text><rect x="449" y="432.2" width="12.8" height="4.8" fill="#efefef" stroke="#444" stroke-width="0.55"/><text x="455.4" y="436.33" font-size="4.8" text-anchor="middle" class="g" fill="#1a1a1a">0.20</text><rect x="468.8" y="432.2" width="14.6" height="4.8" fill="#efefef" stroke="#444" stroke-width="0.55"/><text x="476.1" y="436.33" font-size="4.8" text-anchor="middle" class="g" fill="#1a1a1a">10.48</text><rect x="229.4" y="448.4" width="29.8" height="6.1" fill="#f6fbf4" stroke="#b9dbb1" stroke-width="0.6"/><text x="244.3" y="453.65" font-size="6.1" text-anchor="middle" fill="#c8343a">71208581</text><rect x="276.7" y="448.4" width="29.8" height="6.1" fill="#f6fbf4" stroke="#b9dbb1" stroke-width="0.6"/><text x="291.6" y="453.65" font-size="6.1" text-anchor="middle" fill="#c8343a">74250797</text><rect x="308.6" y="448.4" width="29.4" height="6.1" fill="#f6fbf4" stroke="#b9dbb1" stroke-width="0.6"/><text x="323.3" y="453.65" font-size="6.1" text-anchor="middle" fill="#c8343a">74254276</text><rect x="357.8" y="448.4" width="29.8" height="6.1" fill="#f6fbf4" stroke="#b9dbb1" stroke-width="0.6"/><text x="372.7" y="453.65" font-size="6.1" text-anchor="middle" fill="#c8343a">77994064</text><rect x="391.4" y="448.4" width="29.4" height="6.1" fill="#f6fbf4" stroke="#b9dbb1" stroke-width="0.6"/><text x="406.1" y="453.65" font-size="6.1" text-anchor="middle" fill="#c8343a">80383280</text><rect x="434" y="448.4" width="30" height="6.1" fill="#f6fbf4" stroke="#b9dbb1" stroke-width="0.6"/><text x="449" y="453.65" font-size="6.1" text-anchor="middle" fill="#c8343a">80454441</text><rect x="248.6" y="456.3" width="29.8" height="6.1" fill="#f6fbf4" stroke="#b9dbb1" stroke-width="0.6"/><text x="263.5" y="461.55" font-size="6.1" text-anchor="middle" fill="#c8343a">71210694</text><rect x="338.9" y="456.3" width="29.4" height="6.1" fill="#f6fbf4" stroke="#b9dbb1" stroke-width="0.6"/><text x="353.6" y="461.55" font-size="6.1" text-anchor="middle" fill="#c8343a">77990109</text><rect x="404.7" y="456.3" width="29.8" height="6.1" fill="#f6fbf4" stroke="#b9dbb1" stroke-width="0.6"/><text x="419.6" y="461.55" font-size="6.1" text-anchor="middle" fill="#c8343a">80384190</text><rect x="455.3" y="456.3" width="28.5" height="6.1" fill="#f6fbf4" stroke="#b9dbb1" stroke-width="0.6"/><text x="469.55" y="461.55" font-size="6.1" text-anchor="middle" fill="#c8343a">80461952</text><text x="467.6" y="337.24" font-size="9" class="b" fill="#141414">h</text><circle cx="479.7" cy="347" r="2.2" fill="#8b6aad" stroke="#6a4a8a" stroke-width="0.3"/><text x="484.8" y="349.52" font-size="7" fill="#141414">SV inherited from mother</text><circle cx="568.3" cy="347" r="1.25" fill="#c0305a"/><text x="570.2" y="349.52" font-size="7" fill="#141414">BFB SV</text><rect x="478.4" y="355.4" width="3.2" height="3.2" fill="#2f6b35" stroke="#c83a3a" stroke-width="0.6"/><text x="484.8" y="359.52" font-size="7" fill="#141414">Complementary reverse segments</text><text x="495.7" y="370.85" font-size="8.2" fill="#141414">intra-chromosome SVs</text><text x="498" y="381.94" font-size="5.4" text-anchor="end" fill="#222">H6-</text><circle cx="501.5" cy="380" r="0.75" fill="#c0305a"/><line x1="502.6" y1="380" x2="508.2" y2="380" stroke="#93d07f" stroke-width="0.9"/><path d="M507.4 378.9L509.6 380L507.4 381.1Z" fill="#93d07f"/><text x="510.6" y="381.94" font-size="5.4" fill="#222">H7+</text><rect x="524.3" y="376.3" width="64.3" height="7.4" fill="#366c3b" stroke="#1e3a21" stroke-width="0.5"/><line x1="556.6" y1="376.3" x2="556.6" y2="383.7" stroke="#1b3f1f" stroke-width="0.6"/><text x="540.4" y="381.87" font-size="5.2" text-anchor="middle" fill="#e6f0e4">H6</text><text x="572.6" y="381.87" font-size="5.2" text-anchor="middle" fill="#e6f0e4">H7</text><rect x="524.6" y="376.6" width="31.8" height="6.8" fill="none" stroke="#c83a3a" stroke-width="0.9"/><line x1="537.15" y1="377.7" x2="543.65" y2="377.7" stroke="#e6f0e4" stroke-width="0.45"/><text x="495.3" y="392.44" font-size="5.4" text-anchor="end" fill="#222" textLength="9.8" lengthAdjust="spacingAndGlyphs">H10-</text><circle cx="501.5" cy="390.5" r="0.75" fill="#c0305a"/><line x1="502.6" y1="390.5" x2="508.2" y2="390.5" stroke="#93d07f" stroke-width="0.9"/><path d="M507.4 389.4L509.6 390.5L507.4 391.6Z" fill="#93d07f"/><text x="510.6" y="392.44" font-size="5.4" fill="#222">H11+</text><rect x="524.3" y="386.8" width="64.3" height="7.4" fill="#366c3b" stroke="#1e3a21" stroke-width="0.5"/><line x1="556.6" y1="386.8" x2="556.6" y2="394.2" stroke="#1b3f1f" stroke-width="0.6"/><text x="540.4" y="392.37" font-size="5.2" text-anchor="middle" fill="#e6f0e4">H10</text><text x="572.6" y="392.37" font-size="5.2" text-anchor="middle" fill="#e6f0e4">H11</text><rect x="524.6" y="387.1" width="31.8" height="6.8" fill="none" stroke="#c83a3a" stroke-width="0.9"/><line x1="535.9" y1="388.2" x2="544.9" y2="388.2" stroke="#e6f0e4" stroke-width="0.45"/><circle cx="481.6" cy="390.5" r="2.2" fill="#8b6aad" stroke="#6a4a8a" stroke-width="0.3"/><text x="498" y="402.94" font-size="5.4" text-anchor="end" fill="#222">H1+</text><circle cx="501.5" cy="401" r="0.75" fill="#c0305a"/><line x1="502.6" y1="401" x2="508.2" y2="401" stroke="#7fb9e2" stroke-width="0.9"/><path d="M507.4 399.9L509.6 401L507.4 402.1Z" fill="#7fb9e2"/><text x="510.6" y="402.94" font-size="5.4" fill="#222">H3+</text><rect x="524.3" y="397.3" width="64.3" height="7.4" fill="#366c3b" stroke="#1e3a21" stroke-width="0.5"/><line x1="556.6" y1="397.3" x2="556.6" y2="404.7" stroke="#1b3f1f" stroke-width="0.6"/><text x="540.4" y="402.87" font-size="5.2" text-anchor="middle" fill="#e6f0e4">H1</text><text x="572.6" y="402.87" font-size="5.2" text-anchor="middle" fill="#e6f0e4">H3</text><text x="498" y="413.44" font-size="5.4" text-anchor="end" fill="#222">H3+</text><circle cx="501.5" cy="411.5" r="0.75" fill="#c0305a"/><line x1="502.6" y1="411.5" x2="508.2" y2="411.5" stroke="#7fb9e2" stroke-width="0.9"/><path d="M507.4 410.4L509.6 411.5L507.4 412.6Z" fill="#7fb9e2"/><text x="510.6" y="413.44" font-size="5.4" fill="#222">H5+</text><rect x="524.3" y="407.8" width="64.3" height="7.4" fill="#366c3b" stroke="#1e3a21" stroke-width="0.5"/><line x1="556.6" y1="407.8" x2="556.6" y2="415.2" stroke="#1b3f1f" stroke-width="0.6"/><text x="540.4" y="413.37" font-size="5.2" text-anchor="middle" fill="#e6f0e4">H3</text><text x="572.6" y="413.37" font-size="5.2" text-anchor="middle" fill="#e6f0e4">H5</text><text x="498" y="423.94" font-size="5.4" text-anchor="end" fill="#222">H7+</text><circle cx="501.5" cy="422" r="0.75" fill="#c0305a"/><line x1="502.6" y1="422" x2="508.2" y2="422" stroke="#7fb9e2" stroke-width="0.9"/><path d="M507.4 420.9L509.6 422L507.4 423.1Z" fill="#7fb9e2"/><text x="510.6" y="423.94" font-size="5.4" fill="#222">H9+</text><rect x="524.3" y="418.3" width="64.3" height="7.4" fill="#366c3b" stroke="#1e3a21" stroke-width="0.5"/><line x1="556.6" y1="418.3" x2="556.6" y2="425.7" stroke="#1b3f1f" stroke-width="0.6"/><text x="540.4" y="423.87" font-size="5.2" text-anchor="middle" fill="#e6f0e4">H7</text><text x="572.6" y="423.87" font-size="5.2" text-anchor="middle" fill="#e6f0e4">H9</text><rect x="486.1" y="435.4" width="4.4" height="4.2" fill="#8b6aad"/><text x="492.6" y="439.73" font-size="6.2" fill="#141414">Male with BFB</text><circle cx="488.3" cy="444.2" r="2.2" fill="#8b6aad"/><text x="492.6" y="446.73" font-size="6.2" fill="#141414">Female with BFB</text><rect x="486.3" y="449.9" width="4" height="3.9" fill="#fff" stroke="#333" stroke-width="0.6"/><text x="492.6" y="454.13" font-size="6.2" fill="#141414">Male without BFB</text><text x="551" y="433.09" font-size="4.7" text-anchor="middle" class="g" fill="#333">SRRS115025</text><text x="582.5" y="433.09" font-size="4.7" text-anchor="middle" class="g" fill="#333">SRRS115024</text><rect x="549.3" y="434.5" width="8.2" height="6.9" fill="#fff" stroke="#333" stroke-width="0.6"/><circle cx="578.1" cy="437.9" r="3.9" fill="#8b6aad" stroke="#555" stroke-width="0.4"/><path d="M553.4 441.4V448H578.1V441.8M565.8 448V457.1" fill="none" stroke="#555" stroke-width="0.6"/><rect x="562" y="457.1" width="7.7" height="7.9" fill="#8b6aad"/><text x="565.5" y="470.09" font-size="4.7" text-anchor="middle" class="g" fill="#333">SRRS115023</text><text x="599.6" y="337.64" font-size="9" class="b" fill="#141414">i</text><line x1="611.3" y1="347" x2="617.2" y2="347" stroke="#7fb9e2" stroke-width="0.9"/><path d="M616.4 345.9L618.4 347L616.4 348.1Z" fill="#7fb9e2"/><text x="619.4" y="349.48" font-size="6.9" fill="#141414">DEL-ht</text><line x1="641.6" y1="347" x2="648.6" y2="347" stroke="#93d07f" stroke-width="0.9"/><path d="M647.8 345.9L649.8 347L647.8 348.1Z" fill="#93d07f"/><text x="650.6" y="349.45" font-size="6.8" fill="#141414">FBI-tt</text><circle cx="639.9" cy="406.2" r="43.8" fill="none" stroke="#888" stroke-width="1.5" stroke-dasharray="1.2 1.6" opacity="0.35"/><circle cx="639.9" cy="406.2" r="40.95" fill="none" stroke="#2f6b31" stroke-width="2.7"/><circle cx="639.9" cy="406.2" r="38.4" fill="none" stroke="#333" stroke-width="0.3" opacity="0.7"/><circle cx="639.9" cy="406.2" r="33.7" fill="none" stroke="#98b48e" stroke-width="7"/><circle cx="639.9" cy="406.2" r="29.75" fill="none" stroke="#333" stroke-width="0.3" opacity="0.7"/><circle cx="639.9" cy="406.2" r="26.9" fill="none" stroke="#5b9356" stroke-width="4.6"/><path d="M638.4 382 A24.2 24.2 0 0 1 664.1 406.2" fill="none" stroke="#fff" stroke-width="0.7"/><path d="M638.4 383 A23.2 23.2 0 0 1 663.1 406.2" fill="none" stroke="#4a8a48" stroke-width="1.4"/><rect x="669.6" y="404.5" width="15.4" height="2" fill="#fff" stroke="#555" stroke-width="0.35"/><line x1="635.6" y1="382.3" x2="638.3" y2="395.4" stroke="#93d07f" stroke-width="0.8"/><line x1="650" y1="405.6" x2="661.1" y2="405.3" stroke="#8fc0e0" stroke-width="1"/><line x1="651" y1="405" x2="662" y2="404.6" stroke="#93d07f" stroke-width="0.6"/><line x1="634.8" y1="415" x2="629.7" y2="425" stroke="#8fc0e0" stroke-width="0.8"/><text x="640.2" y="455.48" font-size="3" text-anchor="middle" class="i g" fill="#444">chr12</text><text x="214.2" y="480.14" font-size="9" class="b" fill="#141414">j</text><text x="225.1" y="479.42" font-size="7" fill="#141414">Ambigram resolved BFB path</text><line x1="322.5" y1="476.7" x2="337.7" y2="476.7" stroke="#111" stroke-width="0.9"/><text x="340.5" y="479.42" font-size="7" fill="#141414">Real SV</text><line x1="373.2" y1="476.7" x2="387.7" y2="476.7" stroke="#111" stroke-width="0.9" stroke-dasharray="1.8 1.6"/><text x="389" y="479.42" font-size="7" fill="#141414">Virutual SV</text><rect x="437.1" y="474.8" width="3.8" height="3.8" fill="#2f6b35" stroke="#c83a3a" stroke-width="0.6"/><text x="444.5" y="479.42" font-size="7" fill="#141414">Negative strand</text><rect x="505.9" y="474.6" width="9.6" height="4.5" fill="none" stroke="#e03a3a" stroke-width="0.8" stroke-dasharray="2 1.2"/><text x="518.5" y="479.42" font-size="7" fill="#141414">Fragment substitued in the second stage</text><text x="219.9" y="491.43" font-size="6.2" fill="#141414">(Fisrt Stage)</text><text x="455.6" y="491.63" font-size="6.2" fill="#141414">(Second Stage)</text><path d="M429.2 498.85 C448.4 498.85 448.4 508.65 441.4 508.65" fill="none" stroke="#94c987" stroke-width="0.8"/><path d="M429.2 518.05 C448.4 518.05 448.4 527.85 441.4 527.85" fill="none" stroke="#94c987" stroke-width="0.8"/><path d="M429.2 537.35 C448.4 537.35 448.4 546.45 441.4 546.45" fill="none" stroke="#94c987" stroke-width="0.8"/><path d="M348.7 546.45 C315.6 546.45 315.6 555.85 327.6 555.85" fill="none" stroke="#94c987" stroke-width="0.8"/><path d="M429.2 555.85 C448.4 555.85 448.4 564.35 441.4 564.35" fill="none" stroke="#94c987" stroke-width="0.8"/><path d="M429.2 564.35 C397.5 564.35 397.5 573.05 407.5 573.05" fill="none" stroke="#94c987" stroke-width="0.8"/><path d="M441.4 573.05 C448.4 573.05 448.4 582.85 429.2 582.85" fill="none" stroke="#94c987" stroke-width="0.8"/><path d="M327.6 582.85 C315.6 582.85 315.6 592.05 348.7 592.05" fill="none" stroke="#94c987" stroke-width="0.8"/><path d="M220.8 508.65 C214.8 508.65 214.8 518.05 220.8 518.05" fill="none" stroke="#222" stroke-width="0.9" stroke-dasharray="2.2 1.6"/><path d="M220.8 527.85 C214.8 527.85 214.8 537.35 220.8 537.35" fill="none" stroke="#222" stroke-width="0.9" stroke-dasharray="2.2 1.6"/><rect x="220.8" y="496" width="208.4" height="5.7" fill="#366c3b" stroke="#1e3a21" stroke-width="0.5"/><text x="226.55" y="500.54" font-size="4.7" text-anchor="middle" class="g" fill="#dcebd8">H1</text><line x1="232.3" y1="496" x2="232.3" y2="501.7" stroke="#173d1c" stroke-width="0.5"/><text x="240" y="500.54" font-size="4.7" text-anchor="middle" class="g" fill="#dcebd8">H2</text><line x1="247.7" y1="496" x2="247.7" y2="501.7" stroke="#173d1c" stroke-width="0.5"/><text x="262.25" y="500.54" font-size="4.7" text-anchor="middle" class="g" fill="#dcebd8">H3</text><line x1="276.8" y1="496" x2="276.8" y2="501.7" stroke="#173d1c" stroke-width="0.5"/><text x="285.55" y="500.54" font-size="4.7" text-anchor="middle" class="g" fill="#dcebd8">H4</text><line x1="294.3" y1="496" x2="294.3" y2="501.7" stroke="#173d1c" stroke-width="0.5"/><text x="310.95" y="500.54" font-size="4.7" text-anchor="middle" class="g" fill="#dcebd8">H5</text><line x1="327.6" y1="496" x2="327.6" y2="501.7" stroke="#173d1c" stroke-width="0.5"/><text x="338.15" y="500.54" font-size="4.7" text-anchor="middle" class="g" fill="#dcebd8">H6</text><line x1="348.7" y1="496" x2="348.7" y2="501.7" stroke="#173d1c" stroke-width="0.5"/><text x="361.45" y="500.54" font-size="4.7" text-anchor="middle" class="g" fill="#dcebd8">H7</text><line x1="374.2" y1="496" x2="374.2" y2="501.7" stroke="#173d1c" stroke-width="0.5"/><text x="379.8" y="500.54" font-size="4.7" text-anchor="middle" class="g" fill="#dcebd8">H8</text><line x1="385.4" y1="496" x2="385.4" y2="501.7" stroke="#173d1c" stroke-width="0.5"/><text x="396.45" y="500.54" font-size="4.7" text-anchor="middle" class="g" fill="#dcebd8">H9</text><line x1="407.5" y1="496" x2="407.5" y2="501.7" stroke="#173d1c" stroke-width="0.5"/><text x="418.35" y="500.54" font-size="4.7" text-anchor="middle" class="g" fill="#dcebd8">H10</text><rect x="220.8" y="505.8" width="220.6" height="5.7" fill="#366c3b" stroke="#1e3a21" stroke-width="0.5"/><text x="226.55" y="510.34" font-size="4.7" text-anchor="middle" class="g" fill="#dcebd8">H1</text><line x1="224.45" y1="506.9" x2="228.65" y2="506.9" stroke="#dcebd8" stroke-width="0.35"/><line x1="232.3" y1="505.8" x2="232.3" y2="511.5" stroke="#c83a3a" stroke-width="0.6"/><text x="240" y="510.34" font-size="4.7" text-anchor="middle" class="g" fill="#dcebd8">H2</text><line x1="237.9" y1="506.9" x2="242.1" y2="506.9" stroke="#dcebd8" stroke-width="0.35"/><line x1="247.7" y1="505.8" x2="247.7" y2="511.5" stroke="#c83a3a" stroke-width="0.6"/><text x="262.25" y="510.34" font-size="4.7" text-anchor="middle" class="g" fill="#dcebd8">H3</text><line x1="260.15" y1="506.9" x2="264.35" y2="506.9" stroke="#dcebd8" stroke-width="0.35"/><line x1="276.8" y1="505.8" x2="276.8" y2="511.5" stroke="#c83a3a" stroke-width="0.6"/><text x="285.55" y="510.34" font-size="4.7" text-anchor="middle" class="g" fill="#dcebd8">H4</text><line x1="283.45" y1="506.9" x2="287.65" y2="506.9" stroke="#dcebd8" stroke-width="0.35"/><line x1="294.3" y1="505.8" x2="294.3" y2="511.5" stroke="#c83a3a" stroke-width="0.6"/><text x="310.95" y="510.34" font-size="4.7" text-anchor="middle" class="g" fill="#dcebd8">H5</text><line x1="308.85" y1="506.9" x2="313.05" y2="506.9" stroke="#dcebd8" stroke-width="0.35"/><line x1="327.6" y1="505.8" x2="327.6" y2="511.5" stroke="#c83a3a" stroke-width="0.6"/><text x="338.15" y="510.34" font-size="4.7" text-anchor="middle" class="g" fill="#dcebd8">H6</text><line x1="336.05" y1="506.9" x2="340.25" y2="506.9" stroke="#dcebd8" stroke-width="0.35"/><line x1="348.7" y1="505.8" x2="348.7" y2="511.5" stroke="#c83a3a" stroke-width="0.6"/><text x="361.45" y="510.34" font-size="4.7" text-anchor="middle" class="g" fill="#dcebd8">H7</text><line x1="359.35" y1="506.9" x2="363.55" y2="506.9" stroke="#dcebd8" stroke-width="0.35"/><line x1="374.2" y1="505.8" x2="374.2" y2="511.5" stroke="#c83a3a" stroke-width="0.6"/><text x="379.8" y="510.34" font-size="4.7" text-anchor="middle" class="g" fill="#dcebd8">H8</text><line x1="377.7" y1="506.9" x2="381.9" y2="506.9" stroke="#dcebd8" stroke-width="0.35"/><line x1="385.4" y1="505.8" x2="385.4" y2="511.5" stroke="#c83a3a" stroke-width="0.6"/><text x="396.45" y="510.34" font-size="4.7" text-anchor="middle" class="g" fill="#dcebd8">H9</text><line x1="394.35" y1="506.9" x2="398.55" y2="506.9" stroke="#dcebd8" stroke-width="0.35"/><line x1="407.5" y1="505.8" x2="407.5" y2="511.5" stroke="#c83a3a" stroke-width="0.6"/><text x="418.35" y="510.34" font-size="4.7" text-anchor="middle" class="g" fill="#dcebd8">H10</text><line x1="415.55" y1="506.9" x2="421.15" y2="506.9" stroke="#dcebd8" stroke-width="0.35"/><line x1="429.2" y1="505.8" x2="429.2" y2="511.5" stroke="#c83a3a" stroke-width="0.6"/><text x="435.3" y="510.34" font-size="4.7" text-anchor="middle" class="g" fill="#dcebd8">H11</text><line x1="432.5" y1="506.9" x2="438.1" y2="506.9" stroke="#dcebd8" stroke-width="0.35"/><rect x="221" y="506" width="220.2" height="5.3" fill="none" stroke="#c83a3a" stroke-width="0.8"/><rect x="220.8" y="515.2" width="208.4" height="5.7" fill="#366c3b" stroke="#1e3a21" stroke-width="0.5"/><text x="226.55" y="519.74" font-size="4.7" text-anchor="middle" class="g" fill="#dcebd8">H1</text><line x1="232.3" y1="515.2" x2="232.3" y2="520.9" stroke="#173d1c" stroke-width="0.5"/><text x="240" y="519.74" font-size="4.7" text-anchor="middle" class="g" fill="#dcebd8">H2</text><line x1="247.7" y1="515.2" x2="247.7" y2="520.9" stroke="#173d1c" stroke-width="0.5"/><text x="262.25" y="519.74" font-size="4.7" text-anchor="middle" class="g" fill="#dcebd8">H3</text><line x1="276.8" y1="515.2" x2="276.8" y2="520.9" stroke="#173d1c" stroke-width="0.5"/><text x="285.55" y="519.74" font-size="4.7" text-anchor="middle" class="g" fill="#dcebd8">H4</text><line x1="294.3" y1="515.2" x2="294.3" y2="520.9" stroke="#173d1c" stroke-width="0.5"/><text x="310.95" y="519.74" font-size="4.7" text-anchor="middle" class="g" fill="#dcebd8">H5</text><line x1="327.6" y1="515.2" x2="327.6" y2="520.9" stroke="#173d1c" stroke-width="0.5"/><text x="338.15" y="519.74" font-size="4.7" text-anchor="middle" class="g" fill="#dcebd8">H6</text><line x1="348.7" y1="515.2" x2="348.7" y2="520.9" stroke="#173d1c" stroke-width="0.5"/><text x="361.45" y="519.74" font-size="4.7" text-anchor="middle" class="g" fill="#dcebd8">H7</text><line x1="374.2" y1="515.2" x2="374.2" y2="520.9" stroke="#173d1c" stroke-width="0.5"/><text x="379.8" y="519.74" font-size="4.7" text-anchor="middle" class="g" fill="#dcebd8">H8</text><line x1="385.4" y1="515.2" x2="385.4" y2="520.9" stroke="#173d1c" stroke-width="0.5"/><text x="396.45" y="519.74" font-size="4.7" text-anchor="middle" class="g" fill="#dcebd8">H9</text><line x1="407.5" y1="515.2" x2="407.5" y2="520.9" stroke="#173d1c" stroke-width="0.5"/><text x="418.35" y="519.74" font-size="4.7" text-anchor="middle" class="g" fill="#dcebd8">H10</text><rect x="220.8" y="525" width="220.6" height="5.7" fill="#366c3b" stroke="#1e3a21" stroke-width="0.5"/><text x="226.55" y="529.54" font-size="4.7" text-anchor="middle" class="g" fill="#dcebd8">H1</text><line x1="224.45" y1="526.1" x2="228.65" y2="526.1" stroke="#dcebd8" stroke-width="0.35"/><line x1="232.3" y1="525" x2="232.3" y2="530.7" stroke="#c83a3a" stroke-width="0.6"/><text x="240" y="529.54" font-size="4.7" text-anchor="middle" class="g" fill="#dcebd8">H2</text><line x1="237.9" y1="526.1" x2="242.1" y2="526.1" stroke="#dcebd8" stroke-width="0.35"/><line x1="247.7" y1="525" x2="247.7" y2="530.7" stroke="#c83a3a" stroke-width="0.6"/><text x="262.25" y="529.54" font-size="4.7" text-anchor="middle" class="g" fill="#dcebd8">H3</text><line x1="260.15" y1="526.1" x2="264.35" y2="526.1" stroke="#dcebd8" stroke-width="0.35"/><line x1="276.8" y1="525" x2="276.8" y2="530.7" stroke="#c83a3a" stroke-width="0.6"/><text x="285.55" y="529.54" font-size="4.7" text-anchor="middle" class="g" fill="#dcebd8">H4</text><line x1="283.45" y1="526.1" x2="287.65" y2="526.1" stroke="#dcebd8" stroke-width="0.35"/><line x1="294.3" y1="525" x2="294.3" y2="530.7" stroke="#c83a3a" stroke-width="0.6"/><text x="310.95" y="529.54" font-size="4.7" text-anchor="middle" class="g" fill="#dcebd8">H5</text><line x1="308.85" y1="526.1" x2="313.05" y2="526.1" stroke="#dcebd8" stroke-width="0.35"/><line x1="327.6" y1="525" x2="327.6" y2="530.7" stroke="#c83a3a" stroke-width="0.6"/><text x="338.15" y="529.54" font-size="4.7" text-anchor="middle" class="g" fill="#dcebd8">H6</text><line x1="336.05" y1="526.1" x2="340.25" y2="526.1" stroke="#dcebd8" stroke-width="0.35"/><line x1="348.7" y1="525" x2="348.7" y2="530.7" stroke="#c83a3a" stroke-width="0.6"/><text x="361.45" y="529.54" font-size="4.7" text-anchor="middle" class="g" fill="#dcebd8">H7</text><line x1="359.35" y1="526.1" x2="363.55" y2="526.1" stroke="#dcebd8" stroke-width="0.35"/><line x1="374.2" y1="525" x2="374.2" y2="530.7" stroke="#c83a3a" stroke-width="0.6"/><text x="379.8" y="529.54" font-size="4.7" text-anchor="middle" class="g" fill="#dcebd8">H8</text><line x1="377.7" y1="526.1" x2="381.9" y2="526.1" stroke="#dcebd8" stroke-width="0.35"/><line x1="385.4" y1="525" x2="385.4" y2="530.7" stroke="#c83a3a" stroke-width="0.6"/><text x="396.45" y="529.54" font-size="4.7" text-anchor="middle" class="g" fill="#dcebd8">H9</text><line x1="394.35" y1="526.1" x2="398.55" y2="526.1" stroke="#dcebd8" stroke-width="0.35"/><line x1="407.5" y1="525" x2="407.5" y2="530.7" stroke="#c83a3a" stroke-width="0.6"/><text x="418.35" y="529.54" font-size="4.7" text-anchor="middle" class="g" fill="#dcebd8">H10</text><line x1="415.55" y1="526.1" x2="421.15" y2="526.1" stroke="#dcebd8" stroke-width="0.35"/><line x1="429.2" y1="525" x2="429.2" y2="530.7" stroke="#c83a3a" stroke-width="0.6"/><text x="435.3" y="529.54" font-size="4.7" text-anchor="middle" class="g" fill="#dcebd8">H11</text><line x1="432.5" y1="526.1" x2="438.1" y2="526.1" stroke="#dcebd8" stroke-width="0.35"/><rect x="221" y="525.2" width="220.2" height="5.3" fill="none" stroke="#c83a3a" stroke-width="0.8"/><rect x="220.8" y="534.5" width="208.4" height="5.7" fill="#366c3b" stroke="#1e3a21" stroke-width="0.5"/><text x="226.55" y="539.04" font-size="4.7" text-anchor="middle" class="g" fill="#dcebd8">H1</text><line x1="232.3" y1="534.5" x2="232.3" y2="540.2" stroke="#173d1c" stroke-width="0.5"/><text x="240" y="539.04" font-size="4.7" text-anchor="middle" class="g" fill="#dcebd8">H2</text><line x1="247.7" y1="534.5" x2="247.7" y2="540.2" stroke="#173d1c" stroke-width="0.5"/><text x="262.25" y="539.04" font-size="4.7" text-anchor="middle" class="g" fill="#dcebd8">H3</text><line x1="276.8" y1="534.5" x2="276.8" y2="540.2" stroke="#173d1c" stroke-width="0.5"/><text x="285.55" y="539.04" font-size="4.7" text-anchor="middle" class="g" fill="#dcebd8">H4</text><line x1="294.3" y1="534.5" x2="294.3" y2="540.2" stroke="#173d1c" stroke-width="0.5"/><text x="310.95" y="539.04" font-size="4.7" text-anchor="middle" class="g" fill="#dcebd8">H5</text><line x1="327.6" y1="534.5" x2="327.6" y2="540.2" stroke="#173d1c" stroke-width="0.5"/><text x="338.15" y="539.04" font-size="4.7" text-anchor="middle" class="g" fill="#dcebd8">H6</text><line x1="348.7" y1="534.5" x2="348.7" y2="540.2" stroke="#173d1c" stroke-width="0.5"/><text x="361.45" y="539.04" font-size="4.7" text-anchor="middle" class="g" fill="#dcebd8">H7</text><line x1="374.2" y1="534.5" x2="374.2" y2="540.2" stroke="#173d1c" stroke-width="0.5"/><text x="379.8" y="539.04" font-size="4.7" text-anchor="middle" class="g" fill="#dcebd8">H8</text><line x1="385.4" y1="534.5" x2="385.4" y2="540.2" stroke="#173d1c" stroke-width="0.5"/><text x="396.45" y="539.04" font-size="4.7" text-anchor="middle" class="g" fill="#dcebd8">H9</text><line x1="407.5" y1="534.5" x2="407.5" y2="540.2" stroke="#173d1c" stroke-width="0.5"/><text x="418.35" y="539.04" font-size="4.7" text-anchor="middle" class="g" fill="#dcebd8">H10</text><rect x="348.7" y="543.6" width="92.7" height="5.7" fill="#366c3b" stroke="#1e3a21" stroke-width="0.5"/><text x="361.45" y="548.14" font-size="4.7" text-anchor="middle" class="g" fill="#dcebd8">H7</text><line x1="359.35" y1="544.7" x2="363.55" y2="544.7" stroke="#dcebd8" stroke-width="0.35"/><line x1="374.2" y1="543.6" x2="374.2" y2="549.3" stroke="#c83a3a" stroke-width="0.6"/><text x="379.8" y="548.14" font-size="4.7" text-anchor="middle" class="g" fill="#dcebd8">H8</text><line x1="377.7" y1="544.7" x2="381.9" y2="544.7" stroke="#dcebd8" stroke-width="0.35"/><line x1="385.4" y1="543.6" x2="385.4" y2="549.3" stroke="#c83a3a" stroke-width="0.6"/><text x="396.45" y="548.14" font-size="4.7" text-anchor="middle" class="g" fill="#dcebd8">H9</text><line x1="394.35" y1="544.7" x2="398.55" y2="544.7" stroke="#dcebd8" stroke-width="0.35"/><line x1="407.5" y1="543.6" x2="407.5" y2="549.3" stroke="#c83a3a" stroke-width="0.6"/><text x="418.35" y="548.14" font-size="4.7" text-anchor="middle" class="g" fill="#dcebd8">H10</text><line x1="415.55" y1="544.7" x2="421.15" y2="544.7" stroke="#dcebd8" stroke-width="0.35"/><line x1="429.2" y1="543.6" x2="429.2" y2="549.3" stroke="#c83a3a" stroke-width="0.6"/><text x="435.3" y="548.14" font-size="4.7" text-anchor="middle" class="g" fill="#dcebd8">H11</text><line x1="432.5" y1="544.7" x2="438.1" y2="544.7" stroke="#dcebd8" stroke-width="0.35"/><rect x="348.9" y="543.8" width="92.3" height="5.3" fill="none" stroke="#c83a3a" stroke-width="0.8"/><rect x="327.6" y="553" width="101.6" height="5.7" fill="#366c3b" stroke="#1e3a21" stroke-width="0.5"/><text x="338.15" y="557.54" font-size="4.7" text-anchor="middle" class="g" fill="#dcebd8">H6</text><line x1="348.7" y1="553" x2="348.7" y2="558.7" stroke="#173d1c" stroke-width="0.5"/><text x="361.45" y="557.54" font-size="4.7" text-anchor="middle" class="g" fill="#dcebd8">H7</text><line x1="374.2" y1="553" x2="374.2" y2="558.7" stroke="#173d1c" stroke-width="0.5"/><text x="379.8" y="557.54" font-size="4.7" text-anchor="middle" class="g" fill="#dcebd8">H8</text><line x1="385.4" y1="553" x2="385.4" y2="558.7" stroke="#173d1c" stroke-width="0.5"/><text x="396.45" y="557.54" font-size="4.7" text-anchor="middle" class="g" fill="#dcebd8">H9</text><line x1="407.5" y1="553" x2="407.5" y2="558.7" stroke="#173d1c" stroke-width="0.5"/><text x="418.35" y="557.54" font-size="4.7" text-anchor="middle" class="g" fill="#dcebd8">H10</text><rect x="429.2" y="561.5" width="12.2" height="5.7" fill="#366c3b" stroke="#1e3a21" stroke-width="0.5"/><text x="435.3" y="566.04" font-size="4.7" text-anchor="middle" class="g" fill="#dcebd8">H11</text><line x1="432.5" y1="562.6" x2="438.1" y2="562.6" stroke="#dcebd8" stroke-width="0.35"/><rect x="429.4" y="561.7" width="11.8" height="5.3" fill="none" stroke="#c83a3a" stroke-width="0.8"/><rect x="407.5" y="570.2" width="33.9" height="5.7" fill="#366c3b" stroke="#1e3a21" stroke-width="0.5"/><text x="418.35" y="574.74" font-size="4.7" text-anchor="middle" class="g" fill="#dcebd8">H10</text><line x1="429.2" y1="570.2" x2="429.2" y2="575.9" stroke="#173d1c" stroke-width="0.5"/><text x="435.3" y="574.74" font-size="4.7" text-anchor="middle" class="g" fill="#dcebd8">H11</text><rect x="327.6" y="580" width="101.6" height="5.7" fill="#366c3b" stroke="#1e3a21" stroke-width="0.5"/><text x="338.15" y="584.54" font-size="4.7" text-anchor="middle" class="g" fill="#dcebd8">H6</text><line x1="336.05" y1="581.1" x2="340.25" y2="581.1" stroke="#dcebd8" stroke-width="0.35"/><line x1="348.7" y1="580" x2="348.7" y2="585.7" stroke="#c83a3a" stroke-width="0.6"/><text x="361.45" y="584.54" font-size="4.7" text-anchor="middle" class="g" fill="#dcebd8">H7</text><line x1="359.35" y1="581.1" x2="363.55" y2="581.1" stroke="#dcebd8" stroke-width="0.35"/><line x1="374.2" y1="580" x2="374.2" y2="585.7" stroke="#c83a3a" stroke-width="0.6"/><text x="379.8" y="584.54" font-size="4.7" text-anchor="middle" class="g" fill="#dcebd8">H8</text><line x1="377.7" y1="581.1" x2="381.9" y2="581.1" stroke="#dcebd8" stroke-width="0.35"/><line x1="385.4" y1="580" x2="385.4" y2="585.7" stroke="#c83a3a" stroke-width="0.6"/><text x="396.45" y="584.54" font-size="4.7" text-anchor="middle" class="g" fill="#dcebd8">H9</text><line x1="394.35" y1="581.1" x2="398.55" y2="581.1" stroke="#dcebd8" stroke-width="0.35"/><line x1="407.5" y1="580" x2="407.5" y2="585.7" stroke="#c83a3a" stroke-width="0.6"/><text x="418.35" y="584.54" font-size="4.7" text-anchor="middle" class="g" fill="#dcebd8">H10</text><line x1="415.55" y1="581.1" x2="421.15" y2="581.1" stroke="#dcebd8" stroke-width="0.35"/><rect x="327.8" y="580.2" width="101.2" height="5.3" fill="none" stroke="#c83a3a" stroke-width="0.8"/><rect x="348.7" y="589.2" width="25.5" height="5.7" fill="#366c3b" stroke="#1e3a21" stroke-width="0.5"/><text x="361.45" y="593.74" font-size="4.7" text-anchor="middle" class="g" fill="#dcebd8">H7</text><path d="M664.5 498.85 C683.7 498.85 683.7 508.65 676.7 508.65" fill="none" stroke="#94c987" stroke-width="0.8"/><path d="M664.5 518.05 C683.7 518.05 683.7 527.85 676.7 527.85" fill="none" stroke="#94c987" stroke-width="0.8"/><path d="M664.5 537.35 C683.7 537.35 683.7 546.45 676.7 546.45" fill="none" stroke="#94c987" stroke-width="0.8"/><path d="M584 546.45 C550.9 546.45 550.9 555.85 562.9 555.85" fill="none" stroke="#94c987" stroke-width="0.8"/><path d="M664.5 555.85 C683.7 555.85 683.7 564.35 676.7 564.35" fill="none" stroke="#94c987" stroke-width="0.8"/><path d="M664.5 564.35 C632.8 564.35 632.8 573.05 642.8 573.05" fill="none" stroke="#94c987" stroke-width="0.8"/><path d="M676.7 573.05 C683.7 573.05 683.7 582.85 664.5 582.85" fill="none" stroke="#94c987" stroke-width="0.8"/><path d="M562.9 582.85 C550.9 582.85 550.9 592.05 584 592.05" fill="none" stroke="#94c987" stroke-width="0.8"/><path d="M456.1 508.65 C450.1 508.65 450.1 518.05 456.1 518.05" fill="none" stroke="#222" stroke-width="0.9" stroke-dasharray="2.2 1.6"/><path d="M456.1 527.85 C450.1 527.85 450.1 537.35 456.1 537.35" fill="none" stroke="#222" stroke-width="0.9" stroke-dasharray="2.2 1.6"/><rect x="456.1" y="505.8" width="220.6" height="5.7" fill="#366c3b" stroke="#1e3a21" stroke-width="0.5"/><text x="461.85" y="510.34" font-size="4.7" text-anchor="middle" class="g" fill="#dcebd8">H1</text><line x1="459.75" y1="506.9" x2="463.95" y2="506.9" stroke="#dcebd8" stroke-width="0.35"/><line x1="467.6" y1="505.8" x2="467.6" y2="511.5" stroke="#c83a3a" stroke-width="0.6"/><text x="475.3" y="510.34" font-size="4.7" text-anchor="middle" class="g" fill="#dcebd8">H2</text><line x1="473.2" y1="506.9" x2="477.4" y2="506.9" stroke="#dcebd8" stroke-width="0.35"/><line x1="483" y1="505.8" x2="483" y2="511.5" stroke="#c83a3a" stroke-width="0.6"/><text x="497.55" y="510.34" font-size="4.7" text-anchor="middle" class="g" fill="#dcebd8">H3</text><line x1="495.45" y1="506.9" x2="499.65" y2="506.9" stroke="#dcebd8" stroke-width="0.35"/><line x1="512.1" y1="505.8" x2="512.1" y2="511.5" stroke="#c83a3a" stroke-width="0.6"/><text x="520.85" y="510.34" font-size="4.7" text-anchor="middle" class="g" fill="#dcebd8">H4</text><line x1="518.75" y1="506.9" x2="522.95" y2="506.9" stroke="#dcebd8" stroke-width="0.35"/><line x1="529.6" y1="505.8" x2="529.6" y2="511.5" stroke="#c83a3a" stroke-width="0.6"/><text x="546.25" y="510.34" font-size="4.7" text-anchor="middle" class="g" fill="#dcebd8">H5</text><line x1="544.15" y1="506.9" x2="548.35" y2="506.9" stroke="#dcebd8" stroke-width="0.35"/><line x1="562.9" y1="505.8" x2="562.9" y2="511.5" stroke="#c83a3a" stroke-width="0.6"/><text x="573.45" y="510.34" font-size="4.7" text-anchor="middle" class="g" fill="#dcebd8">H6</text><line x1="571.35" y1="506.9" x2="575.55" y2="506.9" stroke="#dcebd8" stroke-width="0.35"/><line x1="584" y1="505.8" x2="584" y2="511.5" stroke="#c83a3a" stroke-width="0.6"/><text x="596.75" y="510.34" font-size="4.7" text-anchor="middle" class="g" fill="#dcebd8">H7</text><line x1="594.65" y1="506.9" x2="598.85" y2="506.9" stroke="#dcebd8" stroke-width="0.35"/><line x1="609.5" y1="505.8" x2="609.5" y2="511.5" stroke="#c83a3a" stroke-width="0.6"/><text x="615.1" y="510.34" font-size="4.7" text-anchor="middle" class="g" fill="#dcebd8">H8</text><line x1="613" y1="506.9" x2="617.2" y2="506.9" stroke="#dcebd8" stroke-width="0.35"/><line x1="620.7" y1="505.8" x2="620.7" y2="511.5" stroke="#c83a3a" stroke-width="0.6"/><text x="631.75" y="510.34" font-size="4.7" text-anchor="middle" class="g" fill="#dcebd8">H9</text><line x1="629.65" y1="506.9" x2="633.85" y2="506.9" stroke="#dcebd8" stroke-width="0.35"/><line x1="642.8" y1="505.8" x2="642.8" y2="511.5" stroke="#c83a3a" stroke-width="0.6"/><text x="653.65" y="510.34" font-size="4.7" text-anchor="middle" class="g" fill="#dcebd8">H10</text><line x1="650.85" y1="506.9" x2="656.45" y2="506.9" stroke="#dcebd8" stroke-width="0.35"/><line x1="664.5" y1="505.8" x2="664.5" y2="511.5" stroke="#c83a3a" stroke-width="0.6"/><text x="670.6" y="510.34" font-size="4.7" text-anchor="middle" class="g" fill="#dcebd8">H11</text><line x1="667.8" y1="506.9" x2="673.4" y2="506.9" stroke="#dcebd8" stroke-width="0.35"/><rect x="456.3" y="506" width="220.2" height="5.3" fill="none" stroke="#c83a3a" stroke-width="0.8"/><rect x="456.1" y="515.2" width="208.4" height="5.7" fill="#366c3b" stroke="#1e3a21" stroke-width="0.5"/><text x="461.85" y="519.74" font-size="4.7" text-anchor="middle" class="g" fill="#dcebd8">H1</text><line x1="467.6" y1="515.2" x2="467.6" y2="520.9" stroke="#173d1c" stroke-width="0.5"/><text x="475.3" y="519.74" font-size="4.7" text-anchor="middle" class="g" fill="#dcebd8">H2</text><line x1="483" y1="515.2" x2="483" y2="520.9" stroke="#173d1c" stroke-width="0.5"/><text x="497.55" y="519.74" font-size="4.7" text-anchor="middle" class="g" fill="#dcebd8">H3</text><line x1="512.1" y1="515.2" x2="512.1" y2="520.9" stroke="#173d1c" stroke-width="0.5"/><text x="520.85" y="519.74" font-size="4.7" text-anchor="middle" class="g" fill="#dcebd8">H4</text><line x1="529.6" y1="515.2" x2="529.6" y2="520.9" stroke="#173d1c" stroke-width="0.5"/><text x="546.25" y="519.74" font-size="4.7" text-anchor="middle" class="g" fill="#dcebd8">H5</text><line x1="562.9" y1="515.2" x2="562.9" y2="520.9" stroke="#173d1c" stroke-width="0.5"/><text x="573.45" y="519.74" font-size="4.7" text-anchor="middle" class="g" fill="#dcebd8">H6</text><line x1="584" y1="515.2" x2="584" y2="520.9" stroke="#173d1c" stroke-width="0.5"/><text x="596.75" y="519.74" font-size="4.7" text-anchor="middle" class="g" fill="#dcebd8">H7</text><line x1="609.5" y1="515.2" x2="609.5" y2="520.9" stroke="#173d1c" stroke-width="0.5"/><text x="615.1" y="519.74" font-size="4.7" text-anchor="middle" class="g" fill="#dcebd8">H8</text><line x1="620.7" y1="515.2" x2="620.7" y2="520.9" stroke="#173d1c" stroke-width="0.5"/><text x="631.75" y="519.74" font-size="4.7" text-anchor="middle" class="g" fill="#dcebd8">H9</text><line x1="642.8" y1="515.2" x2="642.8" y2="520.9" stroke="#173d1c" stroke-width="0.5"/><text x="653.65" y="519.74" font-size="4.7" text-anchor="middle" class="g" fill="#dcebd8">H10</text><rect x="456.1" y="525" width="220.6" height="5.7" fill="#366c3b" stroke="#1e3a21" stroke-width="0.5"/><text x="461.85" y="529.54" font-size="4.7" text-anchor="middle" class="g" fill="#dcebd8">H1</text><line x1="459.75" y1="526.1" x2="463.95" y2="526.1" stroke="#dcebd8" stroke-width="0.35"/><line x1="467.6" y1="525" x2="467.6" y2="530.7" stroke="#c83a3a" stroke-width="0.6"/><text x="475.3" y="529.54" font-size="4.7" text-anchor="middle" class="g" fill="#dcebd8">H2</text><line x1="473.2" y1="526.1" x2="477.4" y2="526.1" stroke="#dcebd8" stroke-width="0.35"/><line x1="483" y1="525" x2="483" y2="530.7" stroke="#c83a3a" stroke-width="0.6"/><text x="497.55" y="529.54" font-size="4.7" text-anchor="middle" class="g" fill="#dcebd8">H3</text><line x1="495.45" y1="526.1" x2="499.65" y2="526.1" stroke="#dcebd8" stroke-width="0.35"/><line x1="512.1" y1="525" x2="512.1" y2="530.7" stroke="#c83a3a" stroke-width="0.6"/><text x="520.85" y="529.54" font-size="4.7" text-anchor="middle" class="g" fill="#dcebd8">H4</text><line x1="518.75" y1="526.1" x2="522.95" y2="526.1" stroke="#dcebd8" stroke-width="0.35"/><line x1="529.6" y1="525" x2="529.6" y2="530.7" stroke="#c83a3a" stroke-width="0.6"/><text x="546.25" y="529.54" font-size="4.7" text-anchor="middle" class="g" fill="#dcebd8">H5</text><line x1="544.15" y1="526.1" x2="548.35" y2="526.1" stroke="#dcebd8" stroke-width="0.35"/><line x1="562.9" y1="525" x2="562.9" y2="530.7" stroke="#c83a3a" stroke-width="0.6"/><text x="573.45" y="529.54" font-size="4.7" text-anchor="middle" class="g" fill="#dcebd8">H6</text><line x1="571.35" y1="526.1" x2="575.55" y2="526.1" stroke="#dcebd8" stroke-width="0.35"/><line x1="584" y1="525" x2="584" y2="530.7" stroke="#c83a3a" stroke-width="0.6"/><text x="596.75" y="529.54" font-size="4.7" text-anchor="middle" class="g" fill="#dcebd8">H7</text><line x1="594.65" y1="526.1" x2="598.85" y2="526.1" stroke="#dcebd8" stroke-width="0.35"/><line x1="609.5" y1="525" x2="609.5" y2="530.7" stroke="#c83a3a" stroke-width="0.6"/><text x="615.1" y="529.54" font-size="4.7" text-anchor="middle" class="g" fill="#dcebd8">H8</text><line x1="613" y1="526.1" x2="617.2" y2="526.1" stroke="#dcebd8" stroke-width="0.35"/><line x1="620.7" y1="525" x2="620.7" y2="530.7" stroke="#c83a3a" stroke-width="0.6"/><text x="631.75" y="529.54" font-size="4.7" text-anchor="middle" class="g" fill="#dcebd8">H9</text><line x1="629.65" y1="526.1" x2="633.85" y2="526.1" stroke="#dcebd8" stroke-width="0.35"/><line x1="642.8" y1="525" x2="642.8" y2="530.7" stroke="#c83a3a" stroke-width="0.6"/><text x="653.65" y="529.54" font-size="4.7" text-anchor="middle" class="g" fill="#dcebd8">H10</text><line x1="650.85" y1="526.1" x2="656.45" y2="526.1" stroke="#dcebd8" stroke-width="0.35"/><line x1="664.5" y1="525" x2="664.5" y2="530.7" stroke="#c83a3a" stroke-width="0.6"/><text x="670.6" y="529.54" font-size="4.7" text-anchor="middle" class="g" fill="#dcebd8">H11</text><line x1="667.8" y1="526.1" x2="673.4" y2="526.1" stroke="#dcebd8" stroke-width="0.35"/><rect x="456.3" y="525.2" width="220.2" height="5.3" fill="none" stroke="#c83a3a" stroke-width="0.8"/><rect x="456.1" y="534.5" width="208.4" height="5.7" fill="#366c3b" stroke="#1e3a21" stroke-width="0.5"/><text x="461.85" y="539.04" font-size="4.7" text-anchor="middle" class="g" fill="#dcebd8">H1</text><line x1="467.6" y1="534.5" x2="467.6" y2="540.2" stroke="#173d1c" stroke-width="0.5"/><text x="475.3" y="539.04" font-size="4.7" text-anchor="middle" class="g" fill="#dcebd8">H2</text><line x1="483" y1="534.5" x2="483" y2="540.2" stroke="#173d1c" stroke-width="0.5"/><text x="497.55" y="539.04" font-size="4.7" text-anchor="middle" class="g" fill="#dcebd8">H3</text><line x1="512.1" y1="534.5" x2="512.1" y2="540.2" stroke="#173d1c" stroke-width="0.5"/><text x="520.85" y="539.04" font-size="4.7" text-anchor="middle" class="g" fill="#dcebd8">H4</text><line x1="529.6" y1="534.5" x2="529.6" y2="540.2" stroke="#173d1c" stroke-width="0.5"/><text x="546.25" y="539.04" font-size="4.7" text-anchor="middle" class="g" fill="#dcebd8">H5</text><line x1="562.9" y1="534.5" x2="562.9" y2="540.2" stroke="#173d1c" stroke-width="0.5"/><text x="573.45" y="539.04" font-size="4.7" text-anchor="middle" class="g" fill="#dcebd8">H6</text><line x1="584" y1="534.5" x2="584" y2="540.2" stroke="#173d1c" stroke-width="0.5"/><text x="596.75" y="539.04" font-size="4.7" text-anchor="middle" class="g" fill="#dcebd8">H7</text><line x1="609.5" y1="534.5" x2="609.5" y2="540.2" stroke="#173d1c" stroke-width="0.5"/><text x="615.1" y="539.04" font-size="4.7" text-anchor="middle" class="g" fill="#dcebd8">H8</text><line x1="620.7" y1="534.5" x2="620.7" y2="540.2" stroke="#173d1c" stroke-width="0.5"/><text x="631.75" y="539.04" font-size="4.7" text-anchor="middle" class="g" fill="#dcebd8">H9</text><line x1="642.8" y1="534.5" x2="642.8" y2="540.2" stroke="#173d1c" stroke-width="0.5"/><text x="653.65" y="539.04" font-size="4.7" text-anchor="middle" class="g" fill="#dcebd8">H10</text><rect x="584" y="543.6" width="92.7" height="5.7" fill="#366c3b" stroke="#1e3a21" stroke-width="0.5"/><text x="596.75" y="548.14" font-size="4.7" text-anchor="middle" class="g" fill="#dcebd8">H7</text><line x1="594.65" y1="544.7" x2="598.85" y2="544.7" stroke="#dcebd8" stroke-width="0.35"/><line x1="609.5" y1="543.6" x2="609.5" y2="549.3" stroke="#c83a3a" stroke-width="0.6"/><text x="615.1" y="548.14" font-size="4.7" text-anchor="middle" class="g" fill="#dcebd8">H8</text><line x1="613" y1="544.7" x2="617.2" y2="544.7" stroke="#dcebd8" stroke-width="0.35"/><line x1="620.7" y1="543.6" x2="620.7" y2="549.3" stroke="#c83a3a" stroke-width="0.6"/><text x="631.75" y="548.14" font-size="4.7" text-anchor="middle" class="g" fill="#dcebd8">H9</text><line x1="629.65" y1="544.7" x2="633.85" y2="544.7" stroke="#dcebd8" stroke-width="0.35"/><line x1="642.8" y1="543.6" x2="642.8" y2="549.3" stroke="#c83a3a" stroke-width="0.6"/><text x="653.65" y="548.14" font-size="4.7" text-anchor="middle" class="g" fill="#dcebd8">H10</text><line x1="650.85" y1="544.7" x2="656.45" y2="544.7" stroke="#dcebd8" stroke-width="0.35"/><line x1="664.5" y1="543.6" x2="664.5" y2="549.3" stroke="#c83a3a" stroke-width="0.6"/><text x="670.6" y="548.14" font-size="4.7" text-anchor="middle" class="g" fill="#dcebd8">H11</text><line x1="667.8" y1="544.7" x2="673.4" y2="544.7" stroke="#dcebd8" stroke-width="0.35"/><rect x="584.2" y="543.8" width="92.3" height="5.3" fill="none" stroke="#c83a3a" stroke-width="0.8"/><rect x="562.9" y="553" width="101.6" height="5.7" fill="#366c3b" stroke="#1e3a21" stroke-width="0.5"/><text x="573.45" y="557.54" font-size="4.7" text-anchor="middle" class="g" fill="#dcebd8">H6</text><line x1="584" y1="553" x2="584" y2="558.7" stroke="#173d1c" stroke-width="0.5"/><text x="596.75" y="557.54" font-size="4.7" text-anchor="middle" class="g" fill="#dcebd8">H7</text><line x1="609.5" y1="553" x2="609.5" y2="558.7" stroke="#173d1c" stroke-width="0.5"/><text x="615.1" y="557.54" font-size="4.7" text-anchor="middle" class="g" fill="#dcebd8">H8</text><line x1="620.7" y1="553" x2="620.7" y2="558.7" stroke="#173d1c" stroke-width="0.5"/><text x="631.75" y="557.54" font-size="4.7" text-anchor="middle" class="g" fill="#dcebd8">H9</text><line x1="642.8" y1="553" x2="642.8" y2="558.7" stroke="#173d1c" stroke-width="0.5"/><text x="653.65" y="557.54" font-size="4.7" text-anchor="middle" class="g" fill="#dcebd8">H10</text><rect x="664.5" y="561.5" width="12.2" height="5.7" fill="#366c3b" stroke="#1e3a21" stroke-width="0.5"/><text x="670.6" y="566.04" font-size="4.7" text-anchor="middle" class="g" fill="#dcebd8">H11</text><line x1="667.8" y1="562.6" x2="673.4" y2="562.6" stroke="#dcebd8" stroke-width="0.35"/><rect x="664.7" y="561.7" width="11.8" height="5.3" fill="none" stroke="#c83a3a" stroke-width="0.8"/><rect x="642.8" y="570.2" width="33.9" height="5.7" fill="#366c3b" stroke="#1e3a21" stroke-width="0.5"/><text x="653.65" y="574.74" font-size="4.7" text-anchor="middle" class="g" fill="#dcebd8">H10</text><line x1="664.5" y1="570.2" x2="664.5" y2="575.9" stroke="#173d1c" stroke-width="0.5"/><text x="670.6" y="574.74" font-size="4.7" text-anchor="middle" class="g" fill="#dcebd8">H11</text><rect x="562.9" y="580" width="101.6" height="5.7" fill="#366c3b" stroke="#1e3a21" stroke-width="0.5"/><text x="573.45" y="584.54" font-size="4.7" text-anchor="middle" class="g" fill="#dcebd8">H6</text><line x1="571.35" y1="581.1" x2="575.55" y2="581.1" stroke="#dcebd8" stroke-width="0.35"/><line x1="584" y1="580" x2="584" y2="585.7" stroke="#c83a3a" stroke-width="0.6"/><text x="596.75" y="584.54" font-size="4.7" text-anchor="middle" class="g" fill="#dcebd8">H7</text><line x1="594.65" y1="581.1" x2="598.85" y2="581.1" stroke="#dcebd8" stroke-width="0.35"/><line x1="609.5" y1="580" x2="609.5" y2="585.7" stroke="#c83a3a" stroke-width="0.6"/><text x="615.1" y="584.54" font-size="4.7" text-anchor="middle" class="g" fill="#dcebd8">H8</text><line x1="613" y1="581.1" x2="617.2" y2="581.1" stroke="#dcebd8" stroke-width="0.35"/><line x1="620.7" y1="580" x2="620.7" y2="585.7" stroke="#c83a3a" stroke-width="0.6"/><text x="631.75" y="584.54" font-size="4.7" text-anchor="middle" class="g" fill="#dcebd8">H9</text><line x1="629.65" y1="581.1" x2="633.85" y2="581.1" stroke="#dcebd8" stroke-width="0.35"/><line x1="642.8" y1="580" x2="642.8" y2="585.7" stroke="#c83a3a" stroke-width="0.6"/><text x="653.65" y="584.54" font-size="4.7" text-anchor="middle" class="g" fill="#dcebd8">H10</text><line x1="650.85" y1="581.1" x2="656.45" y2="581.1" stroke="#dcebd8" stroke-width="0.35"/><rect x="563.1" y="580.2" width="101.2" height="5.3" fill="none" stroke="#c83a3a" stroke-width="0.8"/><rect x="584" y="589.2" width="25.5" height="5.7" fill="#366c3b" stroke="#1e3a21" stroke-width="0.5"/><text x="596.75" y="593.74" font-size="4.7" text-anchor="middle" class="g" fill="#dcebd8">H7</text><rect x="232.3" y="493.9" width="15.4" height="10" fill="none" stroke="#e03a3a" stroke-width="0.8" stroke-dasharray="3.6 3"/><rect x="276.8" y="493.9" width="17.5" height="10" fill="none" stroke="#e03a3a" stroke-width="0.8" stroke-dasharray="3.6 3"/><rect x="374.2" y="493.9" width="11.2" height="10" fill="none" stroke="#e03a3a" stroke-width="0.8" stroke-dasharray="3.6 3"/><rect x="456.1" y="496" width="11.5" height="5.7" fill="#366c3b" stroke="#1e3a21" stroke-width="0.5"/><text x="461.85" y="500.54" font-size="4.7" text-anchor="middle" class="g" fill="#dcebd8">H1</text><rect x="483" y="496" width="29.1" height="5.7" fill="#366c3b" stroke="#1e3a21" stroke-width="0.5"/><text x="497.55" y="500.54" font-size="4.7" text-anchor="middle" class="g" fill="#dcebd8">H3</text><rect x="529.6" y="496" width="79.9" height="5.7" fill="#366c3b" stroke="#1e3a21" stroke-width="0.5"/><text x="546.25" y="500.54" font-size="4.7" text-anchor="middle" class="g" fill="#dcebd8">H5</text><line x1="562.9" y1="496" x2="562.9" y2="501.7" stroke="#173d1c" stroke-width="0.5"/><text x="573.45" y="500.54" font-size="4.7" text-anchor="middle" class="g" fill="#dcebd8">H6</text><line x1="584" y1="496" x2="584" y2="501.7" stroke="#173d1c" stroke-width="0.5"/><text x="596.75" y="500.54" font-size="4.7" text-anchor="middle" class="g" fill="#dcebd8">H7</text><rect x="620.7" y="496" width="43.8" height="5.7" fill="#366c3b" stroke="#1e3a21" stroke-width="0.5"/><text x="631.75" y="500.54" font-size="4.7" text-anchor="middle" class="g" fill="#dcebd8">H9</text><line x1="642.8" y1="496" x2="642.8" y2="501.7" stroke="#173d1c" stroke-width="0.5"/><text x="653.65" y="500.54" font-size="4.7" text-anchor="middle" class="g" fill="#dcebd8">H10</text><line x1="467.6" y1="498.85" x2="483" y2="498.85" stroke="#8fc0e0" stroke-width="0.8"/><rect x="467.6" y="493.9" width="15.4" height="10" fill="none" stroke="#e03a3a" stroke-width="0.8" stroke-dasharray="3.6 3"/><line x1="512.1" y1="498.85" x2="529.6" y2="498.85" stroke="#8fc0e0" stroke-width="0.8"/><rect x="512.1" y="493.9" width="17.5" height="10" fill="none" stroke="#e03a3a" stroke-width="0.8" stroke-dasharray="3.6 3"/><line x1="609.5" y1="498.85" x2="620.7" y2="498.85" stroke="#8fc0e0" stroke-width="0.8"/><rect x="609.5" y="493.9" width="11.2" height="10" fill="none" stroke="#e03a3a" stroke-width="0.8" stroke-dasharray="3.6 3"/></svg>
</body></html>
